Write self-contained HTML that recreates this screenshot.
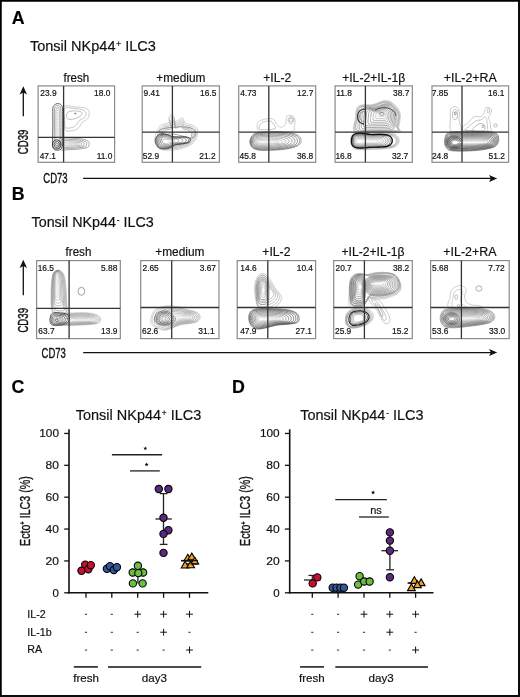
<!DOCTYPE html>
<html><head><meta charset="utf-8"><style>
html,body{margin:0;padding:0;background:#fff;}
body{width:520px;height:697px;overflow:hidden;font-family:"Liberation Sans", sans-serif;}
svg{display:block;will-change:transform;}
text{stroke:#111;stroke-width:0.18px;}
</style></head><body>
<svg width="520" height="697" viewBox="0 0 520 697" font-family='"Liberation Sans", sans-serif'>
<rect x="0" y="0" width="520" height="697" fill="#fff"/>
<text x="11.80" y="23.80" font-size="17.8" text-anchor="start" font-weight="bold" fill="#000" >A</text>
<text x="11.70" y="199.80" font-size="17.8" text-anchor="start" font-weight="bold" fill="#000" >B</text>
<text x="11.40" y="392.80" font-size="17.8" text-anchor="start" font-weight="bold" fill="#000" >C</text>
<text x="231.90" y="392.80" font-size="17.8" text-anchor="start" font-weight="bold" fill="#000" >D</text>
<text x="29.9" y="51.0" font-size="14.7" fill="#111" textLength="126.0" lengthAdjust="spacingAndGlyphs">Tonsil NKp44<tspan dx="0.8" dy="-4.1" font-size="8.5">+</tspan><tspan dy="4.1"> ILC3</tspan></text>
<text x="31.5" y="227.3" font-size="14.7" fill="#111" textLength="122.3" lengthAdjust="spacingAndGlyphs">Tonsil NKp44<tspan dx="0.8" dy="-4.1" font-size="8.5">-</tspan><tspan dy="4.1"> ILC3</tspan></text>
<text x="75.8" y="420.2" font-size="14.7" fill="#111" textLength="125.5" lengthAdjust="spacingAndGlyphs">Tonsil NKp44<tspan dx="0.8" dy="-4.1" font-size="8.5">+</tspan><tspan dy="4.1"> ILC3</tspan></text>
<text x="300.2" y="420.0" font-size="14.7" fill="#111" textLength="123.3" lengthAdjust="spacingAndGlyphs">Tonsil NKp44<tspan dx="0.8" dy="-4.1" font-size="8.5">-</tspan><tspan dy="4.1"> ILC3</tspan></text>
<g>
<path d="M64.00,106.60C65.70,104.58 70.52,106.55 74.10,106.80C77.68,107.05 82.98,107.13 85.50,108.10C88.02,109.07 88.83,110.87 89.20,112.60C89.57,114.33 88.82,116.90 87.70,118.50C86.58,120.10 84.22,120.47 82.50,122.20C80.78,123.93 79.62,127.42 77.40,128.90C75.18,130.38 71.30,130.98 69.20,131.10C67.10,131.22 65.68,131.63 64.80,129.60C63.92,127.57 64.03,122.73 63.90,118.90C63.77,115.07 62.30,108.62 64.00,106.60Z" fill="none" stroke="rgb(165, 165, 165)" stroke-width="0.55"/>
<path d="M64.60,108.40C66.18,106.65 71.10,108.18 74.10,108.40C77.10,108.62 80.60,108.87 82.60,109.70C84.60,110.53 85.77,112.12 86.10,113.40C86.43,114.68 85.68,116.23 84.60,117.40C83.52,118.57 81.27,118.90 79.60,120.40C77.93,121.90 76.43,125.12 74.60,126.40C72.77,127.68 70.18,128.02 68.60,128.10C67.02,128.18 65.77,128.43 65.10,126.90C64.43,125.37 64.68,121.98 64.60,118.90C64.52,115.82 63.02,110.15 64.60,108.40Z" fill="none" stroke="rgb(150, 150, 150)" stroke-width="0.55"/>
<path d="M67.60,112.40C68.85,111.40 71.93,111.02 74.10,110.90C76.27,110.78 79.27,111.20 80.60,111.70C81.93,112.20 82.35,113.03 82.10,113.90C81.85,114.77 80.43,116.07 79.10,116.90C77.77,117.73 75.77,118.48 74.10,118.90C72.43,119.32 70.35,119.73 69.10,119.40C67.85,119.07 66.85,118.07 66.60,116.90C66.35,115.73 66.35,113.40 67.60,112.40Z" fill="none" stroke="rgb(140, 140, 140)" stroke-width="0.55"/>
<ellipse cx="75.30" cy="113.50" rx="0.6" ry="0.5" transform="rotate(0 75.30 113.50)" fill="none" stroke="rgb(90, 90, 90)" stroke-width="0.8"/>
<path d="M60.10,138.50C62.27,136.65 69.27,138.18 73.10,138.30C76.93,138.42 80.52,138.63 83.10,139.20C85.68,139.77 87.60,140.85 88.60,141.70C89.60,142.55 89.27,143.37 89.10,144.30C88.93,145.23 89.10,146.53 87.60,147.30C86.10,148.07 83.35,148.50 80.10,148.90C76.85,149.30 71.43,149.62 68.10,149.70C64.77,149.78 61.43,151.27 60.10,149.40C58.77,147.53 57.93,140.35 60.10,138.50Z" fill="none" stroke="rgb(110, 110, 110)" stroke-width="0.6"/>
<path d="M61.61,139.73C63.48,138.29 69.52,139.49 72.82,139.58C76.13,139.67 79.22,139.84 81.45,140.28C83.68,140.72 85.33,141.56 86.19,142.23C87.06,142.89 86.77,143.53 86.62,144.26C86.48,144.98 86.62,146.00 85.33,146.60C84.04,147.19 81.67,147.53 78.86,147.84C76.06,148.16 71.39,148.40 68.51,148.47C65.64,148.53 62.76,149.69 61.61,148.23C60.46,146.78 59.74,141.18 61.61,139.73Z" fill="none" stroke="rgb(110, 110, 110)" stroke-width="0.6"/>
<path d="M63.12,140.96C64.70,139.93 69.77,140.79 72.55,140.85C75.33,140.92 77.93,141.04 79.80,141.36C81.67,141.67 83.06,142.28 83.79,142.76C84.51,143.23 84.27,143.69 84.15,144.21C84.03,144.73 84.15,145.46 83.06,145.89C81.97,146.32 79.98,146.56 77.62,146.79C75.27,147.01 71.34,147.19 68.92,147.24C66.51,147.28 64.09,148.11 63.12,147.07C62.16,146.02 61.55,142.00 63.12,140.96Z" fill="none" stroke="rgb(120, 120, 120)" stroke-width="0.6"/>
<path d="M64.64,142.20C65.91,141.57 70.02,142.09 72.27,142.13C74.53,142.17 76.63,142.24 78.15,142.43C79.67,142.63 80.79,143.00 81.38,143.28C81.97,143.57 81.77,143.85 81.67,144.17C81.58,144.49 81.67,144.93 80.79,145.19C79.91,145.45 78.30,145.60 76.39,145.73C74.48,145.87 71.30,145.98 69.34,146.00C67.38,146.03 65.42,146.54 64.64,145.90C63.85,145.27 63.36,142.83 64.64,142.20Z" fill="none" stroke="rgb(150, 150, 150)" stroke-width="0.6"/>
<path d="M66.15,143.43C67.12,143.21 70.28,143.39 72.00,143.40C73.72,143.42 75.34,143.44 76.50,143.51C77.66,143.58 78.52,143.71 78.97,143.81C79.42,143.91 79.27,144.01 79.20,144.12C79.12,144.24 79.20,144.39 78.52,144.48C77.85,144.58 76.61,144.63 75.15,144.68C73.69,144.72 71.25,144.76 69.75,144.77C68.25,144.78 66.75,144.96 66.15,144.74C65.55,144.51 65.17,143.65 66.15,143.43Z" fill="none" stroke="rgb(185, 185, 185)" stroke-width="0.6"/>
<path d="M54.10,105.40C54.88,104.58 56.43,103.58 57.60,103.50C58.77,103.42 60.28,104.00 61.10,104.90C61.92,105.80 62.25,106.23 62.50,108.90C62.75,111.57 62.62,116.73 62.60,120.90C62.58,125.07 62.38,130.40 62.40,133.90C62.42,137.40 62.83,139.48 62.70,141.90C62.57,144.32 62.45,147.02 61.60,148.40C60.75,149.78 58.97,150.15 57.60,150.20C56.23,150.25 54.25,149.92 53.40,148.70C52.55,147.48 52.60,145.87 52.50,142.90C52.40,139.93 52.75,135.40 52.80,130.90C52.85,126.40 52.78,119.65 52.80,115.90C52.82,112.15 52.68,110.15 52.90,108.40C53.12,106.65 53.32,106.22 54.10,105.40Z" fill="none" stroke="rgb(45, 45, 45)" stroke-width="0.75"/>
<path d="M55.24,106.94C55.77,106.18 56.81,105.26 57.60,105.18C58.39,105.10 59.41,105.64 59.96,106.48C60.51,107.31 60.74,107.71 60.91,110.18C61.08,112.64 60.99,117.42 60.98,121.28C60.96,125.13 60.83,130.06 60.84,133.30C60.85,136.54 61.13,138.46 61.04,140.70C60.95,142.94 60.87,145.43 60.30,146.71C59.73,147.99 58.52,148.33 57.60,148.38C56.68,148.42 55.34,148.12 54.77,146.99C54.19,145.86 54.23,144.37 54.16,141.62C54.09,138.88 54.33,134.69 54.36,130.53C54.39,126.36 54.35,120.12 54.36,116.65C54.37,113.18 54.28,111.33 54.43,109.71C54.57,108.09 54.71,107.69 55.24,106.94Z" fill="none" stroke="rgb(120, 120, 120)" stroke-width="0.75"/>
<path d="M56.38,108.48C56.65,107.78 57.19,106.93 57.60,106.86C58.01,106.79 58.54,107.29 58.83,108.05C59.11,108.82 59.23,109.18 59.31,111.45C59.40,113.72 59.36,118.11 59.35,121.65C59.34,125.19 59.27,129.73 59.28,132.70C59.29,135.68 59.43,137.45 59.39,139.50C59.34,141.55 59.30,143.85 59.00,145.03C58.70,146.20 58.08,146.51 57.60,146.56C57.12,146.60 56.43,146.31 56.13,145.28C55.83,144.25 55.85,142.87 55.82,140.35C55.78,137.83 55.90,133.97 55.92,130.15C55.94,126.33 55.91,120.59 55.92,117.40C55.93,114.21 55.88,112.51 55.95,111.03C56.03,109.54 56.10,109.17 56.38,108.48Z" fill="none" stroke="rgb(160, 160, 160)" stroke-width="0.75"/>
<line x1="57.70" y1="107.90" x2="57.70" y2="141.90" stroke="#999" stroke-width="0.7" stroke-dasharray="1 1.2"/>
<path d="M61.00,144.50C61.00,145.27 60.78,146.14 60.42,146.80C60.07,147.46 59.47,148.10 58.85,148.48C58.23,148.87 57.42,149.10 56.70,149.10C55.98,149.10 55.17,148.87 54.55,148.48C53.93,148.10 53.33,147.46 52.98,146.80C52.62,146.14 52.40,145.27 52.40,144.50C52.40,143.73 52.62,142.86 52.98,142.20C53.33,141.54 53.93,140.90 54.55,140.52C55.17,140.13 55.98,139.90 56.70,139.90C57.42,139.90 58.23,140.13 58.85,140.52C59.47,140.90 60.07,141.54 60.42,142.20C60.78,142.86 61.00,143.73 61.00,144.50Z" fill="none" stroke="rgb(30, 30, 30)" stroke-width="0.75"/>
<path d="M59.50,144.50C59.50,145.00 59.35,145.56 59.12,146.00C58.89,146.43 58.50,146.84 58.10,147.09C57.69,147.34 57.17,147.49 56.70,147.49C56.23,147.49 55.71,147.34 55.30,147.09C54.90,146.84 54.51,146.43 54.28,146.00C54.05,145.56 53.91,145.00 53.91,144.50C53.91,144.00 54.05,143.44 54.28,143.00C54.51,142.57 54.90,142.16 55.30,141.91C55.71,141.66 56.23,141.51 56.70,141.51C57.17,141.51 57.69,141.66 58.10,141.91C58.50,142.16 58.89,142.57 59.12,143.00C59.35,143.44 59.50,144.00 59.50,144.50Z" fill="none" stroke="rgb(70, 70, 70)" stroke-width="0.75"/>
<path d="M57.99,144.50C57.99,144.73 57.92,144.99 57.82,145.19C57.71,145.39 57.53,145.58 57.35,145.70C57.16,145.81 56.92,145.88 56.70,145.88C56.48,145.88 56.24,145.81 56.05,145.70C55.87,145.58 55.69,145.39 55.58,145.19C55.48,144.99 55.41,144.73 55.41,144.50C55.41,144.27 55.48,144.01 55.58,143.81C55.69,143.61 55.87,143.42 56.05,143.30C56.24,143.19 56.48,143.12 56.70,143.12C56.92,143.12 57.16,143.19 57.35,143.30C57.53,143.42 57.71,143.61 57.82,143.81C57.92,144.01 57.99,144.27 57.99,144.50Z" fill="none" stroke="rgb(110, 110, 110)" stroke-width="0.75"/>
</g>
<rect x="38.10" y="85.90" width="76.50" height="76.40" fill="none" stroke="#8a8a8a" stroke-width="1.2"/>
<line x1="63.60" y1="85.90" x2="63.60" y2="162.30" stroke="#333" stroke-width="1.3" />
<line x1="38.10" y1="137.30" x2="114.60" y2="137.30" stroke="#333" stroke-width="1.3" />
<text x="76.35" y="81.90" font-size="12" text-anchor="middle" font-weight="normal" fill="#111" textLength="25.8" lengthAdjust="spacingAndGlyphs" >fresh</text>
<text x="40.28" y="96.20" font-size="8.4" text-anchor="start" font-weight="normal" fill="#111" >23.9</text>
<text x="110.33" y="96.20" font-size="8.4" text-anchor="end" font-weight="normal" fill="#111" >18.0</text>
<text x="39.71" y="159.00" font-size="8.4" text-anchor="start" font-weight="normal" fill="#111" >47.1</text>
<text x="112.33" y="159.00" font-size="8.4" text-anchor="end" font-weight="normal" fill="#111" >11.0</text>
<g>
<path d="M154.80,138.90C154.80,136.90 155.47,135.40 156.20,133.40C156.93,131.40 158.20,128.40 159.20,126.90C160.20,125.40 160.87,124.98 162.20,124.40C163.53,123.82 166.03,123.82 167.20,123.40C168.37,122.98 168.93,122.82 169.20,121.90C169.47,120.98 168.63,118.98 168.80,117.90C168.97,116.82 169.38,115.73 170.20,115.40C171.02,115.07 172.98,115.32 173.70,115.90C174.42,116.48 174.50,117.98 174.50,118.90C174.50,119.82 173.25,121.07 173.70,121.40C174.15,121.73 176.12,121.32 177.20,120.90C178.28,120.48 179.28,119.40 180.20,118.90C181.12,118.40 182.03,117.57 182.70,117.90C183.37,118.23 183.70,119.98 184.20,120.90C184.70,121.82 184.37,122.73 185.70,123.40C187.03,124.07 190.37,124.15 192.20,124.90C194.03,125.65 195.77,126.57 196.70,127.90C197.63,129.23 197.88,131.07 197.80,132.90C197.72,134.73 197.13,137.07 196.20,138.90C195.27,140.73 193.87,142.57 192.20,143.90C190.53,145.23 188.53,145.98 186.20,146.90C183.87,147.82 181.03,148.83 178.20,149.40C175.37,149.97 172.03,150.30 169.20,150.30C166.37,150.30 163.37,150.22 161.20,149.40C159.03,148.58 157.27,147.15 156.20,145.40C155.13,143.65 154.80,140.90 154.80,138.90Z" fill="none" stroke="rgb(175, 175, 175)" stroke-width="0.55"/>
<path d="M156.48,138.80C156.48,137.00 157.10,135.65 157.77,133.85C158.45,132.05 159.62,129.35 160.55,128.00C161.47,126.65 162.09,126.28 163.32,125.75C164.56,125.22 166.87,125.23 167.95,124.85C169.03,124.48 169.55,124.33 169.80,123.50C170.05,122.67 169.28,120.88 169.43,119.90C169.58,118.93 169.97,117.95 170.72,117.65C171.48,117.35 173.30,117.58 173.96,118.10C174.63,118.63 174.70,119.98 174.70,120.80C174.70,121.63 173.55,122.75 173.96,123.05C174.38,123.35 176.20,122.98 177.20,122.60C178.20,122.23 179.13,121.25 179.97,120.80C180.82,120.35 181.67,119.60 182.29,119.90C182.90,120.20 183.21,121.78 183.67,122.60C184.14,123.43 183.83,124.25 185.06,124.85C186.30,125.45 189.38,125.53 191.07,126.20C192.77,126.88 194.37,127.70 195.24,128.90C196.10,130.10 196.33,131.75 196.25,133.40C196.18,135.05 195.64,137.15 194.77,138.80C193.91,140.45 192.62,142.10 191.07,143.30C189.53,144.50 187.68,145.18 185.52,146.00C183.37,146.82 180.75,147.74 178.12,148.25C175.50,148.76 172.42,149.06 169.80,149.06C167.18,149.06 164.40,148.99 162.40,148.25C160.40,147.51 158.76,146.22 157.77,144.65C156.79,143.08 156.48,140.60 156.48,138.80Z" fill="none" stroke="rgb(156, 156, 156)" stroke-width="0.55"/>
<path d="M158.16,138.70C158.16,137.10 158.73,135.90 159.35,134.30C159.97,132.70 161.05,130.30 161.90,129.10C162.75,127.90 163.32,127.57 164.45,127.10C165.58,126.63 167.71,126.63 168.70,126.30C169.69,125.97 170.17,125.83 170.40,125.10C170.63,124.37 169.92,122.77 170.06,121.90C170.20,121.03 170.56,120.17 171.25,119.90C171.94,119.63 173.62,119.83 174.22,120.30C174.83,120.77 174.90,121.97 174.90,122.70C174.90,123.43 173.84,124.43 174.22,124.70C174.61,124.97 176.28,124.63 177.20,124.30C178.12,123.97 178.97,123.10 179.75,122.70C180.53,122.30 181.31,121.63 181.88,121.90C182.44,122.17 182.72,123.57 183.15,124.30C183.57,125.03 183.29,125.77 184.42,126.30C185.56,126.83 188.39,126.90 189.95,127.50C191.51,128.10 192.98,128.83 193.77,129.90C194.57,130.97 194.78,132.43 194.71,133.90C194.64,135.37 194.14,137.23 193.35,138.70C192.56,140.17 191.37,141.63 189.95,142.70C188.53,143.77 186.83,144.37 184.85,145.10C182.87,145.83 180.46,146.65 178.05,147.10C175.64,147.55 172.81,147.82 170.40,147.82C167.99,147.82 165.44,147.75 163.60,147.10C161.76,146.45 160.26,145.30 159.35,143.90C158.44,142.50 158.16,140.30 158.16,138.70Z" fill="none" stroke="rgb(140, 140, 140)" stroke-width="0.55"/>
<path d="M159.84,138.60C159.84,137.20 160.36,136.15 160.92,134.75C161.49,133.35 162.47,131.25 163.25,130.20C164.03,129.15 164.54,128.86 165.57,128.45C166.61,128.04 168.55,128.04 169.45,127.75C170.35,127.46 170.79,127.34 171.00,126.70C171.21,126.06 170.56,124.66 170.69,123.90C170.82,123.14 171.14,122.38 171.77,122.15C172.41,121.92 173.93,122.09 174.49,122.50C175.04,122.91 175.11,123.96 175.11,124.60C175.11,125.24 174.14,126.12 174.49,126.35C174.84,126.58 176.36,126.29 177.20,126.00C178.04,125.71 178.81,124.95 179.52,124.60C180.24,124.25 180.95,123.67 181.46,123.90C181.98,124.13 182.24,125.36 182.62,126.00C183.01,126.64 182.75,127.28 183.79,127.75C184.82,128.22 187.40,128.28 188.82,128.80C190.25,129.33 191.59,129.97 192.31,130.90C193.04,131.83 193.23,133.12 193.16,134.40C193.10,135.68 192.65,137.32 191.92,138.60C191.20,139.88 190.12,141.17 188.82,142.10C187.53,143.03 185.98,143.56 184.17,144.20C182.37,144.84 180.17,145.55 177.97,145.95C175.78,146.35 173.20,146.58 171.00,146.58C168.80,146.58 166.48,146.52 164.80,145.95C163.12,145.38 161.75,144.38 160.92,143.15C160.10,141.93 159.84,140.00 159.84,138.60Z" fill="none" stroke="rgb(127, 127, 127)" stroke-width="0.55"/>
<path d="M161.52,138.50C161.52,137.30 161.99,136.40 162.50,135.20C163.01,134.00 163.90,132.20 164.60,131.30C165.30,130.40 165.77,130.15 166.70,129.80C167.63,129.45 169.38,129.45 170.20,129.20C171.02,128.95 171.41,128.85 171.60,128.30C171.79,127.75 171.20,126.55 171.32,125.90C171.44,125.25 171.73,124.60 172.30,124.40C172.87,124.20 174.25,124.35 174.75,124.70C175.25,125.05 175.31,125.95 175.31,126.50C175.31,127.05 174.44,127.80 174.75,128.00C175.06,128.20 176.44,127.95 177.20,127.70C177.96,127.45 178.66,126.80 179.30,126.50C179.94,126.20 180.58,125.70 181.05,125.90C181.52,126.10 181.75,127.15 182.10,127.70C182.45,128.25 182.22,128.80 183.15,129.20C184.08,129.60 186.42,129.65 187.70,130.10C188.98,130.55 190.20,131.10 190.85,131.90C191.50,132.70 191.68,133.80 191.62,134.90C191.56,136.00 191.15,137.40 190.50,138.50C189.85,139.60 188.87,140.70 187.70,141.50C186.53,142.30 185.13,142.75 183.50,143.30C181.87,143.85 179.88,144.46 177.90,144.80C175.92,145.14 173.58,145.34 171.60,145.34C169.62,145.34 167.52,145.29 166.00,144.80C164.48,144.31 163.25,143.45 162.50,142.40C161.75,141.35 161.52,139.70 161.52,138.50Z" fill="none" stroke="rgb(120, 120, 120)" stroke-width="0.55"/>
<path d="M159.20,130.90C159.20,129.90 162.03,128.98 164.20,128.40C166.37,127.82 169.20,127.65 172.20,127.40C175.20,127.15 179.20,126.82 182.20,126.90C185.20,126.98 188.03,127.23 190.20,127.90C192.37,128.57 194.37,129.57 195.20,130.90C196.03,132.23 196.03,134.73 195.20,135.90C194.37,137.07 192.37,137.90 190.20,137.90C188.03,137.90 185.20,136.57 182.20,135.90C179.20,135.23 175.20,134.15 172.20,133.90C169.20,133.65 166.37,134.90 164.20,134.40C162.03,133.90 159.20,131.90 159.20,130.90Z" fill="none" stroke="rgb(110, 110, 110)" stroke-width="0.6"/>
<path d="M155.20,140.90C155.03,138.98 156.20,137.07 157.20,135.90C158.20,134.73 159.53,134.15 161.20,133.90C162.87,133.65 165.37,133.98 167.20,134.40C169.03,134.82 170.37,135.98 172.20,136.40C174.03,136.82 175.87,136.82 178.20,136.90C180.53,136.98 184.20,136.57 186.20,136.90C188.20,137.23 189.70,137.98 190.20,138.90C190.70,139.82 190.53,141.57 189.20,142.40C187.87,143.23 184.53,143.48 182.20,143.90C179.87,144.32 177.20,144.23 175.20,144.90C173.20,145.57 172.03,147.20 170.20,147.90C168.37,148.60 166.20,149.18 164.20,149.10C162.20,149.02 159.70,148.77 158.20,147.40C156.70,146.03 155.37,142.82 155.20,140.90Z" fill="none" stroke="rgb(25, 25, 25)" stroke-width="0.65"/>
<path d="M155.95,140.94C155.80,139.16 156.88,137.39 157.81,136.30C158.75,135.22 159.99,134.68 161.54,134.45C163.09,134.22 165.42,134.53 167.13,134.91C168.84,135.30 170.08,136.38 171.79,136.77C173.50,137.15 175.21,137.15 177.38,137.23C179.55,137.31 182.97,136.92 184.83,137.23C186.70,137.54 188.10,138.23 188.56,139.08C189.03,139.93 188.87,141.55 187.63,142.33C186.39,143.10 183.28,143.33 181.11,143.72C178.93,144.10 176.45,144.02 174.59,144.64C172.72,145.26 171.63,146.77 169.93,147.42C168.22,148.07 166.20,148.61 164.34,148.53C162.47,148.46 160.14,148.22 158.75,146.96C157.35,145.69 156.11,142.71 155.95,140.94Z" fill="none" stroke="rgb(61, 61, 61)" stroke-width="0.65"/>
<path d="M157.18,141.00C157.05,139.45 158.00,137.91 158.82,136.97C159.64,136.03 160.73,135.56 162.10,135.36C163.47,135.15 165.52,135.42 167.02,135.76C168.52,136.09 169.62,137.03 171.12,137.37C172.62,137.71 174.12,137.71 176.04,137.77C177.95,137.84 180.96,137.50 182.60,137.77C184.24,138.04 185.46,138.65 185.87,139.39C186.28,140.12 186.15,141.53 185.05,142.21C183.96,142.88 181.23,143.08 179.32,143.41C177.40,143.75 175.22,143.68 173.58,144.22C171.94,144.76 170.98,146.07 169.48,146.64C167.98,147.20 166.20,147.67 164.56,147.61C162.92,147.54 160.87,147.34 159.64,146.24C158.41,145.13 157.32,142.54 157.18,141.00Z" fill="none" stroke="rgb(88, 88, 88)" stroke-width="0.65"/>
<path d="M158.70,141.07C158.58,139.81 159.38,138.55 160.06,137.78C160.74,137.02 161.65,136.63 162.79,136.47C163.93,136.30 165.63,136.52 166.88,136.80C168.13,137.07 169.04,137.84 170.29,138.11C171.54,138.39 172.79,138.39 174.38,138.44C175.98,138.50 178.48,138.22 179.84,138.44C181.21,138.66 182.23,139.15 182.57,139.76C182.91,140.36 182.80,141.51 181.89,142.06C180.98,142.61 178.70,142.77 177.11,143.04C175.52,143.32 173.70,143.26 172.34,143.70C170.97,144.14 170.18,145.21 168.93,145.67C167.68,146.13 166.20,146.52 164.84,146.46C163.47,146.41 161.77,146.24 160.74,145.35C159.72,144.45 158.81,142.33 158.70,141.07Z" fill="none" stroke="rgb(112, 112, 112)" stroke-width="0.65"/>
<path d="M160.43,141.16C160.34,140.22 160.96,139.29 161.48,138.72C162.00,138.15 162.70,137.86 163.58,137.74C164.45,137.62 165.76,137.78 166.72,137.99C167.69,138.19 168.39,138.76 169.35,138.96C170.31,139.16 171.27,139.16 172.49,139.20C173.72,139.25 175.64,139.04 176.69,139.20C177.74,139.37 178.52,139.73 178.79,140.18C179.05,140.63 178.96,141.48 178.26,141.89C177.56,142.29 175.81,142.42 174.59,142.62C173.37,142.82 171.97,142.78 170.92,143.11C169.87,143.43 169.26,144.23 168.30,144.57C167.34,144.91 166.20,145.20 165.15,145.16C164.10,145.12 162.79,144.99 162.00,144.33C161.22,143.66 160.52,142.09 160.43,141.16Z" fill="none" stroke="rgb(138, 138, 138)" stroke-width="0.65"/>
<path d="M162.35,141.25C162.29,140.68 162.70,140.10 163.05,139.75C163.40,139.40 163.87,139.22 164.45,139.15C165.03,139.08 165.91,139.18 166.55,139.30C167.19,139.43 167.66,139.78 168.30,139.90C168.94,140.03 169.58,140.03 170.40,140.05C171.22,140.08 172.50,139.95 173.20,140.05C173.90,140.15 174.42,140.38 174.60,140.65C174.78,140.93 174.72,141.45 174.25,141.70C173.78,141.95 172.62,142.03 171.80,142.15C170.98,142.28 170.05,142.25 169.35,142.45C168.65,142.65 168.24,143.14 167.60,143.35C166.96,143.56 166.20,143.74 165.50,143.71C164.80,143.69 163.92,143.61 163.40,143.20C162.87,142.79 162.41,141.82 162.35,141.25Z" fill="none" stroke="rgb(170, 170, 170)" stroke-width="0.65"/>
</g>
<rect x="142.20" y="85.90" width="77.20" height="76.40" fill="none" stroke="#8a8a8a" stroke-width="1.2"/>
<line x1="172.40" y1="85.90" x2="172.40" y2="162.30" stroke="#333" stroke-width="1.3" />
<line x1="142.20" y1="132.20" x2="219.40" y2="132.20" stroke="#333" stroke-width="1.3" />
<text x="180.80" y="81.90" font-size="12" text-anchor="middle" font-weight="normal" fill="#111" textLength="49.1" lengthAdjust="spacingAndGlyphs" >+medium</text>
<text x="143.51" y="96.20" font-size="8.4" text-anchor="start" font-weight="normal" fill="#111" >9.41</text>
<text x="216.35" y="96.20" font-size="8.4" text-anchor="end" font-weight="normal" fill="#111" >16.5</text>
<text x="142.76" y="159.00" font-size="8.4" text-anchor="start" font-weight="normal" fill="#111" >52.9</text>
<text x="215.62" y="159.00" font-size="8.4" text-anchor="end" font-weight="normal" fill="#111" >21.2</text>
<g>
<path d="M257.20,125.40C257.20,123.73 257.87,122.32 258.70,121.40C259.53,120.48 260.87,120.32 262.20,119.90C263.53,119.48 265.20,119.13 266.70,118.90C268.20,118.67 269.95,118.33 271.20,118.50C272.45,118.67 273.37,119.08 274.20,119.90C275.03,120.72 275.45,122.32 276.20,123.40C276.95,124.48 277.62,125.82 278.70,126.40C279.78,126.98 281.53,127.32 282.70,126.90C283.87,126.48 285.12,125.15 285.70,123.90C286.28,122.65 285.95,120.73 286.20,119.40C286.45,118.07 286.45,116.55 287.20,115.90C287.95,115.25 289.53,115.25 290.70,115.50C291.87,115.75 293.45,116.33 294.20,117.40C294.95,118.47 295.20,120.32 295.20,121.90C295.20,123.48 294.45,125.40 294.20,126.90C293.95,128.40 295.45,130.07 293.70,130.90C291.95,131.73 287.87,131.77 283.70,131.90C279.53,132.03 272.87,131.78 268.70,131.70C264.53,131.62 260.62,132.45 258.70,131.40C256.78,130.35 257.20,127.07 257.20,125.40Z" fill="none" stroke="rgb(170, 170, 170)" stroke-width="0.55"/>
<path d="M259.20,126.90C259.53,125.82 260.62,123.82 261.70,122.90C262.78,121.98 264.20,121.70 265.70,121.40C267.20,121.10 269.45,120.68 270.70,121.10C271.95,121.52 272.37,122.77 273.20,123.90C274.03,125.03 275.95,126.98 275.70,127.90C275.45,128.82 273.53,129.10 271.70,129.40C269.87,129.70 266.70,129.70 264.70,129.70C262.70,129.70 260.62,129.87 259.70,129.40C258.78,128.93 258.87,127.98 259.20,126.90Z" fill="none" stroke="rgb(150, 150, 150)" stroke-width="0.55"/>
<ellipse cx="291.00" cy="119.90" rx="1.8" ry="2.0" transform="rotate(0 291.00 119.90)" fill="none" stroke="rgb(130, 130, 130)" stroke-width="0.55"/>
<path d="M288.20,118.90C288.53,117.95 289.82,116.78 290.70,116.70C291.58,116.62 293.08,117.45 293.50,118.40C293.92,119.35 293.67,121.48 293.20,122.40C292.73,123.32 291.45,123.90 290.70,123.90C289.95,123.90 289.12,123.23 288.70,122.40C288.28,121.57 287.87,119.85 288.20,118.90Z" fill="none" stroke="rgb(160, 160, 160)" stroke-width="0.55"/>
<path d="M249.80,141.90C249.72,140.07 250.72,137.85 251.70,136.40C252.68,134.95 253.70,133.95 255.70,133.20C257.70,132.45 259.87,132.15 263.70,131.90C267.53,131.65 274.20,131.57 278.70,131.70C283.20,131.83 287.37,132.00 290.70,132.70C294.03,133.40 296.97,134.62 298.70,135.90C300.43,137.18 300.93,138.98 301.10,140.40C301.27,141.82 300.93,143.23 299.70,144.40C298.47,145.57 296.37,146.57 293.70,147.40C291.03,148.23 287.53,148.92 283.70,149.40C279.87,149.88 274.87,150.18 270.70,150.30C266.53,150.42 261.78,150.58 258.70,150.10C255.62,149.62 253.68,148.77 252.20,147.40C250.72,146.03 249.88,143.73 249.80,141.90Z" fill="none" stroke="rgb(90, 90, 90)" stroke-width="0.55"/>
<path d="M250.20,141.90C250.12,140.18 251.09,138.09 252.03,136.73C252.98,135.36 253.96,134.42 255.89,133.71C257.81,133.01 259.90,132.73 263.59,132.49C267.28,132.26 273.71,132.18 278.04,132.30C282.37,132.43 286.39,132.59 289.60,133.24C292.81,133.90 295.63,135.05 297.30,136.26C298.97,137.46 299.45,139.16 299.61,140.49C299.78,141.82 299.45,143.16 298.27,144.25C297.08,145.35 295.06,146.29 292.49,147.08C289.92,147.86 286.55,148.50 282.86,148.96C279.16,149.41 274.35,149.70 270.33,149.81C266.32,149.92 261.75,150.07 258.78,149.62C255.81,149.16 253.95,148.36 252.52,147.08C251.09,145.79 250.29,143.63 250.20,141.90Z" fill="none" stroke="rgb(75, 75, 75)" stroke-width="0.55"/>
<path d="M250.80,141.90C250.72,140.34 251.63,138.44 252.52,137.20C253.42,135.96 254.34,135.11 256.16,134.47C257.98,133.83 259.95,133.57 263.44,133.36C266.92,133.14 272.98,133.07 277.08,133.18C281.17,133.30 284.96,133.44 287.99,134.04C291.02,134.64 293.68,135.68 295.26,136.77C296.84,137.87 297.29,139.41 297.44,140.62C297.59,141.83 297.29,143.04 296.17,144.04C295.05,145.04 293.14,145.89 290.71,146.61C288.29,147.32 285.11,147.90 281.62,148.32C278.14,148.73 273.59,148.99 269.80,149.08C266.01,149.18 261.69,149.33 258.89,148.91C256.09,148.50 254.33,147.77 252.98,146.61C251.63,145.44 250.87,143.47 250.80,141.90Z" fill="none" stroke="rgb(60, 60, 60)" stroke-width="0.55"/>
<path d="M251.49,141.91C251.42,140.52 252.26,138.85 253.10,137.76C253.93,136.67 254.79,135.91 256.48,135.35C258.17,134.78 260.01,134.55 263.25,134.37C266.50,134.18 272.14,134.11 275.95,134.21C279.76,134.32 283.28,134.44 286.10,134.97C288.92,135.50 291.41,136.41 292.87,137.38C294.34,138.35 294.76,139.71 294.91,140.78C295.05,141.84 294.76,142.91 293.72,143.79C292.68,144.67 290.90,145.43 288.64,146.05C286.39,146.68 283.42,147.20 280.18,147.56C276.94,147.93 272.70,148.15 269.18,148.24C265.65,148.33 261.63,148.45 259.02,148.09C256.41,147.73 254.78,147.08 253.52,146.05C252.26,145.02 251.56,143.29 251.49,141.91Z" fill="none" stroke="rgb(70, 70, 70)" stroke-width="0.55"/>
<path d="M252.26,141.91C252.19,140.73 252.97,139.31 253.73,138.38C254.49,137.44 255.28,136.80 256.84,136.32C258.39,135.84 260.07,135.64 263.05,135.48C266.03,135.32 271.20,135.27 274.70,135.36C278.19,135.44 281.43,135.55 284.02,136.00C286.61,136.45 288.89,137.23 290.23,138.05C291.58,138.88 291.97,140.04 292.10,140.95C292.23,141.86 291.97,142.77 291.01,143.52C290.05,144.27 288.42,144.91 286.35,145.44C284.28,145.98 281.56,146.42 278.58,146.73C275.61,147.04 271.72,147.23 268.49,147.31C265.25,147.38 261.56,147.49 259.17,147.18C256.77,146.87 255.27,146.32 254.12,145.44C252.97,144.57 252.32,143.09 252.26,141.91Z" fill="none" stroke="rgb(80, 80, 80)" stroke-width="0.55"/>
<path d="M253.08,141.91C253.02,140.96 253.72,139.80 254.41,139.04C255.10,138.28 255.82,137.76 257.22,137.37C258.62,136.98 260.14,136.82 262.83,136.69C265.52,136.56 270.20,136.52 273.35,136.59C276.51,136.65 279.43,136.74 281.77,137.11C284.11,137.47 286.17,138.11 287.38,138.78C288.60,139.45 288.95,140.39 289.07,141.13C289.18,141.87 288.95,142.61 288.08,143.22C287.22,143.83 285.75,144.35 283.88,144.79C282.00,145.22 279.55,145.58 276.86,145.83C274.17,146.08 270.66,146.24 267.74,146.30C264.82,146.36 261.49,146.45 259.32,146.20C257.16,145.94 255.81,145.50 254.76,144.79C253.72,144.07 253.14,142.87 253.08,141.91Z" fill="none" stroke="rgb(100, 100, 100)" stroke-width="0.55"/>
<path d="M253.96,141.92C253.91,141.19 254.53,140.32 255.14,139.75C255.75,139.17 256.38,138.78 257.63,138.48C258.87,138.19 260.22,138.07 262.60,137.97C264.98,137.87 269.13,137.84 271.92,137.89C274.72,137.94 277.31,138.01 279.38,138.29C281.45,138.56 283.28,139.04 284.36,139.55C285.43,140.06 285.74,140.77 285.85,141.32C285.95,141.88 285.74,142.44 284.98,142.90C284.21,143.36 282.91,143.76 281.25,144.09C279.59,144.42 277.41,144.69 275.03,144.88C272.65,145.07 269.54,145.18 266.95,145.23C264.36,145.28 261.41,145.34 259.49,145.15C257.57,144.96 256.37,144.63 255.45,144.09C254.53,143.55 254.01,142.64 253.96,141.92Z" fill="none" stroke="rgb(120, 120, 120)" stroke-width="0.55"/>
<path d="M254.88,141.92C254.84,141.44 255.37,140.87 255.90,140.49C256.43,140.11 256.98,139.85 258.05,139.66C259.13,139.46 260.29,139.38 262.35,139.32C264.42,139.25 268.00,139.23 270.42,139.27C272.84,139.30 275.08,139.34 276.87,139.53C278.66,139.71 280.24,140.02 281.17,140.36C282.10,140.69 282.37,141.16 282.46,141.53C282.55,141.90 282.37,142.27 281.71,142.57C281.05,142.87 279.92,143.13 278.48,143.35C277.05,143.57 275.17,143.75 273.11,143.87C271.05,144.00 268.36,144.08 266.12,144.11C263.88,144.14 261.32,144.18 259.67,144.05C258.01,143.93 256.97,143.71 256.17,143.35C255.37,143.00 254.93,142.40 254.88,141.92Z" fill="none" stroke="rgb(145, 145, 145)" stroke-width="0.55"/>
<path d="M255.84,141.92C255.81,141.70 256.26,141.44 256.70,141.26C257.14,141.09 257.60,140.97 258.50,140.88C259.40,140.79 260.38,140.75 262.10,140.72C263.82,140.69 266.82,140.68 268.85,140.70C270.88,140.72 272.75,140.74 274.25,140.82C275.75,140.90 277.07,141.05 277.85,141.20C278.63,141.36 278.86,141.57 278.93,141.74C279.00,141.91 278.86,142.08 278.30,142.22C277.75,142.36 276.80,142.48 275.60,142.58C274.40,142.68 272.82,142.77 271.10,142.82C269.38,142.88 267.12,142.92 265.25,142.93C263.38,142.95 261.24,142.97 259.85,142.91C258.46,142.85 257.59,142.75 256.93,142.58C256.26,142.42 255.88,142.14 255.84,141.92Z" fill="none" stroke="rgb(170, 170, 170)" stroke-width="0.55"/>
<path d="M258.70,142.40 L283.70,142.40" stroke="#f2f2f2" stroke-width="1.1" stroke-dasharray="2.5 0.8"/>
</g>
<rect x="238.70" y="85.90" width="77.00" height="76.40" fill="none" stroke="#8a8a8a" stroke-width="1.2"/>
<line x1="268.80" y1="85.90" x2="268.80" y2="162.30" stroke="#333" stroke-width="1.3" />
<line x1="238.70" y1="132.20" x2="315.70" y2="132.20" stroke="#333" stroke-width="1.3" />
<text x="277.20" y="81.90" font-size="12" text-anchor="middle" font-weight="normal" fill="#111" textLength="28.1" lengthAdjust="spacingAndGlyphs" >+IL-2</text>
<text x="240.21" y="96.20" font-size="8.4" text-anchor="start" font-weight="normal" fill="#111" >4.73</text>
<text x="313.32" y="96.20" font-size="8.4" text-anchor="end" font-weight="normal" fill="#111" >12.7</text>
<text x="239.61" y="159.00" font-size="8.4" text-anchor="start" font-weight="normal" fill="#111" >45.8</text>
<text x="313.26" y="159.00" font-size="8.4" text-anchor="end" font-weight="normal" fill="#111" >36.8</text>
<g>
<path d="M354.80,132.40C351.18,129.97 355.12,122.03 355.40,118.10C355.68,114.17 355.73,110.92 356.50,108.80C357.27,106.68 358.45,106.07 360.00,105.40C361.55,104.73 363.88,104.90 365.80,104.80C367.72,104.70 369.58,105.08 371.50,104.80C373.42,104.52 375.37,103.77 377.30,103.10C379.23,102.43 380.98,101.10 383.10,100.80C385.22,100.50 388.08,100.63 390.00,101.30C391.92,101.97 393.25,103.55 394.60,104.80C395.95,106.05 397.13,107.17 398.10,108.80C399.07,110.43 400.12,112.48 400.40,114.60C400.68,116.72 400.10,119.28 399.80,121.50C399.50,123.72 398.70,126.08 398.60,127.90C398.50,129.72 402.78,131.60 399.20,132.40C395.62,133.20 384.50,132.70 377.10,132.70C369.70,132.70 358.42,134.83 354.80,132.40Z" fill="none" stroke="rgb(175, 175, 175)" stroke-width="0.55"/>
<path d="M355.58,131.73C352.08,129.40 355.88,121.81 356.16,118.05C356.43,114.29 356.48,111.18 357.22,109.15C357.96,107.13 359.11,106.54 360.60,105.90C362.10,105.26 364.36,105.42 366.21,105.32C368.06,105.23 369.87,105.60 371.72,105.32C373.57,105.05 375.46,104.34 377.33,103.70C379.20,103.06 380.89,101.78 382.93,101.50C384.98,101.21 387.75,101.34 389.60,101.98C391.46,102.61 392.75,104.13 394.05,105.32C395.36,106.52 396.50,107.59 397.43,109.15C398.37,110.71 399.38,112.67 399.66,114.70C399.93,116.72 399.37,119.18 399.08,121.30C398.79,123.42 398.01,125.69 397.92,127.42C397.82,129.16 401.96,130.96 398.50,131.73C395.03,132.49 384.29,132.02 377.13,132.02C369.98,132.02 359.07,134.06 355.58,131.73Z" fill="none" stroke="rgb(158, 158, 158)" stroke-width="0.55"/>
<path d="M356.35,131.06C352.98,128.83 356.65,121.59 356.91,118.00C357.18,114.40 357.22,111.44 357.94,109.50C358.66,107.57 359.76,107.01 361.21,106.40C362.65,105.79 364.83,105.94 366.62,105.85C368.41,105.76 370.15,106.11 371.94,105.85C373.73,105.59 375.55,104.90 377.35,104.30C379.16,103.69 380.79,102.47 382.77,102.20C384.74,101.92 387.42,102.04 389.21,102.65C391.00,103.26 392.24,104.71 393.50,105.85C394.76,106.99 395.86,108.01 396.77,109.50C397.67,110.99 398.65,112.87 398.91,114.80C399.18,116.73 398.63,119.08 398.35,121.10C398.07,123.13 397.33,125.29 397.23,126.95C397.14,128.61 401.14,130.33 397.79,131.06C394.45,131.79 384.07,131.33 377.17,131.33C370.26,131.33 359.73,133.28 356.35,131.06Z" fill="none" stroke="rgb(145, 145, 145)" stroke-width="0.55"/>
<path d="M357.13,130.38C353.88,128.27 357.42,121.37 357.67,117.94C357.93,114.52 357.97,111.69 358.66,109.85C359.35,108.01 360.42,107.48 361.81,106.90C363.20,106.32 365.31,106.46 367.03,106.37C368.76,106.29 370.44,106.62 372.16,106.37C373.89,106.13 375.64,105.47 377.38,104.89C379.12,104.31 380.70,103.15 382.60,102.89C384.50,102.63 387.08,102.75 388.81,103.33C390.54,103.91 391.74,105.29 392.95,106.37C394.17,107.46 395.23,108.43 396.10,109.85C396.97,111.27 397.92,113.06 398.17,114.90C398.43,116.74 397.90,118.97 397.63,120.90C397.36,122.83 396.64,124.89 396.55,126.47C396.46,128.05 400.32,129.69 397.09,130.38C393.87,131.08 383.86,130.65 377.20,130.65C370.54,130.65 360.38,132.50 357.13,130.38Z" fill="none" stroke="rgb(135, 135, 135)" stroke-width="0.55"/>
<path d="M358.10,129.90C357.35,127.65 358.27,121.23 358.60,117.90C358.93,114.57 359.02,111.65 360.10,109.90C361.18,108.15 363.10,107.82 365.10,107.40C367.10,106.98 369.93,107.65 372.10,107.40C374.27,107.15 376.10,106.48 378.10,105.90C380.10,105.32 382.10,104.15 384.10,103.90C386.10,103.65 388.35,103.65 390.10,104.40C391.85,105.15 393.52,106.73 394.60,108.40C395.68,110.07 396.35,112.23 396.60,114.40C396.85,116.57 396.43,119.15 396.10,121.40C395.77,123.65 395.60,126.32 394.60,127.90C393.60,129.48 393.35,130.32 390.10,130.90C386.85,131.48 379.60,131.32 375.10,131.40C370.60,131.48 365.93,131.65 363.10,131.40C360.27,131.15 358.85,132.15 358.10,129.90Z" fill="none" stroke="rgb(140, 140, 140)" stroke-width="0.55"/>
<path d="M359.56,128.93C358.85,126.82 359.71,120.81 360.03,117.69C360.34,114.56 360.42,111.83 361.44,110.19C362.45,108.55 364.25,108.24 366.13,107.85C368.01,107.46 370.67,108.08 372.71,107.85C374.74,107.61 376.46,106.99 378.34,106.44C380.22,105.89 382.10,104.80 383.97,104.57C385.85,104.33 387.97,104.33 389.61,105.04C391.25,105.74 392.82,107.22 393.84,108.78C394.85,110.35 395.48,112.38 395.71,114.41C395.95,116.44 395.56,118.86 395.24,120.96C394.93,123.07 394.77,125.57 393.84,127.06C392.90,128.54 392.66,129.32 389.61,129.87C386.56,130.41 379.75,130.26 375.52,130.33C371.30,130.41 366.91,130.57 364.25,130.33C361.59,130.10 360.26,131.04 359.56,128.93Z" fill="none" stroke="rgb(122, 122, 122)" stroke-width="0.55"/>
<path d="M361.45,127.67C360.80,125.75 361.59,120.26 361.88,117.41C362.16,114.56 362.24,112.06 363.17,110.56C364.10,109.07 365.75,108.78 367.47,108.43C369.19,108.07 371.63,108.64 373.49,108.43C375.35,108.21 376.93,107.64 378.65,107.14C380.37,106.64 382.09,105.65 383.81,105.43C385.53,105.22 387.47,105.22 388.97,105.86C390.48,106.50 391.91,107.86 392.84,109.28C393.78,110.71 394.35,112.56 394.56,114.41C394.78,116.27 394.42,118.48 394.13,120.40C393.85,122.32 393.70,124.60 392.84,125.96C391.98,127.31 391.77,128.03 388.97,128.52C386.18,129.02 379.94,128.88 376.07,128.95C372.20,129.02 368.19,129.17 365.75,128.95C363.31,128.74 362.09,129.59 361.45,127.67Z" fill="none" stroke="rgb(104, 104, 104)" stroke-width="0.55"/>
<path d="M363.55,126.27C362.97,124.55 363.67,119.65 363.93,117.10C364.19,114.55 364.25,112.32 365.09,110.98C365.93,109.64 367.41,109.39 368.95,109.07C370.50,108.75 372.69,109.26 374.36,109.07C376.03,108.88 377.45,108.37 379.00,107.92C380.54,107.48 382.09,106.58 383.63,106.39C385.18,106.20 386.92,106.20 388.27,106.78C389.62,107.35 390.91,108.56 391.74,109.83C392.58,111.11 393.10,112.76 393.29,114.42C393.48,116.08 393.16,118.05 392.90,119.77C392.64,121.49 392.52,123.53 391.74,124.74C390.97,125.95 390.78,126.59 388.27,127.04C385.76,127.48 380.16,127.35 376.68,127.42C373.20,127.48 369.60,127.61 367.41,127.42C365.22,127.23 364.12,127.99 363.55,126.27Z" fill="none" stroke="rgb(98, 98, 98)" stroke-width="0.55"/>
<path d="M365.79,124.78C365.28,123.27 365.90,118.99 366.13,116.77C366.36,114.54 366.41,112.59 367.15,111.43C367.88,110.26 369.18,110.04 370.54,109.76C371.90,109.48 373.82,109.92 375.29,109.76C376.76,109.59 378.01,109.15 379.37,108.76C380.72,108.37 382.08,107.59 383.44,107.42C384.80,107.26 386.32,107.26 387.51,107.76C388.70,108.26 389.83,109.31 390.57,110.43C391.30,111.54 391.75,112.98 391.92,114.43C392.09,115.88 391.81,117.60 391.58,119.10C391.36,120.60 391.24,122.38 390.57,123.44C389.89,124.50 389.72,125.05 387.51,125.44C385.31,125.83 380.38,125.72 377.33,125.78C374.28,125.83 371.11,125.94 369.18,125.78C367.26,125.61 366.30,126.28 365.79,124.78Z" fill="none" stroke="rgb(96, 96, 96)" stroke-width="0.55"/>
<path d="M368.15,123.20C367.72,121.93 368.25,118.30 368.44,116.42C368.64,114.53 368.68,112.88 369.31,111.90C369.94,110.91 371.05,110.72 372.21,110.48C373.37,110.25 375.02,110.62 376.27,110.48C377.53,110.34 378.59,109.96 379.75,109.63C380.91,109.30 382.08,108.64 383.24,108.50C384.40,108.36 385.70,108.36 386.72,108.79C387.73,109.21 388.70,110.11 389.33,111.05C389.96,111.99 390.34,113.21 390.49,114.44C390.63,115.66 390.39,117.12 390.20,118.40C390.00,119.67 389.91,121.18 389.33,122.07C388.75,122.97 388.60,123.44 386.72,123.77C384.83,124.10 380.62,124.00 378.01,124.05C375.40,124.10 372.70,124.19 371.05,124.05C369.41,123.91 368.59,124.47 368.15,123.20Z" fill="none" stroke="rgb(100, 100, 100)" stroke-width="0.55"/>
<path d="M370.61,121.56C370.25,120.53 370.69,117.59 370.85,116.06C371.01,114.53 371.05,113.19 371.56,112.38C372.08,111.58 373.00,111.43 373.95,111.24C374.91,111.04 376.26,111.35 377.29,111.24C378.33,111.12 379.20,110.82 380.16,110.55C381.11,110.28 382.07,109.74 383.02,109.63C383.98,109.51 385.05,109.51 385.89,109.86C386.72,110.20 387.52,110.93 388.04,111.69C388.55,112.46 388.87,113.45 388.99,114.45C389.11,115.44 388.91,116.63 388.75,117.66C388.59,118.70 388.52,119.92 388.04,120.65C387.56,121.37 387.44,121.76 385.89,122.02C384.34,122.29 380.88,122.21 378.73,122.25C376.58,122.29 374.35,122.37 373.00,122.25C371.64,122.14 370.97,122.60 370.61,121.56Z" fill="none" stroke="rgb(111, 111, 111)" stroke-width="0.55"/>
<path d="M373.15,119.87C372.87,119.08 373.21,116.84 373.34,115.68C373.46,114.52 373.49,113.50 373.89,112.89C374.30,112.28 375.01,112.16 375.75,112.02C376.49,111.87 377.55,112.10 378.35,112.02C379.15,111.93 379.84,111.70 380.58,111.49C381.32,111.29 382.06,110.88 382.81,110.79C383.55,110.71 384.38,110.71 385.03,110.97C385.68,111.23 386.30,111.78 386.70,112.36C387.11,112.95 387.35,113.70 387.45,114.46C387.54,115.22 387.38,116.12 387.26,116.90C387.14,117.69 387.08,118.62 386.70,119.17C386.33,119.72 386.24,120.02 385.03,120.22C383.83,120.42 381.13,120.36 379.46,120.39C377.79,120.42 376.06,120.48 375.01,120.39C373.96,120.31 373.43,120.66 373.15,119.87Z" fill="none" stroke="rgb(127, 127, 127)" stroke-width="0.55"/>
<path d="M375.77,118.13C375.57,117.60 375.81,116.08 375.90,115.30C375.99,114.51 376.01,113.82 376.29,113.41C376.58,112.99 377.08,112.92 377.60,112.82C378.13,112.72 378.87,112.88 379.44,112.82C380.00,112.76 380.48,112.60 381.01,112.46C381.53,112.33 382.06,112.05 382.58,111.99C383.10,111.93 383.69,111.93 384.15,112.11C384.61,112.29 385.05,112.66 385.33,113.05C385.62,113.45 385.79,113.96 385.86,114.47C385.92,114.98 385.81,115.59 385.73,116.12C385.64,116.65 385.59,117.28 385.33,117.66C385.07,118.03 385.00,118.23 384.15,118.36C383.30,118.50 381.40,118.46 380.22,118.48C379.04,118.50 377.82,118.54 377.08,118.48C376.34,118.42 375.96,118.66 375.77,118.13Z" fill="none" stroke="rgb(158, 158, 158)" stroke-width="0.55"/>
<path d="M378.45,116.34C378.34,116.07 378.48,115.30 378.53,114.90C378.58,114.50 378.59,114.15 378.75,113.94C378.91,113.73 379.20,113.69 379.50,113.64C379.80,113.59 380.23,113.67 380.55,113.64C380.88,113.61 381.15,113.53 381.45,113.46C381.75,113.39 382.05,113.25 382.35,113.22C382.65,113.19 382.99,113.19 383.25,113.28C383.51,113.37 383.76,113.56 383.93,113.76C384.09,113.96 384.19,114.22 384.23,114.48C384.26,114.74 384.20,115.05 384.15,115.32C384.10,115.59 384.08,115.91 383.93,116.10C383.77,116.29 383.74,116.39 383.25,116.46C382.76,116.53 381.68,116.51 381.00,116.52C380.32,116.53 379.63,116.55 379.20,116.52C378.78,116.49 378.56,116.61 378.45,116.34Z" fill="none" stroke="rgb(190, 190, 190)" stroke-width="0.55"/>
<path d="M365.10,109.30 C361.10,108.70 357.90,111.40 357.60,115.40 C357.30,119.90 359.10,123.40 364.10,124.10" fill="none" stroke="rgb(35,35,35)" stroke-width="1.1"/>
<path d="M364.60,111.40 C361.60,111.40 359.70,113.40 359.60,115.90 C359.60,118.90 361.10,121.40 364.60,121.90" fill="none" stroke="rgb(110,110,110)" stroke-width="0.6"/>
<path d="M375.00,110.00 C378.10,108.40 382.10,107.40 385.40,107.70 C389.10,107.90 393.10,109.90 394.60,112.30 C395.60,113.90 395.90,114.90 395.80,115.80" fill="none" stroke="rgb(60,60,60)" stroke-width="0.9"/>
<ellipse cx="381.90" cy="114.00" rx="2.2" ry="1.5" transform="rotate(0 381.90 114.00)" fill="none" stroke="rgb(90, 90, 90)" stroke-width="0.55"/>
<ellipse cx="371.50" cy="118.60" rx="1.1" ry="0.9" fill="#fff"/>
<path d="M350.60,140.90C350.35,138.57 350.52,135.73 352.10,134.40C353.68,133.07 356.27,133.12 360.10,132.90C363.93,132.68 370.60,133.02 375.10,133.10C379.60,133.18 383.77,133.18 387.10,133.40C390.43,133.62 393.18,133.65 395.10,134.40C397.02,135.15 397.97,136.48 398.60,137.90C399.23,139.32 399.48,141.40 398.90,142.90C398.32,144.40 397.40,145.90 395.10,146.90C392.80,147.90 388.77,148.48 385.10,148.90C381.43,149.32 377.10,149.23 373.10,149.40C369.10,149.57 364.35,150.07 361.10,149.90C357.85,149.73 355.35,149.90 353.60,148.40C351.85,146.90 350.85,143.23 350.60,140.90Z" fill="none" stroke="rgb(175, 175, 175)" stroke-width="0.55"/>
<path d="M351.58,140.94C351.34,138.80 351.50,136.21 353.02,134.98C354.54,133.76 357.02,133.81 360.70,133.61C364.38,133.41 370.78,133.72 375.10,133.79C379.42,133.87 383.42,133.87 386.62,134.07C389.82,134.27 392.46,134.30 394.30,134.98C396.14,135.67 397.05,136.89 397.66,138.19C398.27,139.49 398.51,141.40 397.95,142.78C397.39,144.15 396.51,145.53 394.30,146.44C392.09,147.36 388.22,147.89 384.70,148.28C381.18,148.66 377.02,148.58 373.18,148.73C369.34,148.89 364.78,149.34 361.66,149.19C358.54,149.04 356.14,149.19 354.46,147.82C352.78,146.44 351.82,143.08 351.58,140.94Z" fill="none" stroke="rgb(158, 158, 158)" stroke-width="0.55"/>
<path d="M352.56,140.98C352.33,139.04 352.48,136.68 353.94,135.57C355.40,134.46 357.77,134.50 361.30,134.32C364.83,134.14 370.96,134.41 375.10,134.48C379.24,134.55 383.07,134.55 386.14,134.73C389.21,134.91 391.74,134.94 393.50,135.57C395.26,136.19 396.14,137.30 396.72,138.48C397.30,139.66 397.53,141.40 397.00,142.65C396.46,143.90 395.62,145.15 393.50,145.98C391.38,146.82 387.67,147.30 384.30,147.65C380.93,148.00 376.94,147.93 373.26,148.07C369.58,148.21 365.21,148.62 362.22,148.48C359.23,148.34 356.93,148.48 355.32,147.23C353.71,145.98 352.79,142.93 352.56,140.98Z" fill="none" stroke="rgb(143, 143, 143)" stroke-width="0.55"/>
<path d="M353.54,141.03C353.32,139.28 353.47,137.15 354.86,136.15C356.25,135.15 358.53,135.19 361.90,135.03C365.27,134.86 371.14,135.11 375.10,135.18C379.06,135.24 382.73,135.24 385.66,135.40C388.59,135.56 391.01,135.59 392.70,136.15C394.39,136.71 395.22,137.71 395.78,138.78C396.34,139.84 396.56,141.40 396.04,142.53C395.53,143.65 394.72,144.78 392.70,145.53C390.68,146.28 387.13,146.71 383.90,147.03C380.67,147.34 376.86,147.28 373.34,147.40C369.82,147.53 365.64,147.90 362.78,147.78C359.92,147.65 357.72,147.78 356.18,146.65C354.64,145.53 353.76,142.78 353.54,141.03Z" fill="none" stroke="rgb(130, 130, 130)" stroke-width="0.55"/>
<path d="M351.40,140.90C351.52,139.48 351.82,137.13 352.60,135.90C353.38,134.67 354.35,133.93 356.10,133.50C357.85,133.07 360.60,133.13 363.10,133.30C365.60,133.47 368.10,134.33 371.10,134.50C374.10,134.67 378.27,134.18 381.10,134.30C383.93,134.42 386.30,134.52 388.10,135.20C389.90,135.88 391.32,137.03 391.90,138.40C392.48,139.77 392.40,142.07 391.60,143.40C390.80,144.73 389.18,145.78 387.10,146.40C385.02,147.02 382.10,146.93 379.10,147.10C376.10,147.27 372.10,147.23 369.10,147.40C366.10,147.57 363.52,148.13 361.10,148.10C358.68,148.07 356.13,147.82 354.60,147.20C353.07,146.58 352.43,145.45 351.90,144.40C351.37,143.35 351.28,142.32 351.40,140.90Z" fill="none" stroke="rgb(25, 25, 25)" stroke-width="0.6"/>
<path d="M352.03,140.97C352.14,139.71 352.42,137.62 353.15,136.53C353.89,135.43 354.79,134.78 356.43,134.39C358.07,134.01 360.65,134.07 363.00,134.22C365.34,134.36 367.68,135.13 370.49,135.28C373.31,135.43 377.21,135.00 379.87,135.11C382.52,135.21 384.74,135.30 386.43,135.90C388.12,136.51 389.44,137.53 389.99,138.75C390.54,139.96 390.46,142.01 389.71,143.19C388.96,144.38 387.44,145.31 385.49,145.86C383.54,146.40 380.80,146.33 377.99,146.48C375.18,146.63 371.43,146.60 368.62,146.75C365.81,146.89 363.39,147.40 361.12,147.37C358.86,147.34 356.47,147.12 355.03,146.57C353.59,146.02 353.00,145.01 352.50,144.08C352.00,143.15 351.92,142.23 352.03,140.97Z" fill="none" stroke="rgb(55, 55, 55)" stroke-width="0.6"/>
<path d="M352.75,141.05C352.85,139.97 353.11,138.18 353.79,137.24C354.47,136.31 355.30,135.75 356.82,135.42C358.33,135.09 360.71,135.14 362.88,135.27C365.04,135.39 367.20,136.05 369.80,136.18C372.40,136.31 376.00,135.94 378.46,136.03C380.91,136.12 382.96,136.19 384.52,136.71C386.07,137.23 387.30,138.11 387.81,139.15C388.31,140.19 388.24,141.94 387.55,142.95C386.85,143.97 385.45,144.77 383.65,145.24C381.85,145.70 379.32,145.64 376.73,145.77C374.13,145.89 370.67,145.87 368.07,146.00C365.47,146.12 363.24,146.55 361.14,146.53C359.05,146.50 356.85,146.31 355.52,145.84C354.19,145.37 353.64,144.51 353.18,143.71C352.72,142.91 352.65,142.13 352.75,141.05Z" fill="none" stroke="rgb(86, 86, 86)" stroke-width="0.6"/>
<path d="M353.51,141.13C353.60,140.25 353.84,138.77 354.45,138.00C355.07,137.23 355.84,136.77 357.22,136.50C358.60,136.22 360.77,136.27 362.75,136.37C364.73,136.47 366.70,137.02 369.07,137.12C371.44,137.23 374.73,136.92 376.97,137.00C379.21,137.07 381.08,137.13 382.50,137.56C383.92,137.99 385.04,138.71 385.50,139.57C385.96,140.42 385.90,141.86 385.27,142.70C384.63,143.54 383.36,144.19 381.71,144.58C380.07,144.97 377.76,144.91 375.39,145.02C373.02,145.12 369.86,145.10 367.49,145.21C365.12,145.31 363.08,145.67 361.17,145.65C359.26,145.63 357.25,145.47 356.03,145.08C354.82,144.70 354.32,143.99 353.90,143.33C353.48,142.67 353.41,142.02 353.51,141.13Z" fill="none" stroke="rgb(120, 120, 120)" stroke-width="0.6"/>
<path d="M354.29,141.22C354.37,140.53 354.59,139.38 355.14,138.78C355.70,138.18 356.39,137.82 357.64,137.61C358.88,137.40 360.84,137.43 362.62,137.51C364.40,137.59 366.18,138.02 368.32,138.10C370.45,138.18 373.42,137.94 375.43,138.00C377.45,138.06 379.14,138.11 380.42,138.44C381.70,138.77 382.71,139.33 383.12,140.00C383.54,140.67 383.48,141.79 382.91,142.44C382.34,143.09 381.19,143.60 379.71,143.90C378.22,144.20 376.15,144.16 374.01,144.24C371.87,144.33 369.03,144.31 366.89,144.39C364.76,144.47 362.92,144.75 361.20,144.73C359.48,144.72 357.66,144.59 356.57,144.29C355.48,143.99 355.03,143.44 354.65,142.93C354.27,142.42 354.21,141.91 354.29,141.22Z" fill="none" stroke="rgb(146, 146, 146)" stroke-width="0.6"/>
<path d="M355.09,141.31C355.17,140.82 355.36,140.01 355.85,139.58C356.35,139.16 356.96,138.90 358.06,138.75C359.17,138.60 360.91,138.63 362.49,138.68C364.07,138.74 365.65,139.04 367.54,139.10C369.44,139.16 372.07,138.99 373.86,139.03C375.65,139.07 377.14,139.10 378.28,139.34C379.42,139.58 380.31,139.97 380.68,140.45C381.05,140.92 381.00,141.71 380.49,142.17C379.99,142.63 378.97,143.00 377.65,143.21C376.33,143.42 374.49,143.39 372.59,143.45C370.70,143.51 368.17,143.50 366.28,143.55C364.38,143.61 362.75,143.81 361.22,143.80C359.70,143.78 358.08,143.70 357.12,143.49C356.15,143.27 355.75,142.88 355.41,142.52C355.07,142.16 355.02,141.80 355.09,141.31Z" fill="none" stroke="rgb(173, 173, 173)" stroke-width="0.6"/>
<path d="M355.92,141.40C355.98,141.12 356.14,140.65 356.58,140.40C357.01,140.15 357.54,140.01 358.50,139.92C359.46,139.83 360.98,139.85 362.35,139.88C363.73,139.91 365.10,140.09 366.75,140.12C368.40,140.15 370.69,140.06 372.25,140.08C373.81,140.10 375.11,140.12 376.10,140.26C377.09,140.40 377.87,140.63 378.19,140.90C378.51,141.17 378.47,141.63 378.03,141.90C377.59,142.17 376.70,142.38 375.55,142.50C374.40,142.62 372.80,142.61 371.15,142.64C369.50,142.67 367.30,142.67 365.65,142.70C364.00,142.73 362.58,142.85 361.25,142.84C359.92,142.83 358.52,142.78 357.68,142.66C356.83,142.54 356.48,142.31 356.19,142.10C355.90,141.89 355.85,141.68 355.92,141.40Z" fill="none" stroke="rgb(200, 200, 200)" stroke-width="0.6"/>
<path d="M351.40,140.90C351.52,139.48 351.82,137.13 352.60,135.90C353.38,134.67 354.35,133.93 356.10,133.50C357.85,133.07 360.60,133.13 363.10,133.30C365.60,133.47 368.10,134.33 371.10,134.50C374.10,134.67 378.27,134.18 381.10,134.30C383.93,134.42 386.30,134.52 388.10,135.20C389.90,135.88 391.32,137.03 391.90,138.40C392.48,139.77 392.40,142.07 391.60,143.40C390.80,144.73 389.18,145.78 387.10,146.40C385.02,147.02 382.10,146.93 379.10,147.10C376.10,147.27 372.10,147.23 369.10,147.40C366.10,147.57 363.52,148.13 361.10,148.10C358.68,148.07 356.13,147.82 354.60,147.20C353.07,146.58 352.43,145.45 351.90,144.40C351.37,143.35 351.28,142.32 351.40,140.90Z" fill="none" stroke="rgb(15, 15, 15)" stroke-width="1.2"/>
<ellipse cx="359.60" cy="141.70" rx="3" ry="1.4" fill="#fff"/>
</g>
<rect x="335.10" y="85.90" width="77.20" height="76.40" fill="none" stroke="#8a8a8a" stroke-width="1.2"/>
<line x1="365.40" y1="85.90" x2="365.40" y2="162.30" stroke="#333" stroke-width="1.3" />
<line x1="335.10" y1="132.20" x2="412.30" y2="132.20" stroke="#333" stroke-width="1.3" />
<text x="373.70" y="81.90" font-size="12" text-anchor="middle" font-weight="normal" fill="#111" textLength="63.1" lengthAdjust="spacingAndGlyphs" >+IL-2+IL-1β</text>
<text x="336.26" y="96.20" font-size="8.4" text-anchor="start" font-weight="normal" fill="#111" >11.8</text>
<text x="409.32" y="96.20" font-size="8.4" text-anchor="end" font-weight="normal" fill="#111" >38.7</text>
<text x="335.46" y="159.00" font-size="8.4" text-anchor="start" font-weight="normal" fill="#111" >16.8</text>
<text x="408.22" y="159.00" font-size="8.4" text-anchor="end" font-weight="normal" fill="#111" >32.7</text>
<g>
<path d="M450.50,118.90C450.53,116.23 449.95,112.82 450.20,110.90C450.45,108.98 451.12,108.07 452.00,107.40C452.88,106.73 454.42,106.65 455.50,106.90C456.58,107.15 457.83,107.73 458.50,108.90C459.17,110.07 459.42,112.07 459.50,113.90C459.58,115.73 458.83,117.90 459.00,119.90C459.17,121.90 460.00,123.98 460.50,125.90C461.00,127.82 463.42,130.47 462.00,131.40C460.58,132.33 454.00,132.25 452.00,131.50C450.00,130.75 450.25,129.00 450.00,126.90C449.75,124.80 450.47,121.57 450.50,118.90Z" fill="none" stroke="rgb(160, 160, 160)" stroke-width="0.55"/>
<path d="M452.50,115.90C452.33,114.48 452.58,111.98 453.00,110.90C453.42,109.82 454.33,109.40 455.00,109.40C455.67,109.40 456.58,109.98 457.00,110.90C457.42,111.82 457.58,113.57 457.50,114.90C457.42,116.23 457.08,118.15 456.50,118.90C455.92,119.65 454.67,119.90 454.00,119.40C453.33,118.90 452.67,117.32 452.50,115.90Z" fill="none" stroke="rgb(140, 140, 140)" stroke-width="0.55"/>
<ellipse cx="455.30" cy="113.40" rx="0.9" ry="1.6" transform="rotate(0 455.30 113.40)" fill="none" stroke="rgb(110, 110, 110)" stroke-width="0.7"/>
<path d="M462.50,129.90C458.17,129.15 462.42,127.82 463.00,126.90C463.58,125.98 465.00,125.23 466.00,124.40C467.00,123.57 468.00,122.90 469.00,121.90C470.00,120.90 470.92,119.32 472.00,118.40C473.08,117.48 474.33,116.65 475.50,116.40C476.67,116.15 477.92,116.98 479.00,116.90C480.08,116.82 481.17,116.57 482.00,115.90C482.83,115.23 483.50,114.07 484.00,112.90C484.50,111.73 484.50,109.82 485.00,108.90C485.50,107.98 486.17,107.57 487.00,107.40C487.83,107.23 489.25,107.48 490.00,107.90C490.75,108.32 491.42,108.90 491.50,109.90C491.58,110.90 491.00,112.57 490.50,113.90C490.00,115.23 488.58,116.57 488.50,117.90C488.42,119.23 489.67,120.40 490.00,121.90C490.33,123.40 490.67,125.32 490.50,126.90C490.33,128.48 493.67,130.90 489.00,131.40C484.33,131.90 466.83,130.65 462.50,129.90Z" fill="none" stroke="rgb(165, 165, 165)" stroke-width="0.55"/>
<path d="M466.00,130.40C463.17,129.60 467.83,127.65 469.00,126.40C470.17,125.15 471.67,123.90 473.00,122.90C474.33,121.90 475.67,120.90 477.00,120.40C478.33,119.90 479.83,120.48 481.00,119.90C482.17,119.32 483.08,117.15 484.00,116.90C484.92,116.65 486.00,117.40 486.50,118.40C487.00,119.40 486.83,121.32 487.00,122.90C487.17,124.48 487.67,126.52 487.50,127.90C487.33,129.28 489.58,130.78 486.00,131.20C482.42,131.62 468.83,131.20 466.00,130.40Z" fill="none" stroke="rgb(150, 150, 150)" stroke-width="0.55"/>
<path d="M472.00,130.70C471.50,129.95 473.83,128.03 475.00,126.90C476.17,125.77 477.67,124.40 479.00,123.90C480.33,123.40 482.00,123.40 483.00,123.90C484.00,124.40 484.83,125.82 485.00,126.90C485.17,127.98 485.17,129.65 484.00,130.40C482.83,131.15 480.00,131.35 478.00,131.40C476.00,131.45 472.50,131.45 472.00,130.70Z" fill="none" stroke="rgb(135, 135, 135)" stroke-width="0.55"/>
<ellipse cx="483.00" cy="126.40" rx="1.2" ry="1.2" transform="rotate(0 483.00 126.40)" fill="none" stroke="rgb(120, 120, 120)" stroke-width="0.55"/>
<ellipse cx="488.30" cy="110.90" rx="1.2" ry="2.2" transform="rotate(0 488.30 110.90)" fill="none" stroke="rgb(150, 150, 150)" stroke-width="0.55"/>
<ellipse cx="495.50" cy="125.40" rx="1.7" ry="1.6" transform="rotate(0 495.50 125.40)" fill="none" stroke="rgb(130, 130, 130)" stroke-width="0.55"/>
<path d="M444.60,140.90C444.68,138.98 445.18,136.35 446.00,134.90C446.82,133.45 446.83,132.78 449.50,132.20C452.17,131.62 457.42,131.57 462.00,131.40C466.58,131.23 472.00,131.12 477.00,131.20C482.00,131.28 488.58,131.37 492.00,131.90C495.42,132.43 496.38,133.07 497.50,134.40C498.62,135.73 498.87,138.07 498.70,139.90C498.53,141.73 497.95,143.98 496.50,145.40C495.05,146.82 493.25,147.57 490.00,148.40C486.75,149.23 481.67,149.95 477.00,150.40C472.33,150.85 466.50,151.10 462.00,151.10C457.50,151.10 452.75,151.18 450.00,150.40C447.25,149.62 446.40,147.98 445.50,146.40C444.60,144.82 444.52,142.82 444.60,140.90Z" fill="none" stroke="rgb(90, 90, 90)" stroke-width="0.6"/>
<path d="M445.22,140.99C445.30,139.18 445.78,136.70 446.58,135.33C447.38,133.96 447.39,133.33 449.99,132.78C452.59,132.23 457.71,132.18 462.18,132.03C466.64,131.87 471.92,131.76 476.80,131.84C481.67,131.92 488.09,132.00 491.42,132.50C494.75,133.00 495.69,133.60 496.78,134.86C497.87,136.11 498.11,138.31 497.95,140.04C497.79,141.77 497.22,143.90 495.81,145.23C494.39,146.57 492.64,147.28 489.47,148.06C486.30,148.85 481.35,149.52 476.80,149.95C472.25,150.37 466.56,150.61 462.18,150.61C457.79,150.61 453.16,150.69 450.48,149.95C447.80,149.21 446.97,147.67 446.09,146.17C445.22,144.68 445.13,142.79 445.22,140.99Z" fill="none" stroke="rgb(74, 74, 74)" stroke-width="0.6"/>
<path d="M446.01,141.10C446.09,139.43 446.56,137.14 447.33,135.88C448.10,134.62 448.12,134.04 450.63,133.54C453.14,133.03 458.09,132.98 462.41,132.84C466.72,132.69 471.83,132.59 476.54,132.67C481.25,132.74 487.45,132.81 490.67,133.27C493.88,133.74 494.80,134.29 495.85,135.45C496.90,136.61 497.13,138.64 496.98,140.23C496.82,141.82 496.27,143.78 494.91,145.01C493.54,146.24 491.84,146.90 488.78,147.62C485.72,148.35 480.93,148.97 476.54,149.36C472.14,149.75 466.64,149.97 462.41,149.97C458.17,149.97 453.69,150.04 451.10,149.36C448.51,148.68 447.71,147.26 446.86,145.88C446.01,144.51 445.94,142.77 446.01,141.10Z" fill="none" stroke="rgb(58, 58, 58)" stroke-width="0.6"/>
<path d="M446.90,141.23C446.98,139.72 447.43,137.64 448.17,136.50C448.91,135.36 448.92,134.83 451.34,134.37C453.75,133.91 458.51,133.87 462.66,133.74C466.81,133.61 471.72,133.52 476.25,133.58C480.77,133.65 486.74,133.72 489.83,134.14C492.93,134.56 493.80,135.05 494.81,136.10C495.82,137.16 496.05,138.99 495.90,140.44C495.75,141.88 495.22,143.65 493.91,144.77C492.59,145.89 490.96,146.48 488.02,147.13C485.08,147.79 480.47,148.35 476.25,148.71C472.02,149.06 466.74,149.26 462.66,149.26C458.58,149.26 454.28,149.33 451.79,148.71C449.30,148.09 448.53,146.81 447.72,145.56C446.90,144.31 446.83,142.74 446.90,141.23Z" fill="none" stroke="rgb(51, 51, 51)" stroke-width="0.6"/>
<path d="M447.85,141.36C447.92,140.02 448.36,138.17 449.06,137.16C449.77,136.14 449.79,135.68 452.10,135.27C454.41,134.86 458.96,134.82 462.93,134.71C466.91,134.59 471.60,134.51 475.93,134.57C480.27,134.63 485.97,134.68 488.94,135.06C491.90,135.43 492.74,135.87 493.70,136.81C494.67,137.74 494.89,139.38 494.74,140.66C494.60,141.94 494.09,143.52 492.84,144.51C491.58,145.50 490.02,146.03 487.20,146.61C484.39,147.20 479.98,147.70 475.93,148.01C471.89,148.33 466.83,148.50 462.93,148.50C459.03,148.50 454.91,148.56 452.53,148.01C450.15,147.46 449.41,146.32 448.63,145.21C447.85,144.10 447.78,142.70 447.85,141.36Z" fill="none" stroke="rgb(53, 53, 53)" stroke-width="0.6"/>
<path d="M448.85,141.50C448.92,140.33 449.33,138.73 450.00,137.85C450.68,136.97 450.69,136.56 452.90,136.21C455.10,135.85 459.43,135.82 463.22,135.72C467.00,135.62 471.48,135.55 475.61,135.60C479.74,135.65 485.17,135.70 488.00,136.03C490.82,136.35 491.62,136.74 492.54,137.55C493.46,138.36 493.67,139.78 493.53,140.89C493.39,142.01 492.91,143.38 491.71,144.24C490.51,145.10 489.03,145.56 486.34,146.06C483.66,146.57 479.46,147.01 475.61,147.28C471.75,147.55 466.94,147.70 463.22,147.70C459.50,147.70 455.58,147.76 453.31,147.28C451.04,146.80 450.33,145.81 449.59,144.85C448.85,143.88 448.78,142.67 448.85,141.50Z" fill="none" stroke="rgb(55, 55, 55)" stroke-width="0.6"/>
<path d="M449.89,141.65C449.95,140.67 450.34,139.32 450.98,138.57C451.62,137.83 451.64,137.49 453.73,137.19C455.81,136.89 459.93,136.86 463.52,136.78C467.11,136.69 471.35,136.63 475.27,136.68C479.18,136.72 484.34,136.76 487.02,137.04C489.69,137.31 490.45,137.63 491.32,138.32C492.20,139.00 492.39,140.20 492.26,141.14C492.13,142.07 491.68,143.23 490.54,143.95C489.41,144.68 488.00,145.06 485.45,145.49C482.90,145.92 478.92,146.29 475.27,146.52C471.61,146.75 467.04,146.87 463.52,146.87C459.99,146.87 456.27,146.92 454.12,146.52C451.96,146.11 451.30,145.28 450.59,144.47C449.89,143.65 449.82,142.63 449.89,141.65Z" fill="none" stroke="rgb(69, 69, 69)" stroke-width="0.6"/>
<path d="M450.96,141.80C451.02,141.01 451.39,139.92 452.00,139.32C452.60,138.72 452.61,138.44 454.58,138.20C456.56,137.96 460.44,137.94 463.83,137.87C467.21,137.80 471.22,137.76 474.91,137.79C478.61,137.82 483.48,137.86 486.00,138.08C488.53,138.30 489.24,138.56 490.07,139.11C490.89,139.66 491.08,140.63 490.96,141.39C490.83,142.14 490.40,143.07 489.33,143.66C488.26,144.25 486.93,144.56 484.52,144.90C482.12,145.24 478.36,145.54 474.91,145.73C471.46,145.91 467.15,146.02 463.83,146.02C460.50,146.02 456.99,146.05 454.95,145.73C452.92,145.40 452.29,144.73 451.63,144.07C450.96,143.42 450.90,142.59 450.96,141.80Z" fill="none" stroke="rgb(83, 83, 83)" stroke-width="0.6"/>
<path d="M452.07,141.96C452.13,141.36 452.47,140.54 453.04,140.09C453.61,139.64 453.62,139.43 455.47,139.25C457.32,139.06 460.96,139.05 464.14,139.00C467.32,138.95 471.08,138.91 474.55,138.93C478.02,138.96 482.59,138.99 484.96,139.15C487.33,139.32 488.00,139.52 488.78,139.93C489.55,140.35 489.73,141.07 489.61,141.64C489.50,142.22 489.09,142.92 488.08,143.36C487.08,143.80 485.83,144.03 483.57,144.29C481.32,144.55 477.79,144.77 474.55,144.91C471.31,145.05 467.27,145.13 464.14,145.13C461.02,145.13 457.72,145.16 455.81,144.91C453.91,144.67 453.32,144.16 452.69,143.67C452.07,143.18 452.01,142.55 452.07,141.96Z" fill="none" stroke="rgb(112, 112, 112)" stroke-width="0.6"/>
<path d="M453.20,142.12C453.25,141.72 453.58,141.17 454.11,140.87C454.64,140.57 454.65,140.44 456.37,140.32C458.10,140.20 461.50,140.19 464.47,140.15C467.44,140.12 470.94,140.09 474.18,140.11C477.42,140.13 481.68,140.14 483.89,140.25C486.10,140.36 486.73,140.50 487.45,140.77C488.18,141.05 488.34,141.53 488.23,141.91C488.12,142.29 487.75,142.75 486.81,143.05C485.87,143.34 484.70,143.50 482.60,143.67C480.49,143.84 477.20,143.99 474.18,144.08C471.16,144.17 467.38,144.23 464.47,144.23C461.55,144.23 458.48,144.24 456.70,144.08C454.92,143.92 454.37,143.58 453.78,143.25C453.20,142.93 453.15,142.51 453.20,142.12Z" fill="none" stroke="rgb(156, 156, 156)" stroke-width="0.6"/>
<path d="M454.36,142.28C454.41,142.09 454.71,141.83 455.20,141.68C455.69,141.53 455.70,141.47 457.30,141.41C458.90,141.35 462.05,141.35 464.80,141.33C467.55,141.31 470.80,141.30 473.80,141.31C476.80,141.32 480.75,141.33 482.80,141.38C484.85,141.43 485.43,141.50 486.10,141.63C486.77,141.76 486.92,142.00 486.82,142.18C486.72,142.36 486.37,142.59 485.50,142.73C484.63,142.87 483.55,142.95 481.60,143.03C479.65,143.11 476.60,143.19 473.80,143.23C471.00,143.28 467.50,143.30 464.80,143.30C462.10,143.30 459.25,143.31 457.60,143.23C455.95,143.15 455.44,142.99 454.90,142.83C454.36,142.67 454.31,142.47 454.36,142.28Z" fill="none" stroke="rgb(200, 200, 200)" stroke-width="0.6"/>
<path d="M462.00,142.40C462.00,143.48 461.59,144.71 460.93,145.65C460.26,146.59 459.15,147.49 458.00,148.03C456.85,148.57 455.33,148.90 454.00,148.90C452.67,148.90 451.15,148.57 450.00,148.03C448.85,147.49 447.74,146.59 447.07,145.65C446.41,144.71 446.00,143.48 446.00,142.40C446.00,141.32 446.41,140.09 447.07,139.15C447.74,138.21 448.85,137.31 450.00,136.77C451.15,136.23 452.67,135.90 454.00,135.90C455.33,135.90 456.85,136.23 458.00,136.77C459.15,137.31 460.26,138.21 460.93,139.15C461.59,140.09 462.00,141.32 462.00,142.40Z" fill="none" stroke="rgb(70, 70, 70)" stroke-width="0.6"/>
<path d="M460.60,142.40C460.60,143.29 460.27,144.31 459.72,145.08C459.17,145.86 458.25,146.60 457.30,147.04C456.35,147.49 455.10,147.76 454.00,147.76C452.90,147.76 451.65,147.49 450.70,147.04C449.75,146.60 448.83,145.86 448.28,145.08C447.73,144.31 447.40,143.29 447.40,142.40C447.40,141.51 447.73,140.49 448.28,139.72C448.83,138.94 449.75,138.20 450.70,137.76C451.65,137.31 452.90,137.04 454.00,137.04C455.10,137.04 456.35,137.31 457.30,137.76C458.25,138.20 459.17,138.94 459.72,139.72C460.27,140.49 460.60,141.51 460.60,142.40Z" fill="none" stroke="rgb(55, 55, 55)" stroke-width="0.6"/>
<path d="M459.20,142.40C459.20,143.10 458.94,143.90 458.50,144.51C458.07,145.12 457.35,145.71 456.60,146.06C455.85,146.41 454.87,146.62 454.00,146.62C453.13,146.62 452.15,146.41 451.40,146.06C450.65,145.71 449.93,145.12 449.50,144.51C449.06,143.90 448.80,143.10 448.80,142.40C448.80,141.70 449.06,140.90 449.50,140.29C449.93,139.68 450.65,139.09 451.40,138.74C452.15,138.39 453.13,138.18 454.00,138.18C454.87,138.18 455.85,138.39 456.60,138.74C457.35,139.09 458.07,139.68 458.50,140.29C458.94,140.90 459.20,141.70 459.20,142.40Z" fill="none" stroke="rgb(70, 70, 70)" stroke-width="0.6"/>
<path d="M457.80,142.40C457.80,142.91 457.61,143.50 457.29,143.94C456.97,144.39 456.45,144.82 455.90,145.07C455.35,145.33 454.63,145.49 454.00,145.49C453.37,145.49 452.65,145.33 452.10,145.07C451.55,144.82 451.03,144.39 450.71,143.94C450.39,143.50 450.20,142.91 450.20,142.40C450.20,141.89 450.39,141.30 450.71,140.86C451.03,140.41 451.55,139.98 452.10,139.73C452.65,139.47 453.37,139.31 454.00,139.31C454.63,139.31 455.35,139.47 455.90,139.73C456.45,139.98 456.97,140.41 457.29,140.86C457.61,141.30 457.80,141.89 457.80,142.40Z" fill="none" stroke="rgb(105, 105, 105)" stroke-width="0.6"/>
<path d="M456.40,142.40C456.40,142.72 456.28,143.09 456.08,143.38C455.88,143.66 455.55,143.93 455.20,144.09C454.85,144.25 454.40,144.35 454.00,144.35C453.60,144.35 453.15,144.25 452.80,144.09C452.45,143.93 452.12,143.66 451.92,143.38C451.72,143.09 451.60,142.72 451.60,142.40C451.60,142.08 451.72,141.71 451.92,141.43C452.12,141.14 452.45,140.87 452.80,140.71C453.15,140.55 453.60,140.45 454.00,140.45C454.40,140.45 454.85,140.55 455.20,140.71C455.55,140.87 455.88,141.14 456.08,141.43C456.28,141.71 456.40,142.08 456.40,142.40Z" fill="none" stroke="rgb(150, 150, 150)" stroke-width="0.6"/>
<ellipse cx="455.00" cy="142.40" rx="2.8" ry="1.6" fill="#fff"/>
<line x1="457.00" y1="142.40" x2="487.00" y2="142.40" stroke="#fafafa" stroke-width="1.2" stroke-dasharray="2.2 0.8"/>
</g>
<rect x="432.00" y="85.90" width="76.60" height="76.40" fill="none" stroke="#8a8a8a" stroke-width="1.2"/>
<line x1="462.00" y1="85.90" x2="462.00" y2="162.30" stroke="#333" stroke-width="1.3" />
<line x1="432.00" y1="132.20" x2="508.60" y2="132.20" stroke="#333" stroke-width="1.3" />
<text x="470.30" y="81.90" font-size="12" text-anchor="middle" font-weight="normal" fill="#111" textLength="53.1" lengthAdjust="spacingAndGlyphs" >+IL-2+RA</text>
<text x="431.87" y="96.20" font-size="8.4" text-anchor="start" font-weight="normal" fill="#111" >7.85</text>
<text x="504.41" y="96.20" font-size="8.4" text-anchor="end" font-weight="normal" fill="#111" >16.1</text>
<text x="431.88" y="159.00" font-size="8.4" text-anchor="start" font-weight="normal" fill="#111" >24.8</text>
<text x="504.92" y="159.00" font-size="8.4" text-anchor="end" font-weight="normal" fill="#111" >51.2</text>
<g>
<ellipse cx="81.40" cy="291.30" rx="3.3" ry="4.0" transform="rotate(0 81.40 291.30)" fill="none" stroke="rgb(120, 120, 120)" stroke-width="0.7"/>
<path d="M60.60,314.10C62.27,312.20 65.60,313.42 68.60,313.20C71.60,312.98 75.27,312.85 78.60,312.80C81.93,312.75 85.77,312.63 88.60,312.90C91.43,313.17 93.68,313.70 95.60,314.40C97.52,315.10 99.27,316.07 100.10,317.10C100.93,318.13 101.02,319.55 100.60,320.60C100.18,321.65 99.60,322.73 97.60,323.40C95.60,324.07 92.10,324.30 88.60,324.60C85.10,324.90 80.60,325.03 76.60,325.20C72.60,325.37 67.60,325.70 64.60,325.60C61.60,325.50 59.27,326.52 58.60,324.60C57.93,322.68 58.93,316.00 60.60,314.10Z" fill="none" stroke="rgb(170, 170, 170)" stroke-width="0.55"/>
<path d="M61.87,314.62C63.43,312.89 66.55,314.00 69.36,313.80C72.18,313.61 75.61,313.48 78.74,313.44C81.86,313.39 85.45,313.29 88.11,313.53C90.76,313.77 92.87,314.26 94.67,314.90C96.46,315.54 98.10,316.42 98.88,317.36C99.66,318.31 99.74,319.60 99.35,320.56C98.96,321.52 98.41,322.51 96.54,323.11C94.67,323.72 91.39,323.94 88.11,324.21C84.83,324.48 80.61,324.61 76.86,324.76C73.11,324.91 68.43,325.21 65.62,325.12C62.81,325.03 60.62,325.96 59.99,324.21C59.37,322.46 60.31,316.36 61.87,314.62Z" fill="none" stroke="rgb(147, 147, 147)" stroke-width="0.55"/>
<path d="M63.51,315.31C64.94,313.79 67.79,314.76 70.36,314.59C72.92,314.41 76.06,314.31 78.91,314.27C81.76,314.23 85.04,314.13 87.47,314.35C89.89,314.56 91.81,314.99 93.45,315.55C95.09,316.11 96.59,316.88 97.30,317.70C98.02,318.53 98.09,319.66 97.73,320.50C97.37,321.34 96.88,322.21 95.16,322.74C93.45,323.28 90.46,323.46 87.47,323.70C84.47,323.94 80.62,324.05 77.20,324.18C73.78,324.32 69.50,324.58 66.94,324.50C64.37,324.42 62.37,325.24 61.80,323.70C61.23,322.17 62.09,316.83 63.51,315.31Z" fill="none" stroke="rgb(128, 128, 128)" stroke-width="0.55"/>
<path d="M65.34,316.06C66.61,314.78 69.16,315.60 71.46,315.45C73.75,315.31 76.56,315.22 79.11,315.18C81.66,315.15 84.59,315.07 86.75,315.25C88.92,315.43 90.64,315.79 92.11,316.26C93.57,316.74 94.91,317.39 95.55,318.08C96.19,318.78 96.25,319.74 95.93,320.44C95.61,321.15 95.17,321.88 93.64,322.33C92.11,322.78 89.43,322.94 86.75,323.14C84.08,323.34 80.64,323.43 77.58,323.55C74.52,323.66 70.69,323.88 68.40,323.82C66.10,323.75 64.32,324.43 63.81,323.14C63.30,321.85 64.06,317.34 65.34,316.06Z" fill="none" stroke="rgb(122, 122, 122)" stroke-width="0.55"/>
<path d="M67.29,316.87C68.41,315.84 70.63,316.50 72.64,316.38C74.64,316.27 77.09,316.19 79.32,316.17C81.54,316.14 84.10,316.08 85.99,316.22C87.89,316.37 89.39,316.65 90.67,317.03C91.95,317.41 93.12,317.93 93.68,318.49C94.23,319.05 94.29,319.81 94.01,320.38C93.73,320.95 93.34,321.53 92.01,321.89C90.67,322.25 88.33,322.38 85.99,322.54C83.66,322.70 80.65,322.78 77.98,322.87C75.31,322.96 71.97,323.14 69.96,323.08C67.96,323.03 66.40,323.58 65.96,322.54C65.51,321.51 66.18,317.90 67.29,316.87Z" fill="none" stroke="rgb(128, 128, 128)" stroke-width="0.55"/>
<path d="M69.35,317.72C70.29,316.96 72.18,317.45 73.88,317.36C75.57,317.27 77.65,317.22 79.53,317.20C81.42,317.18 83.59,317.13 85.19,317.24C86.80,317.35 88.07,317.56 89.16,317.84C90.24,318.12 91.23,318.50 91.70,318.92C92.17,319.33 92.22,319.89 91.99,320.31C91.75,320.73 91.42,321.16 90.29,321.43C89.16,321.70 87.17,321.79 85.19,321.91C83.21,322.03 80.67,322.08 78.40,322.15C76.14,322.21 73.31,322.35 71.61,322.31C69.91,322.27 68.59,322.67 68.22,321.91C67.84,321.14 68.40,318.48 69.35,317.72Z" fill="none" stroke="rgb(145, 145, 145)" stroke-width="0.55"/>
<path d="M71.49,318.60C72.25,318.13 73.79,318.43 75.17,318.38C76.55,318.32 78.23,318.29 79.76,318.28C81.30,318.26 83.06,318.24 84.36,318.30C85.66,318.37 86.70,318.50 87.58,318.68C88.46,318.86 89.27,319.10 89.65,319.36C90.03,319.62 90.07,319.98 89.88,320.24C89.69,320.51 89.42,320.78 88.50,320.95C87.58,321.12 85.97,321.17 84.36,321.25C82.75,321.33 80.68,321.36 78.84,321.40C77.00,321.44 74.71,321.53 73.33,321.50C71.95,321.48 70.87,321.73 70.57,321.25C70.26,320.77 70.72,319.08 71.49,318.60Z" fill="none" stroke="rgb(171, 171, 171)" stroke-width="0.55"/>
<path d="M73.70,319.52C74.28,319.33 75.45,319.45 76.50,319.43C77.55,319.41 78.83,319.40 80.00,319.39C81.17,319.39 82.51,319.37 83.50,319.40C84.49,319.43 85.28,319.48 85.95,319.55C86.62,319.62 87.23,319.72 87.52,319.82C87.82,319.92 87.85,320.06 87.70,320.17C87.55,320.28 87.35,320.38 86.65,320.45C85.95,320.52 84.72,320.54 83.50,320.57C82.28,320.60 80.70,320.61 79.30,320.63C77.90,320.65 76.15,320.68 75.10,320.67C74.05,320.66 73.23,320.76 73.00,320.57C72.77,320.38 73.12,319.71 73.70,319.52Z" fill="none" stroke="rgb(200, 200, 200)" stroke-width="0.55"/>
<path d="M51.60,282.60C51.93,278.93 52.18,275.67 53.10,273.60C54.02,271.53 55.68,270.53 57.10,270.20C58.52,269.87 60.35,270.37 61.60,271.60C62.85,272.83 63.85,274.43 64.60,277.60C65.35,280.77 65.77,286.43 66.10,290.60C66.43,294.77 66.43,299.27 66.60,302.60C66.77,305.93 67.27,308.60 67.10,310.60C66.93,312.60 67.35,313.93 65.60,314.60C63.85,315.27 58.90,315.27 56.60,314.60C54.30,313.93 52.72,313.77 51.80,310.60C50.88,307.43 51.13,300.27 51.10,295.60C51.07,290.93 51.27,286.27 51.60,282.60Z" fill="none" stroke="rgb(150, 150, 150)" stroke-width="0.55"/>
<path d="M52.08,282.29C52.38,278.79 52.60,275.68 53.44,273.72C54.27,271.75 55.78,270.80 57.06,270.48C58.34,270.16 60.00,270.64 61.14,271.81C62.27,272.99 63.18,274.51 63.86,277.53C64.53,280.54 64.91,285.93 65.21,289.90C65.52,293.87 65.52,298.15 65.67,301.33C65.82,304.50 66.27,307.04 66.12,308.94C65.97,310.84 66.35,312.11 64.76,312.75C63.18,313.38 58.69,313.38 56.61,312.75C54.52,312.11 53.09,311.96 52.26,308.94C51.43,305.93 51.65,299.10 51.62,294.66C51.59,290.22 51.77,285.78 52.08,282.29Z" fill="none" stroke="rgb(132, 132, 132)" stroke-width="0.55"/>
<path d="M52.66,281.90C52.92,278.63 53.12,275.71 53.84,273.86C54.57,272.01 55.89,271.12 57.01,270.82C58.13,270.52 59.58,270.97 60.57,272.07C61.56,273.18 62.35,274.60 62.95,277.43C63.54,280.26 63.87,285.33 64.13,289.05C64.40,292.77 64.40,296.79 64.53,299.77C64.66,302.75 65.06,305.13 64.93,306.92C64.79,308.71 65.12,309.90 63.74,310.49C62.35,311.09 58.43,311.09 56.61,310.49C54.79,309.90 53.54,309.75 52.81,306.92C52.09,304.09 52.29,297.69 52.26,293.52C52.23,289.35 52.39,285.18 52.66,281.90Z" fill="none" stroke="rgb(119, 119, 119)" stroke-width="0.55"/>
<path d="M53.28,281.49C53.51,278.44 53.67,275.73 54.29,274.02C54.90,272.30 56.01,271.47 56.96,271.19C57.90,270.92 59.13,271.33 59.96,272.35C60.80,273.38 61.46,274.71 61.97,277.34C62.47,279.96 62.74,284.67 62.97,288.13C63.19,291.59 63.19,295.32 63.30,298.09C63.41,300.86 63.75,303.07 63.64,304.73C63.52,306.39 63.80,307.50 62.63,308.05C61.46,308.61 58.16,308.61 56.62,308.05C55.09,307.50 54.03,307.36 53.42,304.73C52.80,302.10 52.97,296.15 52.95,292.28C52.93,288.40 53.06,284.53 53.28,281.49Z" fill="none" stroke="rgb(116, 116, 116)" stroke-width="0.55"/>
<path d="M53.94,281.05C54.12,278.25 54.26,275.76 54.75,274.18C55.24,272.60 56.14,271.84 56.90,271.58C57.66,271.33 58.65,271.71 59.32,272.65C59.99,273.59 60.53,274.81 60.93,277.23C61.34,279.65 61.56,283.98 61.74,287.16C61.92,290.34 61.92,293.78 62.01,296.32C62.10,298.87 62.37,300.90 62.28,302.43C62.19,303.96 62.41,304.97 61.47,305.48C60.53,305.99 57.87,305.99 56.63,305.48C55.39,304.97 54.54,304.85 54.05,302.43C53.56,300.01 53.69,294.54 53.67,290.98C53.66,287.41 53.76,283.85 53.94,281.05Z" fill="none" stroke="rgb(122, 122, 122)" stroke-width="0.55"/>
<path d="M54.63,280.60C54.76,278.05 54.86,275.78 55.23,274.35C55.60,272.91 56.27,272.22 56.84,271.99C57.41,271.75 58.15,272.10 58.65,272.96C59.16,273.81 59.56,274.93 59.86,277.12C60.16,279.32 60.33,283.26 60.46,286.15C60.60,289.04 60.60,292.17 60.66,294.48C60.73,296.80 60.93,298.65 60.87,300.04C60.80,301.43 60.97,302.35 60.26,302.82C59.56,303.28 57.57,303.28 56.64,302.82C55.72,302.35 55.08,302.24 54.71,300.04C54.34,297.84 54.44,292.86 54.43,289.62C54.41,286.38 54.49,283.14 54.63,280.60Z" fill="none" stroke="rgb(136, 136, 136)" stroke-width="0.55"/>
<path d="M55.34,280.13C55.42,277.84 55.49,275.81 55.73,274.52C55.97,273.23 56.41,272.61 56.78,272.40C57.15,272.20 57.64,272.51 57.97,273.28C58.29,274.04 58.56,275.04 58.75,277.01C58.95,278.99 59.06,282.52 59.15,285.11C59.24,287.71 59.24,290.51 59.28,292.59C59.32,294.67 59.46,296.33 59.41,297.58C59.37,298.82 59.48,299.65 59.02,300.07C58.56,300.48 57.26,300.48 56.65,300.07C56.05,299.65 55.63,299.55 55.39,297.58C55.15,295.60 55.21,291.14 55.20,288.23C55.20,285.32 55.25,282.41 55.34,280.13Z" fill="none" stroke="rgb(165, 165, 165)" stroke-width="0.55"/>
<path d="M56.06,279.65C56.10,277.63 56.13,275.84 56.24,274.70C56.35,273.56 56.55,273.01 56.72,272.83C56.89,272.65 57.11,272.92 57.26,273.60C57.41,274.28 57.53,275.16 57.62,276.90C57.71,278.64 57.76,281.76 57.80,284.05C57.84,286.34 57.84,288.82 57.86,290.65C57.88,292.48 57.94,293.95 57.92,295.05C57.90,296.15 57.95,296.88 57.74,297.25C57.53,297.62 56.94,297.62 56.66,297.25C56.38,296.88 56.19,296.79 56.08,295.05C55.97,293.31 56.00,289.37 56.00,286.80C56.00,284.23 56.02,281.67 56.06,279.65Z" fill="none" stroke="rgb(200, 200, 200)" stroke-width="0.55"/>
<path d="M49.90,319.60C49.90,318.02 50.32,315.77 51.10,314.60C51.88,313.43 53.02,312.88 54.60,312.60C56.18,312.32 58.60,312.65 60.60,312.90C62.60,313.15 65.10,313.32 66.60,314.10C68.10,314.88 69.27,316.35 69.60,317.60C69.93,318.85 69.60,320.47 68.60,321.60C67.60,322.73 65.77,323.73 63.60,324.40C61.43,325.07 57.68,325.65 55.60,325.60C53.52,325.55 52.05,325.10 51.10,324.10C50.15,323.10 49.90,321.18 49.90,319.60Z" fill="none" stroke="rgb(30, 30, 30)" stroke-width="0.7"/>
<path d="M50.98,319.78C50.98,318.46 51.33,316.57 51.98,315.60C52.64,314.62 53.59,314.16 54.91,313.92C56.24,313.68 58.26,313.96 59.94,314.17C61.61,314.38 63.71,314.52 64.96,315.18C66.22,315.83 67.20,317.06 67.47,318.11C67.75,319.15 67.48,320.51 66.64,321.46C65.80,322.41 64.26,323.24 62.45,323.80C60.64,324.36 57.49,324.85 55.75,324.81C54.01,324.77 52.78,324.39 51.98,323.55C51.19,322.71 50.98,321.11 50.98,319.78Z" fill="none" stroke="rgb(52, 52, 52)" stroke-width="0.7"/>
<path d="M52.05,319.97C52.05,318.90 52.33,317.38 52.86,316.59C53.39,315.80 54.16,315.43 55.23,315.24C56.29,315.05 57.92,315.27 59.27,315.44C60.62,315.61 62.31,315.72 63.33,316.25C64.34,316.78 65.12,317.77 65.35,318.62C65.57,319.46 65.35,320.55 64.67,321.31C64.00,322.08 62.76,322.76 61.30,323.21C59.84,323.66 57.31,324.05 55.90,324.02C54.49,323.98 53.50,323.68 52.86,323.00C52.22,322.33 52.05,321.03 52.05,319.97Z" fill="none" stroke="rgb(80, 80, 80)" stroke-width="0.7"/>
<path d="M53.13,320.15C53.13,319.34 53.34,318.18 53.74,317.58C54.15,316.99 54.73,316.71 55.54,316.56C56.35,316.41 57.59,316.59 58.61,316.71C59.64,316.84 60.92,316.93 61.69,317.33C62.46,317.73 63.05,318.48 63.23,319.12C63.40,319.76 63.23,320.59 62.71,321.17C62.20,321.75 61.26,322.27 60.15,322.61C59.04,322.95 57.12,323.25 56.05,323.22C54.98,323.20 54.23,322.97 53.74,322.45C53.26,321.94 53.13,320.96 53.13,320.15Z" fill="none" stroke="rgb(110, 110, 110)" stroke-width="0.7"/>
<path d="M54.21,320.33C54.21,319.78 54.35,318.99 54.63,318.58C54.90,318.17 55.30,317.98 55.85,317.88C56.40,317.78 57.25,317.90 57.95,317.99C58.65,318.07 59.53,318.13 60.05,318.41C60.58,318.68 60.98,319.19 61.10,319.63C61.22,320.07 61.10,320.63 60.75,321.03C60.40,321.43 59.76,321.78 59.00,322.01C58.24,322.24 56.93,322.45 56.20,322.43C55.47,322.41 54.96,322.25 54.63,321.91C54.29,321.56 54.21,320.88 54.21,320.33Z" fill="none" stroke="rgb(140, 140, 140)" stroke-width="0.7"/>
<circle cx="56.80" cy="320.20" r="1.3" fill="none" stroke="rgb(60,60,60)" stroke-width="0.8"/>
<path d="M62.60,320.10 L94.60,320.10" stroke="#f6f6f6" stroke-width="0.9" stroke-dasharray="2 1"/>
</g>
<rect x="36.60" y="260.60" width="83.70" height="78.00" fill="none" stroke="#8a8a8a" stroke-width="1.2"/>
<line x1="69.10" y1="260.60" x2="69.10" y2="338.60" stroke="#333" stroke-width="1.3" />
<line x1="36.60" y1="308.30" x2="120.30" y2="308.30" stroke="#333" stroke-width="1.3" />
<text x="78.45" y="255.70" font-size="12" text-anchor="middle" font-weight="normal" fill="#111" textLength="25.8" lengthAdjust="spacingAndGlyphs" >fresh</text>
<text x="37.66" y="270.90" font-size="8.4" text-anchor="start" font-weight="normal" fill="#111" >16.5</text>
<text x="117.36" y="270.90" font-size="8.4" text-anchor="end" font-weight="normal" fill="#111" >5.88</text>
<text x="38.27" y="333.70" font-size="8.4" text-anchor="start" font-weight="normal" fill="#111" >63.7</text>
<text x="117.39" y="333.70" font-size="8.4" text-anchor="end" font-weight="normal" fill="#111" >13.9</text>
<g>
<path d="M150.77,318.76C151.15,316.58 152.31,312.99 153.85,311.07C155.38,309.15 157.69,308.12 160.00,307.22C162.31,306.33 165.13,305.81 167.69,305.68C170.26,305.56 173.08,306.20 175.38,306.45C177.69,306.71 179.74,306.71 181.54,307.22C183.33,307.74 184.10,308.89 186.15,309.53C188.21,310.17 191.67,310.30 193.85,311.07C196.03,311.84 198.21,312.86 199.23,314.15C200.26,315.43 200.38,317.48 200.00,318.76C199.62,320.04 198.46,321.07 196.92,321.84C195.38,322.61 193.59,322.86 190.77,323.38C187.95,323.89 183.08,324.15 180.00,324.92C176.92,325.68 174.87,327.09 172.31,327.99C169.74,328.89 167.18,330.30 164.62,330.30C162.05,330.30 159.10,329.02 156.92,327.99C154.74,326.97 152.56,325.68 151.54,324.15C150.51,322.61 150.38,320.94 150.77,318.76Z" fill="none" stroke="rgb(175, 175, 175)" stroke-width="0.55"/>
<path d="M152.18,318.69C152.55,316.64 153.65,313.27 155.11,311.46C156.58,309.66 158.78,308.69 160.98,307.85C163.18,307.01 165.87,306.52 168.31,306.40C170.75,306.28 173.44,306.88 175.64,307.13C177.84,307.37 179.80,307.37 181.51,307.85C183.22,308.33 183.95,309.41 185.90,310.02C187.86,310.62 191.16,310.74 193.24,311.46C195.31,312.19 197.39,313.15 198.37,314.35C199.35,315.56 199.47,317.49 199.10,318.69C198.74,319.90 197.64,320.86 196.17,321.58C194.70,322.31 192.99,322.55 190.30,323.03C187.62,323.51 182.97,323.75 180.04,324.47C177.11,325.20 175.15,326.52 172.71,327.37C170.26,328.21 167.82,329.53 165.38,329.53C162.93,329.53 160.12,328.33 158.04,327.37C155.97,326.40 153.89,325.20 152.91,323.75C151.93,322.31 151.81,320.74 152.18,318.69Z" fill="none" stroke="rgb(157, 157, 157)" stroke-width="0.55"/>
<path d="M154.24,318.59C154.58,316.73 155.60,313.68 156.96,312.04C158.32,310.40 160.37,309.53 162.41,308.76C164.45,308.00 166.94,307.56 169.21,307.45C171.48,307.34 173.97,307.89 176.01,308.11C178.06,308.33 179.87,308.33 181.46,308.76C183.05,309.20 183.73,310.18 185.54,310.73C187.36,311.27 190.42,311.38 192.34,312.04C194.27,312.69 196.20,313.57 197.11,314.66C198.01,315.75 198.13,317.50 197.79,318.59C197.45,319.68 196.43,320.55 195.07,321.21C193.71,321.86 192.12,322.08 189.62,322.52C187.13,322.96 182.82,323.17 180.10,323.83C177.38,324.48 175.56,325.69 173.29,326.45C171.03,327.21 168.76,328.41 166.49,328.41C164.22,328.41 161.61,327.32 159.68,326.45C157.76,325.58 155.83,324.48 154.92,323.17C154.01,321.86 153.90,320.45 154.24,318.59Z" fill="none" stroke="rgb(140, 140, 140)" stroke-width="0.55"/>
<path d="M156.65,318.47C156.96,316.84 157.89,314.15 159.13,312.71C160.36,311.27 162.22,310.50 164.08,309.83C165.93,309.16 168.20,308.78 170.26,308.68C172.33,308.58 174.60,309.06 176.45,309.26C178.31,309.45 179.96,309.45 181.40,309.83C182.85,310.22 183.47,311.08 185.12,311.56C186.77,312.04 189.55,312.14 191.30,312.71C193.06,313.29 194.81,314.06 195.63,315.01C196.46,315.97 196.56,317.51 196.25,318.47C195.94,319.43 195.02,320.20 193.78,320.77C192.54,321.35 191.10,321.54 188.83,321.92C186.56,322.31 182.64,322.50 180.16,323.08C177.69,323.65 176.04,324.71 173.98,325.38C171.91,326.05 169.85,327.11 167.79,327.11C165.73,327.11 163.35,326.15 161.60,325.38C159.85,324.61 158.10,323.65 157.27,322.50C156.44,321.35 156.34,320.10 156.65,318.47Z" fill="none" stroke="rgb(130, 130, 130)" stroke-width="0.55"/>
<path d="M159.32,318.34C159.59,316.95 160.42,314.68 161.52,313.46C162.62,312.24 164.27,311.59 165.93,311.02C167.58,310.45 169.60,310.12 171.43,310.04C173.27,309.96 175.28,310.37 176.94,310.53C178.59,310.69 180.06,310.69 181.34,311.02C182.63,311.34 183.18,312.07 184.64,312.48C186.11,312.89 188.59,312.97 190.15,313.46C191.71,313.94 193.27,314.60 194.00,315.41C194.74,316.22 194.83,317.52 194.55,318.34C194.28,319.15 193.45,319.80 192.35,320.29C191.25,320.78 189.97,320.94 187.95,321.27C185.93,321.59 182.44,321.75 180.24,322.24C178.04,322.73 176.57,323.62 174.73,324.19C172.90,324.76 171.06,325.66 169.23,325.66C167.39,325.66 165.28,324.84 163.72,324.19C162.16,323.54 160.60,322.73 159.87,321.75C159.14,320.78 159.04,319.72 159.32,318.34Z" fill="none" stroke="rgb(120, 120, 120)" stroke-width="0.55"/>
<path d="M162.20,318.19C162.43,317.08 163.15,315.24 164.10,314.26C165.06,313.28 166.49,312.75 167.92,312.29C169.35,311.83 171.10,311.57 172.69,311.51C174.28,311.44 176.03,311.77 177.46,311.90C178.89,312.03 180.16,312.03 181.27,312.29C182.39,312.55 182.86,313.14 184.14,313.47C185.41,313.80 187.55,313.87 188.91,314.26C190.26,314.65 191.61,315.18 192.24,315.83C192.88,316.49 192.96,317.54 192.72,318.19C192.48,318.85 191.77,319.37 190.81,319.77C189.86,320.16 188.75,320.29 187.00,320.55C185.25,320.82 182.23,320.95 180.32,321.34C178.41,321.74 177.14,322.46 175.55,322.92C173.96,323.37 172.37,324.10 170.78,324.10C169.19,324.10 167.36,323.44 166.01,322.92C164.66,322.39 163.31,321.74 162.67,320.95C162.04,320.16 161.96,319.31 162.20,318.19Z" fill="none" stroke="rgb(135, 135, 135)" stroke-width="0.55"/>
<path d="M165.25,318.04C165.45,317.21 166.05,315.85 166.85,315.11C167.65,314.38 168.84,313.99 170.04,313.65C171.23,313.31 172.70,313.11 174.03,313.06C175.35,313.01 176.82,313.26 178.01,313.36C179.21,313.45 180.27,313.45 181.20,313.65C182.13,313.84 182.53,314.28 183.60,314.53C184.66,314.77 186.45,314.82 187.58,315.11C188.71,315.41 189.84,315.80 190.38,316.28C190.91,316.77 190.97,317.55 190.77,318.04C190.57,318.53 189.98,318.92 189.18,319.21C188.38,319.51 187.45,319.60 185.99,319.80C184.53,320.00 182.00,320.09 180.41,320.39C178.81,320.68 177.75,321.22 176.42,321.56C175.09,321.90 173.76,322.44 172.43,322.44C171.10,322.44 169.57,321.95 168.44,321.56C167.31,321.17 166.18,320.68 165.65,320.09C165.12,319.51 165.05,318.87 165.25,318.04Z" fill="none" stroke="rgb(150, 150, 150)" stroke-width="0.55"/>
<path d="M168.47,317.88C168.62,317.35 169.10,316.48 169.73,316.01C170.37,315.54 171.32,315.29 172.26,315.07C173.21,314.86 174.38,314.73 175.43,314.70C176.49,314.67 177.65,314.82 178.60,314.89C179.55,314.95 180.39,314.95 181.13,315.07C181.87,315.20 182.18,315.48 183.03,315.64C183.87,315.79 185.30,315.82 186.19,316.01C187.09,316.20 187.99,316.45 188.41,316.76C188.83,317.07 188.89,317.57 188.73,317.88C188.57,318.19 188.09,318.44 187.46,318.63C186.83,318.82 186.09,318.88 184.93,319.01C183.77,319.13 181.76,319.19 180.50,319.38C179.23,319.57 178.39,319.91 177.33,320.13C176.27,320.35 175.22,320.69 174.16,320.69C173.11,320.69 171.90,320.38 171.00,320.13C170.10,319.88 169.20,319.57 168.78,319.19C168.36,318.82 168.31,318.41 168.47,317.88Z" fill="none" stroke="rgb(175, 175, 175)" stroke-width="0.55"/>
<path d="M171.82,317.72C171.94,317.50 172.28,317.14 172.74,316.95C173.21,316.75 173.90,316.65 174.59,316.56C175.28,316.47 176.13,316.42 176.90,316.41C177.67,316.40 178.51,316.46 179.21,316.49C179.90,316.51 180.51,316.51 181.05,316.56C181.59,316.61 181.82,316.73 182.44,316.79C183.05,316.86 184.09,316.87 184.74,316.95C185.40,317.02 186.05,317.13 186.36,317.25C186.67,317.38 186.71,317.59 186.59,317.72C186.47,317.84 186.13,317.95 185.67,318.02C185.21,318.10 184.67,318.13 183.82,318.18C182.97,318.23 181.51,318.25 180.59,318.33C179.67,318.41 179.05,318.55 178.28,318.64C177.51,318.73 176.74,318.87 175.97,318.87C175.21,318.87 174.32,318.74 173.67,318.64C173.01,318.54 172.36,318.41 172.05,318.25C171.74,318.10 171.71,317.93 171.82,317.72Z" fill="none" stroke="rgb(200, 200, 200)" stroke-width="0.55"/>
<path d="M154.62,318.76C154.74,317.22 155.64,314.66 156.92,313.38C158.21,312.09 160.38,311.33 162.31,311.07C164.23,310.81 166.67,311.07 168.46,311.84C170.26,312.61 171.92,314.53 173.08,315.68C174.23,316.84 175.38,317.61 175.38,318.76C175.38,319.92 174.36,321.58 173.08,322.61C171.79,323.63 169.74,324.53 167.69,324.92C165.64,325.30 162.69,325.30 160.77,324.92C158.85,324.53 157.18,323.63 156.15,322.61C155.13,321.58 154.49,320.30 154.62,318.76Z" fill="none" stroke="rgb(60, 60, 60)" stroke-width="0.6"/>
<path d="M155.99,318.77C156.10,317.48 156.85,315.32 157.93,314.24C159.00,313.17 160.84,312.52 162.45,312.31C164.07,312.09 166.11,312.31 167.62,312.95C169.13,313.60 170.53,315.21 171.50,316.18C172.47,317.15 173.44,317.80 173.44,318.77C173.44,319.74 172.57,321.14 171.50,322.00C170.42,322.86 168.70,323.61 166.97,323.94C165.25,324.26 162.77,324.26 161.16,323.94C159.54,323.61 158.14,322.86 157.28,322.00C156.42,321.14 155.88,320.06 155.99,318.77Z" fill="none" stroke="rgb(52, 52, 52)" stroke-width="0.6"/>
<path d="M157.36,318.77C157.45,317.73 158.06,315.98 158.93,315.11C159.80,314.24 161.29,313.72 162.59,313.54C163.90,313.37 165.56,313.54 166.78,314.07C168.00,314.59 169.13,315.90 169.92,316.68C170.70,317.47 171.49,317.99 171.49,318.77C171.49,319.56 170.79,320.69 169.92,321.39C169.04,322.09 167.65,322.70 166.25,322.96C164.86,323.22 162.85,323.22 161.55,322.96C160.24,322.70 159.11,322.09 158.41,321.39C157.71,320.69 157.28,319.82 157.36,318.77Z" fill="none" stroke="rgb(74, 74, 74)" stroke-width="0.6"/>
<path d="M158.74,318.78C158.80,317.98 159.27,316.65 159.94,315.98C160.60,315.31 161.74,314.91 162.74,314.78C163.74,314.65 165.00,314.78 165.94,315.18C166.87,315.58 167.74,316.58 168.34,317.18C168.94,317.78 169.54,318.18 169.54,318.78C169.54,319.38 169.00,320.25 168.34,320.78C167.67,321.31 166.60,321.78 165.54,321.98C164.47,322.18 162.94,322.18 161.94,321.98C160.94,321.78 160.07,321.31 159.54,320.78C159.00,320.25 158.67,319.58 158.74,318.78Z" fill="none" stroke="rgb(106, 106, 106)" stroke-width="0.6"/>
<path d="M160.11,318.79C160.16,318.23 160.48,317.31 160.94,316.85C161.40,316.39 162.19,316.11 162.88,316.02C163.57,315.92 164.45,316.02 165.09,316.29C165.74,316.57 166.34,317.26 166.76,317.68C167.17,318.09 167.59,318.37 167.59,318.79C167.59,319.20 167.22,319.80 166.76,320.17C166.29,320.54 165.56,320.86 164.82,321.00C164.08,321.14 163.02,321.14 162.32,321.00C161.63,320.86 161.03,320.54 160.66,320.17C160.29,319.80 160.06,319.34 160.11,318.79Z" fill="none" stroke="rgb(142, 142, 142)" stroke-width="0.6"/>
<path d="M161.48,318.79C161.51,318.48 161.69,317.97 161.94,317.72C162.20,317.46 162.64,317.31 163.02,317.25C163.41,317.20 163.89,317.25 164.25,317.41C164.61,317.56 164.94,317.95 165.18,318.18C165.41,318.41 165.64,318.56 165.64,318.79C165.64,319.02 165.43,319.36 165.18,319.56C164.92,319.77 164.51,319.95 164.10,320.02C163.69,320.10 163.10,320.10 162.71,320.02C162.33,319.95 162.00,319.77 161.79,319.56C161.59,319.36 161.46,319.10 161.48,318.79Z" fill="none" stroke="rgb(190, 190, 190)" stroke-width="0.6"/>
</g>
<rect x="140.70" y="260.60" width="78.30" height="78.00" fill="none" stroke="#8a8a8a" stroke-width="1.2"/>
<line x1="171.70" y1="260.60" x2="171.70" y2="338.60" stroke="#333" stroke-width="1.3" />
<line x1="140.70" y1="307.50" x2="219.00" y2="307.50" stroke="#333" stroke-width="1.3" />
<text x="179.85" y="255.70" font-size="12" text-anchor="middle" font-weight="normal" fill="#111" textLength="49.1" lengthAdjust="spacingAndGlyphs" >+medium</text>
<text x="142.48" y="270.90" font-size="8.4" text-anchor="start" font-weight="normal" fill="#111" >2.65</text>
<text x="216.02" y="270.90" font-size="8.4" text-anchor="end" font-weight="normal" fill="#111" >3.67</text>
<text x="141.97" y="333.70" font-size="8.4" text-anchor="start" font-weight="normal" fill="#111" >62.6</text>
<text x="214.61" y="333.70" font-size="8.4" text-anchor="end" font-weight="normal" fill="#111" >31.1</text>
<g>
<path d="M257.81,306.51C256.04,304.12 255.52,298.33 255.00,294.83C254.48,291.32 254.48,288.08 254.69,285.48C254.90,282.88 255.47,281.07 256.25,279.25C257.03,277.43 258.20,275.54 259.36,274.58C260.53,273.62 261.83,273.15 263.26,273.49C264.69,273.82 266.50,275.12 267.93,276.60C269.36,278.08 270.66,280.50 271.83,282.36C272.99,284.23 273.85,286.21 274.94,287.82C276.03,289.43 277.33,290.59 278.37,292.02C279.41,293.45 280.81,294.83 281.17,296.38C281.53,297.94 281.28,299.81 280.55,301.37C279.82,302.93 278.21,304.53 276.81,305.73C275.41,306.92 274.01,307.96 272.14,308.53C270.27,309.10 267.98,309.49 265.60,309.16C263.21,308.82 259.57,308.90 257.81,306.51Z" fill="none" stroke="rgb(165, 165, 165)" stroke-width="0.55"/>
<path d="M258.27,304.56C256.68,302.44 256.22,297.30 255.75,294.19C255.28,291.08 255.28,288.20 255.47,285.89C255.65,283.59 256.17,281.98 256.87,280.36C257.57,278.75 258.62,277.07 259.67,276.22C260.72,275.36 261.89,274.95 263.18,275.25C264.46,275.55 266.10,276.70 267.38,278.01C268.67,279.33 269.84,281.47 270.89,283.13C271.94,284.79 272.71,286.54 273.69,287.97C274.67,289.40 275.84,290.43 276.78,291.70C277.71,292.97 278.97,294.19 279.30,295.57C279.63,296.95 279.39,298.61 278.74,299.99C278.08,301.38 276.64,302.80 275.37,303.86C274.11,304.92 272.85,305.85 271.17,306.35C269.49,306.86 267.43,307.21 265.28,306.91C263.13,306.61 259.86,306.68 258.27,304.56Z" fill="none" stroke="rgb(157, 157, 157)" stroke-width="0.55"/>
<path d="M258.74,302.60C257.32,300.75 256.91,296.27 256.49,293.55C256.08,290.83 256.08,288.32 256.24,286.31C256.41,284.29 256.87,282.89 257.49,281.48C258.11,280.07 259.05,278.60 259.98,277.86C260.92,277.11 261.95,276.75 263.10,277.01C264.24,277.27 265.69,278.28 266.84,279.43C267.98,280.57 269.02,282.44 269.95,283.89C270.89,285.34 271.57,286.87 272.44,288.12C273.31,289.36 274.35,290.27 275.18,291.38C276.01,292.48 277.14,293.55 277.43,294.76C277.72,295.96 277.51,297.41 276.93,298.62C276.35,299.83 275.06,301.07 273.94,302.00C272.82,302.93 271.69,303.73 270.20,304.17C268.70,304.62 266.88,304.92 264.97,304.66C263.06,304.39 260.15,304.45 258.74,302.60Z" fill="none" stroke="rgb(150, 150, 150)" stroke-width="0.55"/>
<path d="M259.20,300.65C257.96,299.07 257.60,295.23 257.24,292.91C256.87,290.59 256.87,288.44 257.02,286.72C257.16,285.00 257.56,283.80 258.11,282.59C258.65,281.39 259.47,280.13 260.29,279.50C261.11,278.86 262.02,278.55 263.02,278.77C264.02,279.00 265.29,279.86 266.29,280.84C267.29,281.82 268.20,283.42 269.01,284.66C269.83,285.89 270.43,287.20 271.19,288.27C271.96,289.33 272.87,290.11 273.59,291.05C274.32,292.00 275.30,292.91 275.55,293.94C275.81,294.98 275.63,296.21 275.12,297.25C274.61,298.28 273.48,299.34 272.50,300.14C271.52,300.93 270.54,301.61 269.23,301.99C267.92,302.37 266.32,302.63 264.65,302.41C262.98,302.18 260.44,302.23 259.20,300.65Z" fill="none" stroke="rgb(145, 145, 145)" stroke-width="0.55"/>
<path d="M259.66,298.70C258.60,297.39 258.29,294.20 257.98,292.27C257.67,290.35 257.67,288.56 257.79,287.13C257.92,285.71 258.26,284.71 258.73,283.71C259.20,282.71 259.90,281.67 260.60,281.14C261.30,280.61 262.08,280.35 262.94,280.54C263.79,280.72 264.88,281.44 265.74,282.25C266.60,283.06 267.37,284.39 268.08,285.42C268.78,286.45 269.29,287.53 269.94,288.42C270.60,289.30 271.38,289.95 272.00,290.73C272.62,291.52 273.46,292.27 273.68,293.13C273.90,293.99 273.75,295.02 273.31,295.87C272.87,296.73 271.91,297.61 271.07,298.27C270.22,298.93 269.38,299.50 268.26,299.81C267.14,300.13 265.77,300.34 264.34,300.16C262.90,299.97 260.72,300.01 259.66,298.70Z" fill="none" stroke="rgb(140, 140, 140)" stroke-width="0.55"/>
<path d="M257.81,305.73C256.51,303.39 256.38,297.16 256.25,293.27C256.12,289.37 256.51,285.09 257.03,282.36C257.55,279.64 258.33,278.08 259.36,276.91C260.40,275.74 261.96,275.10 263.26,275.36C264.56,275.61 266.19,276.78 267.15,278.47C268.11,280.16 268.71,282.75 269.02,285.48C269.33,288.21 269.20,291.71 269.02,294.83C268.84,297.94 268.76,302.09 267.93,304.17C267.10,306.25 265.72,307.03 264.04,307.29C262.35,307.55 259.10,308.07 257.81,305.73Z" fill="none" stroke="rgb(130, 130, 130)" stroke-width="0.55"/>
<path d="M258.77,303.08C257.69,301.11 257.58,295.88 257.47,292.60C257.36,289.33 257.69,285.73 258.12,283.44C258.55,281.15 259.20,279.84 260.06,278.86C260.92,277.87 262.22,277.33 263.29,277.55C264.37,277.77 265.73,278.75 266.53,280.17C267.33,281.58 267.82,283.77 268.08,286.06C268.34,288.35 268.23,291.29 268.08,293.91C267.93,296.53 267.86,300.02 267.17,301.77C266.48,303.51 265.34,304.17 263.94,304.39C262.54,304.60 259.84,305.04 258.77,303.08Z" fill="none" stroke="rgb(116, 116, 116)" stroke-width="0.55"/>
<path d="M259.60,300.78C258.71,299.14 258.62,294.76 258.53,292.03C258.44,289.29 258.71,286.28 259.06,284.37C259.42,282.45 259.95,281.36 260.66,280.54C261.37,279.72 262.44,279.26 263.32,279.45C264.21,279.63 265.33,280.45 265.99,281.63C266.64,282.82 267.05,284.64 267.26,286.56C267.48,288.47 267.39,290.93 267.26,293.12C267.14,295.31 267.09,298.23 266.52,299.69C265.95,301.14 265.01,301.69 263.86,301.87C262.70,302.06 260.48,302.42 259.60,300.78Z" fill="none" stroke="rgb(113, 113, 113)" stroke-width="0.55"/>
<path d="M260.38,298.60C259.68,297.27 259.61,293.71 259.54,291.48C259.47,289.26 259.68,286.81 259.96,285.25C260.24,283.69 260.67,282.80 261.23,282.14C261.80,281.47 262.65,281.10 263.35,281.25C264.06,281.40 264.95,282.06 265.47,283.03C266.00,283.99 266.32,285.47 266.49,287.03C266.66,288.59 266.59,290.59 266.49,292.37C266.39,294.15 266.35,296.52 265.90,297.71C265.44,298.90 264.70,299.34 263.78,299.49C262.86,299.64 261.09,299.93 260.38,298.60Z" fill="none" stroke="rgb(120, 120, 120)" stroke-width="0.55"/>
<path d="M261.15,296.49C260.61,295.45 260.56,292.68 260.51,290.95C260.45,289.22 260.61,287.32 260.83,286.11C261.04,284.89 261.36,284.20 261.78,283.68C262.21,283.16 262.85,282.87 263.38,282.99C263.91,283.10 264.58,283.62 264.98,284.37C265.37,285.12 265.61,286.28 265.74,287.49C265.87,288.70 265.82,290.26 265.74,291.65C265.67,293.03 265.64,294.88 265.30,295.80C264.96,296.72 264.39,297.07 263.70,297.19C263.01,297.30 261.68,297.53 261.15,296.49Z" fill="none" stroke="rgb(140, 140, 140)" stroke-width="0.55"/>
<path d="M261.89,294.44C261.53,293.69 261.49,291.69 261.45,290.44C261.42,289.19 261.53,287.81 261.67,286.94C261.82,286.06 262.03,285.56 262.32,285.19C262.61,284.81 263.05,284.60 263.41,284.69C263.77,284.77 264.22,285.15 264.49,285.69C264.76,286.23 264.93,287.06 265.01,287.94C265.10,288.81 265.06,289.94 265.01,290.94C264.96,291.94 264.94,293.27 264.71,293.94C264.48,294.61 264.09,294.86 263.62,294.94C263.15,295.02 262.25,295.19 261.89,294.44Z" fill="none" stroke="rgb(166, 166, 166)" stroke-width="0.55"/>
<path d="M262.62,292.43C262.42,291.96 262.40,290.71 262.38,289.93C262.36,289.15 262.42,288.30 262.50,287.75C262.58,287.21 262.69,286.90 262.85,286.66C263.01,286.43 263.24,286.30 263.43,286.35C263.63,286.40 263.87,286.64 264.02,286.97C264.16,287.31 264.25,287.83 264.30,288.38C264.35,288.92 264.33,289.62 264.30,290.25C264.27,290.87 264.26,291.70 264.13,292.11C264.01,292.53 263.80,292.69 263.55,292.74C263.30,292.79 262.81,292.89 262.62,292.43Z" fill="none" stroke="rgb(200, 200, 200)" stroke-width="0.55"/>
<ellipse cx="263.40" cy="290.10" rx="1.1" ry="1.6" fill="#fff"/>
<path d="M248.70,318.60C248.53,316.35 249.12,313.68 250.20,312.10C251.28,310.52 252.87,309.68 255.20,309.10C257.53,308.52 261.20,308.65 264.20,308.60C267.20,308.55 270.20,308.72 273.20,308.80C276.20,308.88 279.20,308.80 282.20,309.10C285.20,309.40 288.70,309.85 291.20,310.60C293.70,311.35 295.87,312.27 297.20,313.60C298.53,314.93 299.20,317.10 299.20,318.60C299.20,320.10 298.87,321.68 297.20,322.60C295.53,323.52 292.53,323.68 289.20,324.10C285.87,324.52 280.87,324.52 277.20,325.10C273.53,325.68 270.53,326.93 267.20,327.60C263.87,328.27 259.87,329.43 257.20,329.10C254.53,328.77 252.62,327.35 251.20,325.60C249.78,323.85 248.87,320.85 248.70,318.60Z" fill="none" stroke="rgb(70, 70, 70)" stroke-width="0.6"/>
<path d="M249.40,318.64C249.24,316.51 249.80,314.00 250.84,312.50C251.88,311.01 253.40,310.22 255.63,309.67C257.87,309.12 261.38,309.25 264.26,309.20C267.13,309.15 270.01,309.31 272.88,309.39C275.76,309.47 278.63,309.39 281.51,309.67C284.38,309.96 287.74,310.38 290.13,311.09C292.53,311.80 294.60,312.66 295.88,313.92C297.16,315.18 297.80,317.22 297.80,318.64C297.80,320.05 297.48,321.55 295.88,322.41C294.28,323.28 291.41,323.43 288.22,323.83C285.02,324.22 280.23,324.22 276.72,324.77C273.20,325.32 270.33,326.50 267.13,327.13C263.94,327.76 260.11,328.86 257.55,328.54C254.99,328.23 253.16,326.89 251.80,325.24C250.44,323.59 249.56,320.76 249.40,318.64Z" fill="none" stroke="rgb(61, 61, 61)" stroke-width="0.6"/>
<path d="M250.37,318.69C250.22,316.74 250.75,314.43 251.73,313.06C252.70,311.69 254.13,310.97 256.23,310.46C258.33,309.96 261.63,310.07 264.34,310.03C267.04,309.98 269.74,310.13 272.44,310.20C275.15,310.27 277.85,310.20 280.55,310.46C283.25,310.72 286.41,311.11 288.66,311.76C290.91,312.41 292.86,313.20 294.06,314.36C295.27,315.51 295.87,317.39 295.87,318.69C295.87,319.98 295.57,321.35 294.06,322.15C292.56,322.94 289.86,323.09 286.86,323.45C283.86,323.81 279.35,323.81 276.05,324.31C272.75,324.82 270.04,325.90 267.04,326.48C264.04,327.05 260.43,328.06 258.03,327.78C255.63,327.49 253.90,326.26 252.63,324.75C251.35,323.23 250.52,320.63 250.37,318.69Z" fill="none" stroke="rgb(52, 52, 52)" stroke-width="0.6"/>
<path d="M251.48,318.74C251.34,316.99 251.83,314.92 252.73,313.69C253.64,312.46 254.96,311.81 256.91,311.36C258.86,310.91 261.92,311.01 264.43,310.97C266.93,310.93 269.44,311.06 271.95,311.13C274.45,311.19 276.96,311.13 279.46,311.36C281.97,311.59 284.89,311.94 286.98,312.52C289.07,313.11 290.88,313.82 292.00,314.86C293.11,315.89 293.67,317.58 293.67,318.74C293.67,319.91 293.39,321.14 292.00,321.85C290.60,322.56 288.10,322.69 285.31,323.02C282.53,323.34 278.35,323.34 275.29,323.79C272.22,324.25 269.72,325.22 266.93,325.74C264.15,326.25 260.81,327.16 258.58,326.90C256.35,326.64 254.75,325.54 253.57,324.18C252.38,322.82 251.62,320.49 251.48,318.74Z" fill="none" stroke="rgb(60, 60, 60)" stroke-width="0.6"/>
<path d="M252.68,318.80C252.56,317.27 253.00,315.46 253.83,314.38C254.66,313.30 255.87,312.73 257.65,312.34C259.43,311.94 262.23,312.03 264.53,312.00C266.82,311.96 269.11,312.08 271.40,312.13C273.70,312.19 275.99,312.13 278.28,312.34C280.57,312.54 283.25,312.85 285.16,313.36C287.07,313.87 288.72,314.49 289.74,315.40C290.76,316.31 291.27,317.78 291.27,318.80C291.27,319.82 291.02,320.90 289.74,321.53C288.47,322.15 286.18,322.26 283.63,322.55C281.08,322.83 277.26,322.83 274.46,323.23C271.66,323.62 269.37,324.48 266.82,324.93C264.27,325.38 261.22,326.18 259.18,325.95C257.14,325.72 255.68,324.76 254.59,323.57C253.51,322.38 252.81,320.33 252.68,318.80Z" fill="none" stroke="rgb(73, 73, 73)" stroke-width="0.6"/>
<path d="M253.96,318.87C253.85,317.57 254.25,316.03 255.00,315.11C255.74,314.20 256.83,313.72 258.44,313.38C260.04,313.04 262.57,313.12 264.63,313.09C266.70,313.06 268.76,313.16 270.83,313.20C272.89,313.25 274.96,313.20 277.02,313.38C279.08,313.55 281.49,313.81 283.21,314.25C284.93,314.68 286.43,315.21 287.34,315.98C288.26,316.75 288.72,318.00 288.72,318.87C288.72,319.74 288.49,320.65 287.34,321.18C286.20,321.71 284.13,321.81 281.84,322.05C279.54,322.29 276.10,322.29 273.58,322.63C271.06,322.96 268.99,323.68 266.70,324.07C264.40,324.46 261.65,325.13 259.81,324.94C257.98,324.74 256.66,323.93 255.68,322.91C254.71,321.90 254.08,320.17 253.96,318.87Z" fill="none" stroke="rgb(91, 91, 91)" stroke-width="0.6"/>
<path d="M255.31,318.94C255.21,317.88 255.56,316.63 256.22,315.88C256.88,315.14 257.85,314.75 259.27,314.47C260.69,314.20 262.92,314.26 264.74,314.24C266.57,314.21 268.39,314.29 270.22,314.33C272.04,314.37 273.87,314.33 275.69,314.47C277.52,314.61 279.65,314.83 281.17,315.18C282.69,315.53 284.01,315.96 284.82,316.59C285.63,317.21 286.04,318.23 286.04,318.94C286.04,319.64 285.83,320.39 284.82,320.82C283.81,321.25 281.98,321.33 279.95,321.52C277.93,321.72 274.88,321.72 272.65,321.99C270.42,322.27 268.60,322.85 266.57,323.17C264.54,323.48 262.11,324.03 260.48,323.87C258.86,323.71 257.69,323.05 256.83,322.23C255.97,321.40 255.41,319.99 255.31,318.94Z" fill="none" stroke="rgb(113, 113, 113)" stroke-width="0.6"/>
<path d="M256.72,319.01C256.63,318.21 256.94,317.25 257.50,316.69C258.07,316.12 258.90,315.82 260.13,315.62C261.36,315.41 263.28,315.45 264.86,315.44C266.43,315.42 268.01,315.48 269.58,315.51C271.16,315.54 272.74,315.51 274.31,315.62C275.89,315.72 277.73,315.88 279.04,316.15C280.35,316.42 281.49,316.75 282.19,317.22C282.89,317.70 283.24,318.47 283.24,319.01C283.24,319.54 283.07,320.11 282.19,320.44C281.31,320.77 279.74,320.82 277.99,320.97C276.24,321.12 273.61,321.12 271.69,321.33C269.76,321.54 268.18,321.99 266.43,322.22C264.68,322.46 262.58,322.88 261.18,322.76C259.78,322.64 258.77,322.13 258.03,321.51C257.29,320.88 256.80,319.81 256.72,319.01Z" fill="none" stroke="rgb(137, 137, 137)" stroke-width="0.6"/>
<path d="M258.17,319.08C258.10,318.54 258.36,317.90 258.83,317.52C259.31,317.14 260.00,316.94 261.03,316.80C262.05,316.66 263.66,316.69 264.98,316.68C266.29,316.67 267.61,316.71 268.93,316.73C270.24,316.75 271.56,316.73 272.88,316.80C274.20,316.87 275.73,316.98 276.83,317.16C277.93,317.34 278.88,317.56 279.46,317.88C280.05,318.20 280.34,318.72 280.34,319.08C280.34,319.44 280.20,319.82 279.46,320.05C278.73,320.27 277.41,320.31 275.95,320.41C274.49,320.51 272.29,320.51 270.68,320.65C269.07,320.79 267.76,321.09 266.29,321.25C264.83,321.41 263.07,321.69 261.90,321.61C260.73,321.53 259.89,321.19 259.27,320.77C258.65,320.35 258.25,319.62 258.17,319.08Z" fill="none" stroke="rgb(168, 168, 168)" stroke-width="0.6"/>
<path d="M259.68,319.16C259.62,318.89 259.82,318.57 260.20,318.38C260.58,318.19 261.13,318.09 261.95,318.02C262.77,317.95 264.05,317.97 265.10,317.96C266.15,317.95 267.20,317.97 268.25,317.98C269.30,317.99 270.35,317.98 271.40,318.02C272.45,318.06 273.68,318.11 274.55,318.20C275.43,318.29 276.18,318.40 276.65,318.56C277.12,318.72 277.35,318.98 277.35,319.16C277.35,319.34 277.23,319.53 276.65,319.64C276.07,319.75 275.02,319.77 273.85,319.82C272.68,319.87 270.93,319.87 269.65,319.94C268.37,320.01 267.32,320.16 266.15,320.24C264.98,320.32 263.58,320.46 262.65,320.42C261.72,320.38 261.05,320.21 260.55,320.00C260.05,319.79 259.73,319.43 259.68,319.16Z" fill="none" stroke="rgb(200, 200, 200)" stroke-width="0.6"/>
<ellipse cx="260.70" cy="319.10" rx="2" ry="1.2" fill="#fff"/>
</g>
<rect x="237.20" y="260.60" width="78.40" height="78.00" fill="none" stroke="#8a8a8a" stroke-width="1.2"/>
<line x1="267.80" y1="260.60" x2="267.80" y2="338.60" stroke="#333" stroke-width="1.3" />
<line x1="237.20" y1="307.50" x2="315.60" y2="307.50" stroke="#333" stroke-width="1.3" />
<text x="276.40" y="255.70" font-size="12" text-anchor="middle" font-weight="normal" fill="#111" textLength="28.1" lengthAdjust="spacingAndGlyphs" >+IL-2</text>
<text x="240.36" y="270.90" font-size="8.4" text-anchor="start" font-weight="normal" fill="#111" >14.6</text>
<text x="313.04" y="270.90" font-size="8.4" text-anchor="end" font-weight="normal" fill="#111" >10.4</text>
<text x="240.21" y="333.70" font-size="8.4" text-anchor="start" font-weight="normal" fill="#111" >47.9</text>
<text x="311.91" y="333.70" font-size="8.4" text-anchor="end" font-weight="normal" fill="#111" >27.1</text>
<g>
<path d="M367.62,297.22C368.13,296.58 371.08,297.43 373.00,297.99C374.92,298.56 377.36,299.20 379.15,300.61C380.95,302.02 382.36,304.45 383.77,306.45C385.18,308.45 386.59,310.43 387.62,312.61C388.64,314.79 389.79,317.74 389.92,319.53C390.05,321.33 389.41,322.86 388.38,323.38C387.36,323.89 385.05,323.63 383.77,322.61C382.49,321.58 381.72,319.15 380.69,317.22C379.67,315.30 378.77,312.86 377.62,311.07C376.46,309.27 375.05,307.99 373.77,306.45C372.49,304.92 370.95,303.38 369.92,301.84C368.90,300.30 367.10,297.86 367.62,297.22Z" fill="none" stroke="rgb(160, 160, 160)" stroke-width="0.55"/>
<path d="M371.46,299.53C371.85,299.02 375.31,300.56 376.85,301.84C378.38,303.12 379.41,305.30 380.69,307.22C381.97,309.15 383.64,311.45 384.54,313.38C385.44,315.30 386.21,317.61 386.08,318.76C385.95,319.92 384.54,320.81 383.77,320.30C383.00,319.79 382.36,317.48 381.46,315.68C380.56,313.89 379.54,311.33 378.38,309.53C377.23,307.74 375.69,306.58 374.54,304.92C373.38,303.25 371.08,300.04 371.46,299.53Z" fill="none" stroke="rgb(150, 150, 150)" stroke-width="0.55"/>
<path d="M375.31,303.38C375.69,303.25 378.05,305.04 379.15,306.45C380.26,307.86 381.28,310.30 381.92,311.84C382.56,313.38 383.15,315.04 383.00,315.68C382.85,316.33 381.64,316.45 381.00,315.68C380.36,314.92 379.85,312.48 379.15,311.07C378.46,309.66 377.49,308.51 376.85,307.22C376.21,305.94 374.92,303.51 375.31,303.38Z" fill="none" stroke="rgb(140, 140, 140)" stroke-width="0.55"/>
<path d="M349.92,306.45C347.74,303.76 349.10,295.43 349.15,291.07C349.21,286.71 349.46,282.99 350.23,280.30C351.00,277.61 352.15,276.07 353.77,274.92C355.38,273.76 358.00,273.38 359.92,273.38C361.85,273.38 363.38,274.92 365.31,274.92C367.23,274.92 369.15,273.81 371.46,273.38C373.77,272.94 376.33,272.43 379.15,272.30C381.97,272.17 385.69,272.17 388.38,272.61C391.08,273.04 393.46,273.63 395.31,274.92C397.15,276.20 398.51,278.25 399.46,280.30C400.41,282.35 401.18,285.12 401.00,287.22C400.82,289.33 399.97,291.38 398.38,292.92C396.79,294.45 393.90,295.48 391.46,296.45C389.03,297.43 386.59,298.33 383.77,298.76C380.95,299.20 377.23,299.12 374.54,299.07C371.85,299.02 369.28,297.74 367.62,298.45C365.95,299.17 365.44,301.92 364.54,303.38C363.64,304.84 364.67,306.71 362.23,307.22C359.79,307.74 352.10,309.15 349.92,306.45Z" fill="none" stroke="rgb(165, 165, 165)" stroke-width="0.55"/>
<path d="M351.88,304.60C349.81,302.08 351.10,294.31 351.15,290.24C351.20,286.17 351.44,282.70 352.17,280.19C352.90,277.67 354.00,276.24 355.53,275.16C357.07,274.08 359.55,273.73 361.38,273.73C363.21,273.73 364.67,275.16 366.49,275.16C368.32,275.16 370.15,274.13 372.34,273.73C374.53,273.32 376.97,272.84 379.65,272.72C382.33,272.60 385.86,272.60 388.42,273.01C390.97,273.41 393.24,273.96 394.99,275.16C396.75,276.36 398.04,278.27 398.94,280.19C399.84,282.10 400.57,284.69 400.40,286.65C400.23,288.61 399.43,290.53 397.92,291.96C396.41,293.40 393.65,294.35 391.34,295.26C389.03,296.17 386.71,297.01 384.03,297.42C381.35,297.82 377.82,297.75 375.26,297.70C372.71,297.66 370.27,296.46 368.69,297.13C367.10,297.80 366.62,300.36 365.76,301.73C364.91,303.09 365.88,304.84 363.57,305.31C361.26,305.79 353.95,307.11 351.88,304.60Z" fill="none" stroke="rgb(148, 148, 148)" stroke-width="0.55"/>
<path d="M353.83,302.74C351.87,300.41 353.10,293.18 353.14,289.41C353.19,285.63 353.42,282.41 354.11,280.07C354.80,277.74 355.84,276.41 357.30,275.41C358.75,274.41 361.10,274.07 362.83,274.07C364.56,274.07 365.95,275.41 367.68,275.41C369.41,275.41 371.14,274.45 373.22,274.07C375.30,273.70 377.60,273.25 380.14,273.14C382.68,273.03 386.03,273.03 388.45,273.41C390.87,273.78 393.02,274.30 394.68,275.41C396.34,276.52 397.56,278.30 398.42,280.07C399.27,281.85 399.96,284.25 399.80,286.07C399.64,287.90 398.88,289.67 397.45,291.01C396.02,292.34 393.41,293.23 391.22,294.07C389.03,294.92 386.83,295.70 384.30,296.07C381.76,296.45 378.41,296.38 375.99,296.34C373.56,296.30 371.26,295.18 369.76,295.81C368.26,296.43 367.80,298.81 366.99,300.07C366.18,301.34 367.10,302.96 364.91,303.41C362.72,303.85 355.80,305.07 353.83,302.74Z" fill="none" stroke="rgb(136, 136, 136)" stroke-width="0.55"/>
<path d="M355.79,300.88C353.94,298.73 355.09,292.06 355.14,288.58C355.18,285.09 355.40,282.11 356.05,279.96C356.71,277.81 357.69,276.58 359.06,275.65C360.43,274.73 362.66,274.42 364.29,274.42C365.92,274.42 367.23,275.65 368.87,275.65C370.50,275.65 372.14,274.77 374.10,274.42C376.06,274.07 378.24,273.66 380.64,273.56C383.03,273.46 386.19,273.46 388.48,273.81C390.77,274.15 392.80,274.63 394.37,275.65C395.94,276.68 397.09,278.32 397.90,279.96C398.70,281.60 399.36,283.82 399.20,285.50C399.05,287.18 398.33,288.82 396.98,290.05C395.63,291.28 393.17,292.10 391.10,292.88C389.03,293.66 386.96,294.38 384.56,294.73C382.16,295.08 379.00,295.02 376.71,294.98C374.42,294.93 372.24,293.91 370.83,294.48C369.41,295.06 368.98,297.25 368.21,298.42C367.45,299.59 368.32,301.09 366.25,301.50C364.18,301.91 357.64,303.04 355.79,300.88Z" fill="none" stroke="rgb(130, 130, 130)" stroke-width="0.55"/>
<path d="M366.08,280.30C366.79,278.38 368.00,277.35 369.92,276.45C371.85,275.56 374.79,275.12 377.62,274.92C380.44,274.71 384.03,274.84 386.85,275.22C389.67,275.61 392.62,275.99 394.54,277.22C396.46,278.45 397.87,280.56 398.38,282.61C398.90,284.66 398.64,287.74 397.62,289.53C396.59,291.33 394.41,292.40 392.23,293.38C390.05,294.35 387.36,294.99 384.54,295.38C381.72,295.76 378.00,295.89 375.31,295.68C372.62,295.48 370.00,295.43 368.38,294.15C366.77,292.86 366.00,290.30 365.62,287.99C365.23,285.68 365.36,282.22 366.08,280.30Z" fill="none" stroke="rgb(130, 130, 130)" stroke-width="0.55"/>
<path d="M366.71,280.49C367.39,278.67 368.53,277.70 370.34,276.86C372.16,276.01 374.94,275.60 377.60,275.41C380.27,275.21 383.66,275.34 386.32,275.70C388.98,276.06 391.77,276.42 393.58,277.58C395.40,278.74 396.73,280.73 397.21,282.66C397.70,284.60 397.46,287.50 396.49,289.19C395.52,290.88 393.46,291.90 391.40,292.82C389.35,293.73 386.80,294.34 384.14,294.70C381.48,295.06 377.97,295.18 375.43,294.99C372.88,294.80 370.41,294.75 368.89,293.54C367.36,292.33 366.64,289.91 366.27,287.74C365.91,285.56 366.03,282.30 366.71,280.49Z" fill="none" stroke="rgb(120, 120, 120)" stroke-width="0.55"/>
<path d="M367.48,280.71C368.11,279.03 369.17,278.14 370.85,277.35C372.54,276.57 375.12,276.19 377.59,276.01C380.06,275.83 383.21,275.94 385.68,276.28C388.15,276.61 390.73,276.95 392.42,278.02C394.10,279.10 395.34,280.94 395.79,282.73C396.24,284.52 396.01,287.20 395.11,288.77C394.22,290.34 392.31,291.28 390.40,292.13C388.49,292.98 386.13,293.54 383.66,293.88C381.19,294.21 377.93,294.33 375.57,294.15C373.21,293.97 370.92,293.92 369.50,292.80C368.09,291.68 367.42,289.44 367.08,287.43C366.74,285.41 366.85,282.39 367.48,280.71Z" fill="none" stroke="rgb(111, 111, 111)" stroke-width="0.55"/>
<path d="M368.32,280.96C368.89,279.42 369.86,278.60 371.41,277.89C372.95,277.17 375.31,276.82 377.58,276.66C379.84,276.49 382.72,276.60 384.99,276.90C387.25,277.21 389.62,277.52 391.16,278.50C392.70,279.48 393.83,281.16 394.25,282.80C394.66,284.43 394.45,286.89 393.63,288.32C392.81,289.75 391.06,290.61 389.31,291.39C387.56,292.17 385.40,292.68 383.13,292.99C380.87,293.29 377.89,293.40 375.73,293.23C373.57,293.07 371.47,293.03 370.17,292.00C368.87,290.98 368.26,288.94 367.95,287.09C367.64,285.25 367.74,282.49 368.32,280.96Z" fill="none" stroke="rgb(104, 104, 104)" stroke-width="0.55"/>
<path d="M369.20,281.21C369.72,279.83 370.59,279.09 371.99,278.45C373.38,277.80 375.52,277.49 377.56,277.34C379.61,277.19 382.21,277.29 384.26,277.56C386.30,277.84 388.44,278.12 389.83,279.00C391.23,279.89 392.25,281.40 392.62,282.87C392.99,284.35 392.81,286.56 392.06,287.85C391.32,289.14 389.74,289.91 388.16,290.61C386.58,291.31 384.63,291.77 382.58,292.05C380.54,292.33 377.84,292.42 375.89,292.27C373.94,292.12 372.04,292.09 370.87,291.16C369.70,290.24 369.14,288.40 368.86,286.74C368.58,285.08 368.68,282.59 369.20,281.21Z" fill="none" stroke="rgb(102, 102, 102)" stroke-width="0.55"/>
<path d="M370.11,281.48C370.57,280.26 371.35,279.60 372.59,279.03C373.83,278.46 375.73,278.18 377.55,278.05C379.37,277.92 381.68,278.00 383.50,278.25C385.32,278.49 387.22,278.74 388.46,279.52C389.70,280.30 390.61,281.64 390.94,282.95C391.27,284.25 391.10,286.21 390.44,287.35C389.78,288.50 388.37,289.18 386.97,289.80C385.56,290.42 383.83,290.83 382.01,291.08C380.19,291.32 377.80,291.40 376.06,291.27C374.33,291.14 372.64,291.11 371.60,290.29C370.56,289.48 370.06,287.84 369.81,286.38C369.57,284.91 369.65,282.70 370.11,281.48Z" fill="none" stroke="rgb(100, 100, 100)" stroke-width="0.55"/>
<path d="M371.05,281.75C371.45,280.69 372.13,280.13 373.21,279.63C374.29,279.14 375.95,278.90 377.53,278.78C379.12,278.67 381.13,278.74 382.72,278.95C384.30,279.17 385.96,279.38 387.04,280.06C388.12,280.74 388.91,281.90 389.20,283.03C389.49,284.16 389.34,285.86 388.77,286.85C388.19,287.84 386.97,288.43 385.74,288.97C384.52,289.51 383.01,289.86 381.42,290.07C379.84,290.29 377.75,290.36 376.24,290.24C374.72,290.13 373.26,290.10 372.35,289.39C371.44,288.69 371.01,287.27 370.79,286.00C370.58,284.73 370.65,282.82 371.05,281.75Z" fill="none" stroke="rgb(105, 105, 105)" stroke-width="0.55"/>
<path d="M372.02,282.04C372.36,281.14 372.93,280.67 373.85,280.25C374.77,279.83 376.17,279.63 377.52,279.53C378.86,279.44 380.57,279.50 381.92,279.68C383.26,279.86 384.67,280.03 385.58,280.61C386.50,281.18 387.17,282.16 387.42,283.11C387.66,284.06 387.54,285.49 387.05,286.33C386.56,287.16 385.52,287.66 384.48,288.11C383.45,288.57 382.16,288.87 380.82,289.04C379.47,289.22 377.70,289.28 376.42,289.19C375.13,289.09 373.89,289.07 373.12,288.47C372.35,287.88 371.98,286.68 371.80,285.61C371.61,284.54 371.67,282.93 372.02,282.04Z" fill="none" stroke="rgb(116, 116, 116)" stroke-width="0.55"/>
<path d="M373.00,282.32C373.28,281.60 373.75,281.22 374.50,280.88C375.25,280.54 376.40,280.38 377.50,280.30C378.60,280.22 380.00,280.27 381.10,280.42C382.20,280.56 383.35,280.70 384.10,281.17C384.85,281.63 385.40,282.42 385.60,283.19C385.80,283.96 385.70,285.12 385.30,285.80C384.90,286.47 384.05,286.87 383.20,287.24C382.35,287.61 381.30,287.85 380.20,287.99C379.10,288.14 377.65,288.19 376.60,288.11C375.55,288.03 374.53,288.01 373.90,287.53C373.27,287.05 372.97,286.08 372.82,285.22C372.67,284.35 372.72,283.05 373.00,282.32Z" fill="none" stroke="rgb(127, 127, 127)" stroke-width="0.55"/>
<path d="M374.01,282.62C374.22,282.07 374.59,281.78 375.17,281.52C375.75,281.26 376.63,281.14 377.48,281.08C378.33,281.02 379.42,281.06 380.27,281.17C381.12,281.28 382.00,281.39 382.58,281.74C383.16,282.09 383.59,282.69 383.74,283.28C383.90,283.86 383.82,284.74 383.51,285.25C383.20,285.77 382.55,286.07 381.89,286.35C381.23,286.63 380.42,286.81 379.57,286.92C378.72,287.03 377.60,287.07 376.79,287.01C375.98,286.95 375.19,286.94 374.70,286.57C374.22,286.20 373.98,285.47 373.87,284.81C373.75,284.16 373.79,283.17 374.01,282.62Z" fill="none" stroke="rgb(149, 149, 149)" stroke-width="0.55"/>
<path d="M375.03,282.92C375.18,282.54 375.43,282.35 375.84,282.17C376.25,282.00 376.87,281.91 377.47,281.88C378.06,281.84 378.82,281.86 379.42,281.93C380.01,282.01 380.64,282.08 381.04,282.32C381.45,282.56 381.75,282.97 381.86,283.36C381.97,283.76 381.91,284.36 381.69,284.70C381.48,285.05 381.02,285.26 380.56,285.45C380.10,285.63 379.53,285.76 378.93,285.83C378.33,285.91 377.55,285.93 376.98,285.89C376.41,285.85 375.86,285.84 375.52,285.60C375.17,285.35 375.01,284.85 374.93,284.40C374.85,283.96 374.88,283.29 375.03,282.92Z" fill="none" stroke="rgb(174, 174, 174)" stroke-width="0.55"/>
<path d="M376.07,283.22C376.15,283.03 376.30,282.93 376.53,282.84C376.76,282.75 377.11,282.70 377.45,282.68C377.79,282.66 378.22,282.67 378.56,282.71C378.90,282.75 379.25,282.79 379.48,282.91C379.71,283.04 379.88,283.25 379.94,283.45C380.00,283.66 379.97,283.96 379.85,284.14C379.73,284.32 379.47,284.43 379.20,284.53C378.94,284.63 378.62,284.69 378.28,284.73C377.94,284.77 377.50,284.78 377.17,284.76C376.85,284.74 376.54,284.73 376.34,284.60C376.15,284.48 376.06,284.22 376.01,283.99C375.96,283.76 375.98,283.41 376.07,283.22Z" fill="none" stroke="rgb(200, 200, 200)" stroke-width="0.55"/>
<path d="M370.70,284.10 L385.70,282.60" stroke="#fff" stroke-width="1.3"/>
<path d="M349.92,298.76C349.62,295.68 349.41,289.79 349.62,286.45C349.82,283.12 350.21,280.68 351.15,278.76C352.10,276.84 353.72,275.63 355.31,274.92C356.90,274.20 359.15,274.07 360.69,274.45C362.23,274.84 363.72,275.22 364.54,277.22C365.36,279.22 365.54,283.12 365.62,286.45C365.69,289.79 365.44,294.02 365.00,297.22C364.56,300.43 364.49,304.15 363.00,305.68C361.51,307.22 358.00,306.58 356.08,306.45C354.15,306.33 352.49,306.20 351.46,304.92C350.44,303.63 350.23,301.84 349.92,298.76Z" fill="none" stroke="rgb(110, 110, 110)" stroke-width="0.55"/>
<path d="M350.57,298.06C350.29,295.16 350.09,289.60 350.29,286.46C350.48,283.31 350.84,281.02 351.73,279.20C352.62,277.39 354.13,276.25 355.62,275.58C357.11,274.90 359.22,274.78 360.67,275.14C362.11,275.50 363.50,275.87 364.27,277.75C365.04,279.64 365.21,283.31 365.28,286.46C365.35,289.60 365.11,293.59 364.70,296.61C364.29,299.63 364.22,303.13 362.83,304.58C361.43,306.03 358.14,305.43 356.34,305.31C354.54,305.19 352.98,305.07 352.02,303.86C351.06,302.65 350.86,300.96 350.57,298.06Z" fill="none" stroke="rgb(92, 92, 92)" stroke-width="0.55"/>
<path d="M351.42,297.14C351.16,294.47 350.98,289.35 351.16,286.46C351.33,283.56 351.66,281.45 352.47,279.78C353.28,278.11 354.67,277.06 356.03,276.44C357.39,275.81 359.32,275.70 360.63,276.04C361.95,276.37 363.22,276.70 363.92,278.44C364.62,280.18 364.78,283.56 364.84,286.46C364.91,289.35 364.69,293.03 364.32,295.81C363.94,298.59 363.88,301.82 362.60,303.16C361.33,304.49 358.33,303.94 356.68,303.82C355.04,303.71 353.61,303.60 352.74,302.49C351.86,301.38 351.68,299.82 351.42,297.14Z" fill="none" stroke="rgb(74, 74, 74)" stroke-width="0.55"/>
<path d="M352.36,296.13C352.12,293.71 351.97,289.08 352.12,286.46C352.28,283.84 352.57,281.92 353.30,280.41C354.03,278.90 355.26,277.95 356.48,277.39C357.69,276.83 359.42,276.72 360.59,277.03C361.77,277.33 362.91,277.63 363.53,279.20C364.16,280.78 364.30,283.84 364.36,286.46C364.42,289.08 364.22,292.40 363.89,294.92C363.55,297.44 363.49,300.36 362.36,301.57C361.22,302.78 358.53,302.28 357.06,302.18C355.59,302.08 354.32,301.98 353.54,300.97C352.75,299.96 352.59,298.55 352.36,296.13Z" fill="none" stroke="rgb(73, 73, 73)" stroke-width="0.55"/>
<path d="M353.36,295.05C353.16,292.90 353.02,288.79 353.16,286.46C353.29,284.13 353.55,282.44 354.18,281.09C354.82,279.75 355.90,278.91 356.96,278.41C358.02,277.91 359.52,277.82 360.55,278.09C361.58,278.36 362.57,278.62 363.12,280.02C363.67,281.42 363.79,284.13 363.84,286.46C363.89,288.79 363.72,291.74 363.43,293.97C363.14,296.21 363.08,298.80 362.09,299.88C361.10,300.95 358.75,300.50 357.47,300.41C356.19,300.32 355.07,300.23 354.39,299.34C353.71,298.45 353.57,297.19 353.36,295.05Z" fill="none" stroke="rgb(77, 77, 77)" stroke-width="0.55"/>
<path d="M354.42,293.91C354.25,292.05 354.13,288.48 354.25,286.46C354.36,284.45 354.58,282.97 355.12,281.81C355.65,280.65 356.57,279.92 357.46,279.48C358.36,279.05 359.64,278.97 360.51,279.20C361.38,279.44 362.22,279.67 362.68,280.88C363.15,282.09 363.25,284.45 363.29,286.46C363.33,288.48 363.19,291.04 362.94,292.98C362.70,294.91 362.65,297.16 361.81,298.09C360.97,299.02 358.99,298.64 357.90,298.56C356.81,298.48 355.87,298.40 355.29,297.63C354.71,296.85 354.59,295.77 354.42,293.91Z" fill="none" stroke="rgb(88, 88, 88)" stroke-width="0.55"/>
<path d="M355.52,292.72C355.38,291.16 355.28,288.16 355.38,286.46C355.47,284.77 355.65,283.53 356.08,282.55C356.52,281.58 357.26,280.97 357.99,280.60C358.72,280.24 359.76,280.17 360.46,280.37C361.17,280.56 361.85,280.76 362.23,281.77C362.61,282.79 362.69,284.77 362.72,286.46C362.76,288.16 362.64,290.31 362.44,291.94C362.24,293.57 362.20,295.46 361.52,296.24C360.84,297.02 359.23,296.69 358.34,296.63C357.46,296.56 356.70,296.50 356.23,295.85C355.75,295.20 355.66,294.28 355.52,292.72Z" fill="none" stroke="rgb(106, 106, 106)" stroke-width="0.55"/>
<path d="M356.66,291.49C356.55,290.24 356.48,287.83 356.55,286.47C356.62,285.11 356.76,284.11 357.09,283.33C357.42,282.54 357.98,282.05 358.54,281.76C359.09,281.46 359.88,281.41 360.42,281.57C360.95,281.72 361.47,281.88 361.76,282.70C362.05,283.51 362.11,285.11 362.13,286.47C362.16,287.83 362.07,289.55 361.92,290.86C361.77,292.17 361.74,293.69 361.22,294.32C360.70,294.95 359.48,294.68 358.80,294.63C358.13,294.58 357.55,294.53 357.19,294.00C356.84,293.48 356.76,292.75 356.66,291.49Z" fill="none" stroke="rgb(128, 128, 128)" stroke-width="0.55"/>
<path d="M357.83,290.23C357.75,289.29 357.71,287.49 357.75,286.47C357.80,285.45 357.89,284.71 358.12,284.12C358.34,283.53 358.72,283.16 359.10,282.94C359.47,282.72 360.01,282.69 360.37,282.80C360.73,282.92 361.08,283.04 361.28,283.65C361.47,284.26 361.51,285.45 361.53,286.47C361.55,287.49 361.49,288.78 361.38,289.76C361.28,290.74 361.26,291.87 360.91,292.34C360.56,292.81 359.73,292.62 359.28,292.58C358.83,292.54 358.43,292.50 358.19,292.11C357.95,291.72 357.90,291.17 357.83,290.23Z" fill="none" stroke="rgb(164, 164, 164)" stroke-width="0.55"/>
<path d="M359.03,288.93C358.99,288.32 358.97,287.14 358.99,286.47C359.01,285.80 359.06,285.32 359.17,284.93C359.29,284.55 359.48,284.31 359.67,284.16C359.86,284.02 360.13,283.99 360.32,284.07C360.50,284.15 360.68,284.22 360.78,284.62C360.88,285.02 360.90,285.80 360.91,286.47C360.92,287.14 360.89,287.98 360.84,288.62C360.78,289.27 360.77,290.01 360.60,290.32C360.42,290.62 360.00,290.50 359.77,290.47C359.53,290.45 359.33,290.42 359.21,290.16C359.09,289.91 359.06,289.55 359.03,288.93Z" fill="none" stroke="rgb(200, 200, 200)" stroke-width="0.55"/>
<ellipse cx="360.30" cy="287.10" rx="1.3" ry="2.5" fill="#fff"/>
<path d="M345.31,319.53C345.36,317.61 345.82,315.09 346.85,313.38C347.87,311.66 349.54,310.12 351.46,309.22C353.38,308.33 356.08,308.15 358.38,307.99C360.69,307.84 363.26,307.79 365.31,308.30C367.36,308.81 369.36,309.84 370.69,311.07C372.03,312.30 373.18,314.02 373.31,315.68C373.44,317.35 372.67,319.53 371.46,321.07C370.26,322.61 368.26,323.84 366.08,324.92C363.90,325.99 360.95,327.02 358.38,327.53C355.82,328.04 352.67,328.43 350.69,327.99C348.72,327.56 347.44,326.33 346.54,324.92C345.64,323.51 345.26,321.45 345.31,319.53Z" fill="none" stroke="rgb(160, 160, 160)" stroke-width="0.55"/>
<path d="M345.87,319.60C345.92,317.81 346.35,315.46 347.30,313.86C348.26,312.26 349.82,310.82 351.61,309.98C353.41,309.14 355.92,308.98 358.07,308.83C360.23,308.69 362.62,308.64 364.53,309.12C366.45,309.60 368.32,310.56 369.56,311.70C370.80,312.85 371.88,314.46 372.00,316.01C372.12,317.57 371.40,319.60 370.28,321.04C369.15,322.47 367.29,323.62 365.25,324.63C363.22,325.63 360.47,326.59 358.07,327.07C355.68,327.55 352.74,327.91 350.89,327.50C349.05,327.09 347.85,325.94 347.02,324.63C346.18,323.31 345.82,321.40 345.87,319.60Z" fill="none" stroke="rgb(140, 140, 140)" stroke-width="0.55"/>
<path d="M346.43,319.67C346.47,318.01 346.87,315.83 347.76,314.34C348.65,312.85 350.09,311.52 351.76,310.74C353.43,309.96 355.76,309.81 357.76,309.67C359.76,309.54 361.98,309.50 363.76,309.94C365.54,310.38 367.27,311.27 368.43,312.34C369.58,313.41 370.58,314.90 370.69,316.34C370.80,317.78 370.14,319.67 369.09,321.01C368.05,322.34 366.32,323.41 364.43,324.34C362.54,325.27 359.98,326.16 357.76,326.61C355.54,327.05 352.80,327.38 351.09,327.01C349.38,326.63 348.27,325.56 347.49,324.34C346.72,323.12 346.38,321.34 346.43,319.67Z" fill="none" stroke="rgb(123, 123, 123)" stroke-width="0.55"/>
<path d="M346.99,319.74C347.03,318.21 347.40,316.20 348.22,314.82C349.04,313.45 350.37,312.22 351.91,311.50C353.45,310.78 355.60,310.64 357.45,310.51C359.29,310.39 361.35,310.35 362.99,310.76C364.63,311.17 366.23,311.99 367.29,312.98C368.36,313.96 369.28,315.33 369.39,316.67C369.49,318.00 368.87,319.74 367.91,320.98C366.95,322.21 365.35,323.19 363.60,324.05C361.86,324.91 359.50,325.73 357.45,326.14C355.40,326.55 352.87,326.86 351.29,326.51C349.71,326.17 348.69,325.18 347.97,324.05C347.25,322.92 346.95,321.28 346.99,319.74Z" fill="none" stroke="rgb(110, 110, 110)" stroke-width="0.55"/>
<path d="M348.92,319.27C348.95,317.89 349.29,316.08 350.03,314.84C350.76,313.60 351.96,312.49 353.35,311.85C354.73,311.20 356.67,311.07 358.33,310.96C359.99,310.85 361.84,310.81 363.32,311.18C364.79,311.55 366.23,312.29 367.19,313.18C368.15,314.06 368.99,315.30 369.08,316.50C369.17,317.70 368.62,319.27 367.75,320.38C366.88,321.49 365.44,322.37 363.87,323.15C362.30,323.92 360.18,324.66 358.33,325.03C356.49,325.40 354.22,325.68 352.79,325.36C351.37,325.05 350.45,324.16 349.80,323.15C349.16,322.13 348.88,320.65 348.92,319.27Z" fill="none" stroke="rgb(30, 30, 30)" stroke-width="1.1"/>
<path d="M350.21,319.18C350.24,317.98 350.52,316.43 351.16,315.36C351.80,314.30 352.83,313.34 354.02,312.79C355.21,312.23 356.88,312.12 358.31,312.02C359.75,311.93 361.33,311.90 362.61,312.21C363.88,312.53 365.12,313.17 365.95,313.93C366.77,314.69 367.49,315.76 367.57,316.79C367.65,317.83 367.17,319.18 366.42,320.13C365.67,321.08 364.43,321.85 363.08,322.52C361.73,323.18 359.90,323.82 358.31,324.14C356.72,324.46 354.77,324.69 353.55,324.42C352.32,324.15 351.53,323.39 350.97,322.52C350.41,321.64 350.17,320.37 350.21,319.18Z" fill="none" stroke="rgb(60, 60, 60)" stroke-width="0.8"/>
<path d="M351.75,319.07C351.78,318.10 352.01,316.85 352.52,315.99C353.04,315.13 353.87,314.36 354.83,313.91C355.79,313.46 357.14,313.37 358.29,313.30C359.45,313.22 360.73,313.19 361.75,313.45C362.78,313.71 363.78,314.22 364.45,314.83C365.11,315.45 365.69,316.31 365.75,317.14C365.82,317.98 365.43,319.07 364.83,319.83C364.23,320.60 363.23,321.22 362.14,321.76C361.05,322.30 359.57,322.81 358.29,323.07C357.01,323.32 355.43,323.51 354.45,323.30C353.46,323.08 352.82,322.46 352.37,321.76C351.92,321.05 351.73,320.03 351.75,319.07Z" fill="none" stroke="rgb(100, 100, 100)" stroke-width="0.6"/>
<path d="M353.30,318.95C353.32,318.22 353.50,317.27 353.89,316.62C354.28,315.96 354.91,315.38 355.64,315.04C356.37,314.70 357.39,314.63 358.27,314.57C359.15,314.51 360.12,314.49 360.90,314.69C361.68,314.88 362.44,315.27 362.95,315.74C363.45,316.21 363.89,316.86 363.94,317.49C363.99,318.13 363.70,318.95 363.24,319.54C362.78,320.12 362.02,320.59 361.19,321.00C360.37,321.41 359.24,321.80 358.27,321.99C357.30,322.19 356.10,322.33 355.35,322.17C354.60,322.00 354.11,321.54 353.77,321.00C353.43,320.46 353.28,319.68 353.30,318.95Z" fill="none" stroke="rgb(140, 140, 140)" stroke-width="0.55"/>
<ellipse cx="357.70" cy="318.90" rx="2.4" ry="1.6" fill="#fff"/>
</g>
<rect x="333.70" y="260.60" width="78.60" height="78.00" fill="none" stroke="#8a8a8a" stroke-width="1.2"/>
<line x1="364.40" y1="260.60" x2="364.40" y2="338.60" stroke="#333" stroke-width="1.3" />
<line x1="333.70" y1="307.50" x2="412.30" y2="307.50" stroke="#333" stroke-width="1.3" />
<text x="373.00" y="255.70" font-size="12" text-anchor="middle" font-weight="normal" fill="#111" textLength="63.1" lengthAdjust="spacingAndGlyphs" >+IL-2+IL-1β</text>
<text x="335.48" y="270.90" font-size="8.4" text-anchor="start" font-weight="normal" fill="#111" >20.7</text>
<text x="409.22" y="270.90" font-size="8.4" text-anchor="end" font-weight="normal" fill="#111" >38.2</text>
<text x="334.98" y="333.70" font-size="8.4" text-anchor="start" font-weight="normal" fill="#111" >25.9</text>
<text x="408.42" y="333.70" font-size="8.4" text-anchor="end" font-weight="normal" fill="#111" >15.2</text>
<g>
<path d="M450.00,307.99C444.77,306.15 450.03,299.92 450.15,297.22C450.28,294.53 450.03,293.51 450.77,291.84C451.51,290.17 453.08,288.25 454.62,287.22C456.15,286.20 458.33,285.68 460.00,285.68C461.67,285.68 463.59,286.45 464.62,287.22C465.64,287.99 466.15,288.89 466.15,290.30C466.15,291.71 464.62,293.76 464.62,295.68C464.62,297.61 465.00,300.30 466.15,301.84C467.31,303.38 469.36,304.27 471.54,304.92C473.72,305.56 477.56,305.12 479.23,305.68C480.90,306.25 486.41,307.92 481.54,308.30C476.67,308.68 455.23,309.84 450.00,307.99Z" fill="none" stroke="rgb(165, 165, 165)" stroke-width="0.55"/>
<path d="M453.08,307.99C450.51,306.15 452.82,299.92 453.08,297.22C453.33,294.53 453.72,293.12 454.62,291.84C455.51,290.56 457.31,289.79 458.46,289.53C459.62,289.27 460.90,289.66 461.54,290.30C462.18,290.94 462.44,292.09 462.31,293.38C462.18,294.66 460.90,296.33 460.77,297.99C460.64,299.66 460.77,301.97 461.54,303.38C462.31,304.79 464.23,305.63 465.38,306.45C466.54,307.27 470.51,308.04 468.46,308.30C466.41,308.56 455.64,309.84 453.08,307.99Z" fill="none" stroke="rgb(170, 170, 170)" stroke-width="0.55"/>
<ellipse cx="478.90" cy="288.50" rx="3.0" ry="2.7" transform="rotate(0 478.90 288.50)" fill="none" stroke="rgb(140, 140, 140)" stroke-width="0.7"/>
<ellipse cx="456.20" cy="297.20" rx="1.3" ry="2.5" transform="rotate(0 456.20 297.20)" fill="none" stroke="rgb(150, 150, 150)" stroke-width="0.6"/>
<ellipse cx="458.50" cy="305.60" rx="1.2" ry="1.0" transform="rotate(0 458.50 305.60)" fill="none" stroke="rgb(150, 150, 150)" stroke-width="0.6"/>
<path d="M440.10,318.60C440.10,316.77 440.68,314.17 441.60,312.60C442.52,311.03 443.43,309.93 445.60,309.20C447.77,308.47 451.27,308.38 454.60,308.20C457.93,308.02 461.93,308.07 465.60,308.10C469.27,308.13 473.27,308.18 476.60,308.40C479.93,308.62 483.10,308.87 485.60,309.40C488.10,309.93 490.10,310.57 491.60,311.60C493.10,312.63 494.27,314.18 494.60,315.60C494.93,317.02 494.60,318.85 493.60,320.10C492.60,321.35 491.10,322.27 488.60,323.10C486.10,323.93 482.27,324.52 478.60,325.10C474.93,325.68 470.43,326.15 466.60,326.60C462.77,327.05 459.10,327.72 455.60,327.80C452.10,327.88 447.93,327.80 445.60,327.10C443.27,326.40 442.52,325.02 441.60,323.60C440.68,322.18 440.10,320.43 440.10,318.60Z" fill="none" stroke="rgb(130, 130, 130)" stroke-width="0.55"/>
<path d="M440.70,318.61C440.70,316.87 441.27,314.41 442.16,312.92C443.05,311.43 443.94,310.39 446.05,309.69C448.16,308.99 451.56,308.91 454.80,308.74C458.04,308.57 461.92,308.61 465.49,308.65C469.05,308.68 472.94,308.72 476.18,308.93C479.42,309.14 482.50,309.37 484.93,309.88C487.35,310.39 489.30,310.99 490.76,311.97C492.21,312.95 493.35,314.42 493.67,315.77C494.00,317.11 493.67,318.85 492.70,320.04C491.73,321.22 490.27,322.10 487.84,322.89C485.41,323.68 481.69,324.23 478.12,324.79C474.56,325.34 470.18,325.78 466.46,326.21C462.73,326.64 459.17,327.27 455.77,327.35C452.37,327.43 448.32,327.35 446.05,326.68C443.78,326.02 443.05,324.71 442.16,323.36C441.27,322.02 440.70,320.35 440.70,318.61Z" fill="none" stroke="rgb(110, 110, 110)" stroke-width="0.55"/>
<path d="M441.54,318.63C441.54,317.02 442.08,314.73 442.94,313.36C443.79,311.98 444.65,311.01 446.67,310.36C448.69,309.72 451.96,309.65 455.07,309.49C458.18,309.32 461.91,309.37 465.33,309.40C468.75,309.43 472.49,309.47 475.60,309.66C478.71,309.85 481.66,310.07 484.00,310.54C486.33,311.01 488.19,311.57 489.59,312.48C490.99,313.38 492.08,314.75 492.39,315.99C492.70,317.24 492.39,318.85 491.46,319.95C490.53,321.05 489.13,321.86 486.79,322.59C484.46,323.32 480.88,323.84 477.46,324.35C474.04,324.86 469.84,325.27 466.27,325.67C462.69,326.07 459.27,326.65 456.00,326.73C452.74,326.80 448.85,326.73 446.67,326.11C444.49,325.49 443.79,324.28 442.94,323.03C442.08,321.79 441.54,320.25 441.54,318.63Z" fill="none" stroke="rgb(90, 90, 90)" stroke-width="0.55"/>
<path d="M442.49,318.66C442.49,317.19 443.01,315.11 443.82,313.85C444.64,312.60 445.45,311.72 447.38,311.13C449.30,310.55 452.41,310.48 455.38,310.33C458.34,310.19 461.90,310.23 465.16,310.25C468.42,310.28 471.97,310.32 474.93,310.49C477.90,310.67 480.71,310.87 482.94,311.29C485.16,311.72 486.94,312.23 488.27,313.05C489.60,313.88 490.64,315.12 490.94,316.25C491.23,317.39 490.94,318.86 490.05,319.86C489.16,320.86 487.83,321.59 485.60,322.26C483.38,322.92 479.97,323.39 476.71,323.86C473.45,324.32 469.45,324.70 466.04,325.06C462.64,325.42 459.38,325.95 456.27,326.02C453.15,326.08 449.45,326.02 447.38,325.46C445.30,324.90 444.64,323.79 443.82,322.66C443.01,321.52 442.49,320.12 442.49,318.66Z" fill="none" stroke="rgb(82, 82, 82)" stroke-width="0.55"/>
<path d="M443.52,318.68C443.52,317.37 444.01,315.52 444.78,314.40C445.55,313.28 446.32,312.49 448.14,311.97C449.97,311.45 452.91,311.39 455.71,311.26C458.52,311.13 461.88,311.16 464.96,311.19C468.05,311.21 471.41,311.25 474.21,311.40C477.02,311.55 479.68,311.73 481.78,312.11C483.89,312.49 485.57,312.95 486.83,313.68C488.09,314.42 489.07,315.53 489.35,316.54C489.63,317.55 489.35,318.86 488.51,319.75C487.67,320.64 486.41,321.30 484.31,321.89C482.20,322.49 478.98,322.90 475.90,323.32C472.81,323.73 469.03,324.07 465.80,324.39C462.58,324.71 459.50,325.19 456.55,325.25C453.61,325.31 450.11,325.25 448.14,324.75C446.18,324.25 445.55,323.26 444.78,322.25C444.01,321.24 443.52,319.99 443.52,318.68Z" fill="none" stroke="rgb(86, 86, 86)" stroke-width="0.55"/>
<path d="M444.62,318.71C444.62,317.57 445.08,315.95 445.80,314.98C446.53,314.00 447.25,313.32 448.96,312.86C450.67,312.41 453.44,312.35 456.07,312.24C458.70,312.13 461.86,312.16 464.76,312.18C467.65,312.20 470.81,312.23 473.45,312.36C476.08,312.50 478.58,312.65 480.55,312.99C482.53,313.32 484.11,313.71 485.29,314.35C486.48,315.00 487.40,315.96 487.66,316.84C487.93,317.72 487.66,318.86 486.87,319.64C486.08,320.41 484.90,320.98 482.92,321.50C480.95,322.02 477.92,322.38 475.03,322.75C472.13,323.11 468.58,323.40 465.55,323.68C462.52,323.96 459.63,324.37 456.86,324.42C454.10,324.48 450.81,324.42 448.96,323.99C447.12,323.55 446.53,322.69 445.80,321.81C445.08,320.93 444.62,319.84 444.62,318.71Z" fill="none" stroke="rgb(90, 90, 90)" stroke-width="0.55"/>
<path d="M445.78,318.73C445.78,317.77 446.21,316.41 446.88,315.58C447.56,314.76 448.23,314.18 449.82,313.80C451.42,313.41 454.00,313.37 456.45,313.27C458.90,313.18 461.85,313.20 464.54,313.22C467.24,313.24 470.19,313.27 472.64,313.38C475.09,313.49 477.42,313.62 479.26,313.90C481.10,314.18 482.58,314.52 483.68,315.06C484.78,315.60 485.64,316.41 485.89,317.16C486.13,317.90 485.89,318.86 485.15,319.52C484.41,320.18 483.31,320.66 481.47,321.09C479.63,321.53 476.81,321.84 474.11,322.14C471.41,322.45 468.10,322.69 465.28,322.93C462.46,323.17 459.76,323.52 457.18,323.56C454.61,323.60 451.54,323.56 449.82,323.19C448.11,322.82 447.56,322.10 446.88,321.36C446.21,320.61 445.78,319.69 445.78,318.73Z" fill="none" stroke="rgb(106, 106, 106)" stroke-width="0.55"/>
<path d="M446.98,318.76C446.98,317.98 447.38,316.88 448.00,316.22C448.63,315.55 449.25,315.09 450.72,314.78C452.20,314.47 454.57,314.43 456.84,314.35C459.11,314.28 461.83,314.30 464.32,314.31C466.81,314.32 469.53,314.35 471.80,314.44C474.06,314.53 476.22,314.64 477.92,314.86C479.62,315.09 480.98,315.36 482.00,315.79C483.02,316.23 483.81,316.89 484.04,317.49C484.26,318.09 484.04,318.87 483.36,319.40C482.68,319.93 481.66,320.31 479.96,320.67C478.26,321.02 475.65,321.27 473.16,321.51C470.66,321.76 467.61,321.96 465.00,322.15C462.39,322.34 459.90,322.62 457.52,322.66C455.14,322.69 452.31,322.66 450.72,322.36C449.14,322.07 448.63,321.48 448.00,320.88C447.38,320.28 446.98,319.54 446.98,318.76Z" fill="none" stroke="rgb(122, 122, 122)" stroke-width="0.55"/>
<path d="M448.23,318.79C448.23,318.20 448.60,317.37 449.17,316.87C449.74,316.37 450.31,316.02 451.65,315.79C453.00,315.56 455.18,315.53 457.25,315.47C459.32,315.41 461.81,315.43 464.09,315.44C466.37,315.45 468.85,315.47 470.93,315.53C473.00,315.60 474.97,315.68 476.52,315.85C478.08,316.02 479.32,316.23 480.25,316.56C481.18,316.89 481.91,317.38 482.12,317.83C482.32,318.28 482.12,318.87 481.49,319.27C480.87,319.67 479.94,319.96 478.39,320.22C476.83,320.49 474.45,320.68 472.17,320.86C469.89,321.05 467.09,321.20 464.71,321.34C462.33,321.49 460.05,321.70 457.87,321.72C455.69,321.75 453.10,321.72 451.65,321.50C450.20,321.28 449.74,320.84 449.17,320.38C448.60,319.93 448.23,319.37 448.23,318.79Z" fill="none" stroke="rgb(144, 144, 144)" stroke-width="0.55"/>
<path d="M449.52,318.82C449.52,318.43 449.85,317.88 450.37,317.55C450.88,317.22 451.40,316.99 452.61,316.84C453.83,316.68 455.80,316.66 457.67,316.62C459.54,316.59 461.79,316.60 463.85,316.60C465.91,316.61 468.15,316.62 470.03,316.67C471.90,316.71 473.68,316.76 475.08,316.88C476.49,316.99 477.61,317.12 478.45,317.34C479.29,317.56 479.95,317.89 480.14,318.19C480.32,318.48 480.14,318.87 479.57,319.14C479.01,319.40 478.17,319.59 476.77,319.77C475.36,319.94 473.21,320.07 471.15,320.19C469.09,320.31 466.56,320.41 464.41,320.51C462.26,320.60 460.20,320.74 458.23,320.76C456.26,320.78 453.92,320.76 452.61,320.61C451.30,320.47 450.88,320.17 450.37,319.87C449.85,319.58 449.52,319.21 449.52,318.82Z" fill="none" stroke="rgb(172, 172, 172)" stroke-width="0.55"/>
<path d="M450.85,318.85C450.85,318.67 451.14,318.41 451.60,318.25C452.06,318.09 452.52,317.98 453.60,317.91C454.68,317.84 456.43,317.83 458.10,317.81C459.77,317.79 461.77,317.80 463.60,317.80C465.43,317.80 467.43,317.81 469.10,317.83C470.77,317.85 472.35,317.88 473.60,317.93C474.85,317.98 475.85,318.05 476.60,318.15C477.35,318.25 477.93,318.41 478.10,318.55C478.27,318.69 478.10,318.88 477.60,319.00C477.10,319.12 476.35,319.22 475.10,319.30C473.85,319.38 471.93,319.44 470.10,319.50C468.27,319.56 466.02,319.61 464.10,319.65C462.18,319.70 460.35,319.76 458.60,319.77C456.85,319.78 454.77,319.77 453.60,319.70C452.43,319.63 452.06,319.49 451.60,319.35C451.14,319.21 450.85,319.03 450.85,318.85Z" fill="none" stroke="rgb(200, 200, 200)" stroke-width="0.55"/>
<path d="M459.60,318.80C459.60,319.80 459.19,320.93 458.53,321.80C457.86,322.67 456.75,323.50 455.60,324.00C454.45,324.50 452.93,324.80 451.60,324.80C450.27,324.80 448.75,324.50 447.60,324.00C446.45,323.50 445.34,322.67 444.67,321.80C444.01,320.93 443.60,319.80 443.60,318.80C443.60,317.80 444.01,316.67 444.67,315.80C445.34,314.93 446.45,314.10 447.60,313.60C448.75,313.10 450.27,312.80 451.60,312.80C452.93,312.80 454.45,313.10 455.60,313.60C456.75,314.10 457.86,314.93 458.53,315.80C459.19,316.67 459.60,317.80 459.60,318.80Z" fill="none" stroke="rgb(80, 80, 80)" stroke-width="0.6"/>
<path d="M458.00,318.80C458.00,319.60 457.68,320.51 457.14,321.20C456.61,321.89 455.72,322.56 454.80,322.96C453.88,323.36 452.67,323.60 451.60,323.60C450.53,323.60 449.32,323.36 448.40,322.96C447.48,322.56 446.59,321.89 446.06,321.20C445.52,320.51 445.20,319.60 445.20,318.80C445.20,318.00 445.52,317.09 446.06,316.40C446.59,315.71 447.48,315.04 448.40,314.64C449.32,314.24 450.53,314.00 451.60,314.00C452.67,314.00 453.88,314.24 454.80,314.64C455.72,315.04 456.61,315.71 457.14,316.40C457.68,317.09 458.00,318.00 458.00,318.80Z" fill="none" stroke="rgb(65, 65, 65)" stroke-width="0.6"/>
<path d="M456.40,318.80C456.40,319.40 456.16,320.08 455.76,320.60C455.36,321.12 454.69,321.62 454.00,321.92C453.31,322.22 452.40,322.40 451.60,322.40C450.80,322.40 449.89,322.22 449.20,321.92C448.51,321.62 447.84,321.12 447.44,320.60C447.04,320.08 446.80,319.40 446.80,318.80C446.80,318.20 447.04,317.52 447.44,317.00C447.84,316.48 448.51,315.98 449.20,315.68C449.89,315.38 450.80,315.20 451.60,315.20C452.40,315.20 453.31,315.38 454.00,315.68C454.69,315.98 455.36,316.48 455.76,317.00C456.16,317.52 456.40,318.20 456.40,318.80Z" fill="none" stroke="rgb(80, 80, 80)" stroke-width="0.6"/>
<path d="M454.80,318.80C454.80,319.20 454.64,319.65 454.37,320.00C454.10,320.35 453.66,320.68 453.20,320.88C452.74,321.08 452.13,321.20 451.60,321.20C451.07,321.20 450.46,321.08 450.00,320.88C449.54,320.68 449.10,320.35 448.83,320.00C448.56,319.65 448.40,319.20 448.40,318.80C448.40,318.40 448.56,317.95 448.83,317.60C449.10,317.25 449.54,316.92 450.00,316.72C450.46,316.52 451.07,316.40 451.60,316.40C452.13,316.40 452.74,316.52 453.20,316.72C453.66,316.92 454.10,317.25 454.37,317.60C454.64,317.95 454.80,318.40 454.80,318.80Z" fill="none" stroke="rgb(112, 112, 112)" stroke-width="0.6"/>
<path d="M453.20,318.80C453.20,319.00 453.12,319.23 452.99,319.40C452.85,319.57 452.63,319.74 452.40,319.84C452.17,319.94 451.87,320.00 451.60,320.00C451.33,320.00 451.03,319.94 450.80,319.84C450.57,319.74 450.35,319.57 450.21,319.40C450.08,319.23 450.00,319.00 450.00,318.80C450.00,318.60 450.08,318.37 450.21,318.20C450.35,318.03 450.57,317.86 450.80,317.76C451.03,317.66 451.33,317.60 451.60,317.60C451.87,317.60 452.17,317.66 452.40,317.76C452.63,317.86 452.85,318.03 452.99,318.20C453.12,318.37 453.20,318.60 453.20,318.80Z" fill="none" stroke="rgb(150, 150, 150)" stroke-width="0.6"/>
<ellipse cx="452.10" cy="318.90" rx="2.2" ry="1.1" fill="#fff"/>
</g>
<rect x="430.60" y="260.60" width="78.60" height="78.00" fill="none" stroke="#8a8a8a" stroke-width="1.2"/>
<line x1="461.40" y1="260.60" x2="461.40" y2="338.60" stroke="#333" stroke-width="1.3" />
<line x1="430.60" y1="307.50" x2="509.20" y2="307.50" stroke="#333" stroke-width="1.3" />
<text x="469.90" y="255.70" font-size="12" text-anchor="middle" font-weight="normal" fill="#111" textLength="53.1" lengthAdjust="spacingAndGlyphs" >+IL-2+RA</text>
<text x="432.06" y="270.90" font-size="8.4" text-anchor="start" font-weight="normal" fill="#111" >5.68</text>
<text x="504.62" y="270.90" font-size="8.4" text-anchor="end" font-weight="normal" fill="#111" >7.72</text>
<text x="432.06" y="333.70" font-size="8.4" text-anchor="start" font-weight="normal" fill="#111" >53.6</text>
<text x="505.23" y="333.70" font-size="8.4" text-anchor="end" font-weight="normal" fill="#111" >33.0</text>
<line x1="23.30" y1="90.20" x2="23.30" y2="116.20" stroke="#111" stroke-width="1.3" />
<path d="M23.3,86.2 L27.0,94.4 L23.3,92.5 L19.6,94.4 Z" fill="#111"/>
<text transform="translate(28.3,154.2) rotate(-90)" x="0" y="0" font-size="14.8" fill="#111" style="stroke:#111;stroke-width:0.4px" textLength="24.6" lengthAdjust="spacingAndGlyphs">CD39</text>
<text x="43.3" y="182.9" font-size="14.8" fill="#111" style="stroke:#111;stroke-width:0.4px" textLength="24.3" lengthAdjust="spacingAndGlyphs">CD73</text>
<line x1="83.10" y1="178.40" x2="493.20" y2="178.40" stroke="#111" stroke-width="1.3" />
<path d="M497.2,178.4 L489.0,174.9 L490.9,178.4 L489.0,181.9 Z" fill="#111"/>
<line x1="23.30" y1="263.80" x2="23.30" y2="295.20" stroke="#111" stroke-width="1.3" />
<path d="M23.3,259.8 L27.0,268.0 L23.3,266.1 L19.6,268.0 Z" fill="#111"/>
<text transform="translate(28.3,332.6) rotate(-90)" x="0" y="0" font-size="14.8" fill="#111" style="stroke:#111;stroke-width:0.4px" textLength="24.6" lengthAdjust="spacingAndGlyphs">CD39</text>
<text x="41.6" y="357.5" font-size="14.8" fill="#111" style="stroke:#111;stroke-width:0.4px" textLength="24.3" lengthAdjust="spacingAndGlyphs">CD73</text>
<line x1="83.20" y1="352.60" x2="493.20" y2="352.60" stroke="#111" stroke-width="1.3" />
<path d="M497.2,352.6 L489.0,349.1 L490.9,352.6 L489.0,356.1 Z" fill="#111"/>
<line x1="69.00" y1="429.30" x2="69.00" y2="593.50" stroke="#111" stroke-width="1.6" />
<line x1="64.20" y1="592.80" x2="69.00" y2="592.80" stroke="#111" stroke-width="1.3" />
<text x="59.00" y="596.60" font-size="11.4" text-anchor="end" font-weight="normal" fill="#111" textLength="6.4" lengthAdjust="spacingAndGlyphs" >0</text>
<line x1="64.20" y1="560.93" x2="69.00" y2="560.93" stroke="#111" stroke-width="1.3" />
<text x="59.00" y="564.73" font-size="11.4" text-anchor="end" font-weight="normal" fill="#111" textLength="13.4" lengthAdjust="spacingAndGlyphs" >20</text>
<line x1="64.20" y1="529.06" x2="69.00" y2="529.06" stroke="#111" stroke-width="1.3" />
<text x="59.00" y="532.86" font-size="11.4" text-anchor="end" font-weight="normal" fill="#111" textLength="13.4" lengthAdjust="spacingAndGlyphs" >40</text>
<line x1="64.20" y1="497.19" x2="69.00" y2="497.19" stroke="#111" stroke-width="1.3" />
<text x="59.00" y="500.99" font-size="11.4" text-anchor="end" font-weight="normal" fill="#111" textLength="13.4" lengthAdjust="spacingAndGlyphs" >60</text>
<line x1="64.20" y1="465.32" x2="69.00" y2="465.32" stroke="#111" stroke-width="1.3" />
<text x="59.00" y="469.12" font-size="11.4" text-anchor="end" font-weight="normal" fill="#111" textLength="13.4" lengthAdjust="spacingAndGlyphs" >80</text>
<line x1="64.20" y1="433.45" x2="69.00" y2="433.45" stroke="#111" stroke-width="1.3" />
<text x="59.00" y="437.25" font-size="11.4" text-anchor="end" font-weight="normal" fill="#111" textLength="19.7" lengthAdjust="spacingAndGlyphs" >100</text>
<line x1="68.20" y1="592.80" x2="208.30" y2="592.80" stroke="#111" stroke-width="1.6" />
<line x1="86.00" y1="592.80" x2="86.00" y2="597.80" stroke="#111" stroke-width="1.3" />
<line x1="111.80" y1="592.80" x2="111.80" y2="597.80" stroke="#111" stroke-width="1.3" />
<line x1="137.70" y1="592.80" x2="137.70" y2="597.80" stroke="#111" stroke-width="1.3" />
<line x1="163.60" y1="592.80" x2="163.60" y2="597.80" stroke="#111" stroke-width="1.3" />
<line x1="189.50" y1="592.80" x2="189.50" y2="597.80" stroke="#111" stroke-width="1.3" />
<text transform="translate(29.6,545.9) rotate(-90)" font-size="14.5" fill="#111" style="stroke:#111;stroke-width:0.35px" textLength="69.6" lengthAdjust="spacingAndGlyphs">Ecto<tspan dy="-4.5" font-size="8">+</tspan><tspan dy="4.5"> ILC3 (%)</tspan></text>
<line x1="111.90" y1="454.75" x2="162.10" y2="454.75" stroke="#222" stroke-width="1.3" />
<polygon points="145.30,446.30 145.86,447.64 147.30,447.75 146.20,448.69 146.53,450.10 145.30,449.34 144.07,450.10 144.40,448.69 143.30,447.75 144.74,447.64" fill="#111"/>
<line x1="130.00" y1="470.90" x2="159.80" y2="470.90" stroke="#222" stroke-width="1.3" />
<polygon points="146.60,462.50 147.16,463.84 148.60,463.95 147.50,464.89 147.83,466.30 146.60,465.55 145.37,466.30 145.70,464.89 144.60,463.95 146.04,463.84" fill="#111"/>
<text x="27.30" y="617.50" font-size="10.7" text-anchor="start" font-weight="normal" fill="#111" >IL-2</text>
<text x="27.30" y="635.50" font-size="10.7" text-anchor="start" font-weight="normal" fill="#111" >IL-1b</text>
<text x="27.30" y="653.30" font-size="10.7" text-anchor="start" font-weight="normal" fill="#111" >RA</text>
<path d="M84.90,614.30H87.10" stroke="#222" stroke-width="0.95" fill="none"/>
<path d="M110.70,614.30H112.90" stroke="#222" stroke-width="0.95" fill="none"/>
<path d="M134.30,614.20H141.10M137.70,610.80V617.60" stroke="#111" stroke-width="1.0" fill="none"/>
<path d="M160.20,614.20H167.00M163.60,610.80V617.60" stroke="#111" stroke-width="1.0" fill="none"/>
<path d="M186.10,614.20H192.90M189.50,610.80V617.60" stroke="#111" stroke-width="1.0" fill="none"/>
<path d="M84.90,632.30H87.10" stroke="#222" stroke-width="0.95" fill="none"/>
<path d="M110.70,632.30H112.90" stroke="#222" stroke-width="0.95" fill="none"/>
<path d="M136.60,632.30H138.80" stroke="#222" stroke-width="0.95" fill="none"/>
<path d="M160.20,632.20H167.00M163.60,628.80V635.60" stroke="#111" stroke-width="1.0" fill="none"/>
<path d="M188.40,632.30H190.60" stroke="#222" stroke-width="0.95" fill="none"/>
<path d="M84.90,650.10H87.10" stroke="#222" stroke-width="0.95" fill="none"/>
<path d="M110.70,650.10H112.90" stroke="#222" stroke-width="0.95" fill="none"/>
<path d="M136.60,650.10H138.80" stroke="#222" stroke-width="0.95" fill="none"/>
<path d="M162.50,650.10H164.70" stroke="#222" stroke-width="0.95" fill="none"/>
<path d="M186.10,650.00H192.90M189.50,646.60V653.40" stroke="#111" stroke-width="1.0" fill="none"/>
<line x1="73.80" y1="666.90" x2="97.90" y2="666.90" stroke="#111" stroke-width="1.5" />
<line x1="108.00" y1="666.90" x2="201.20" y2="666.90" stroke="#111" stroke-width="1.5" />
<text x="86.15" y="682.20" font-size="11.6" text-anchor="middle" font-weight="normal" fill="#111" >fresh</text>
<text x="154.40" y="682.20" font-size="11.6" text-anchor="middle" font-weight="normal" fill="#111" >day3</text>
<circle cx="81.50" cy="570.80" r="3.65" fill="#c4112f" stroke="#000" stroke-width="1.1"/>
<circle cx="85.20" cy="564.60" r="3.65" fill="#c4112f" stroke="#000" stroke-width="1.1"/>
<circle cx="88.30" cy="569.20" r="3.65" fill="#c4112f" stroke="#000" stroke-width="1.1"/>
<circle cx="90.80" cy="565.20" r="3.65" fill="#c4112f" stroke="#000" stroke-width="1.1"/>
<circle cx="106.90" cy="568.80" r="3.65" fill="#30599b" stroke="#000" stroke-width="1.1"/>
<circle cx="110.00" cy="566.20" r="3.65" fill="#30599b" stroke="#000" stroke-width="1.1"/>
<circle cx="113.80" cy="570.00" r="3.65" fill="#30599b" stroke="#000" stroke-width="1.1"/>
<circle cx="116.90" cy="567.20" r="3.65" fill="#30599b" stroke="#000" stroke-width="1.1"/>
<line x1="137.90" y1="575.00" x2="137.90" y2="583.40" stroke="#111" stroke-width="1.2" />
<circle cx="137.90" cy="565.80" r="3.65" fill="#6dbd45" stroke="#000" stroke-width="1.1"/>
<circle cx="132.70" cy="572.50" r="3.65" fill="#6dbd45" stroke="#000" stroke-width="1.1"/>
<circle cx="143.10" cy="572.50" r="3.65" fill="#6dbd45" stroke="#000" stroke-width="1.1"/>
<circle cx="138.30" cy="573.10" r="3.65" fill="#6dbd45" stroke="#000" stroke-width="1.1"/>
<circle cx="132.90" cy="583.40" r="3.65" fill="#6dbd45" stroke="#000" stroke-width="1.1"/>
<circle cx="142.60" cy="583.40" r="3.65" fill="#6dbd45" stroke="#000" stroke-width="1.1"/>
<line x1="163.50" y1="493.60" x2="163.50" y2="544.40" stroke="#222" stroke-width="1.3" />
<line x1="159.80" y1="493.60" x2="167.50" y2="493.60" stroke="#222" stroke-width="1.3" />
<line x1="159.80" y1="544.40" x2="167.50" y2="544.40" stroke="#222" stroke-width="1.3" />
<line x1="155.40" y1="519.00" x2="171.80" y2="519.00" stroke="#222" stroke-width="1.3" />
<circle cx="158.80" cy="489.00" r="3.65" fill="#5b2a7c" stroke="#000" stroke-width="1.1"/>
<circle cx="168.40" cy="489.00" r="3.65" fill="#5b2a7c" stroke="#000" stroke-width="1.1"/>
<circle cx="163.50" cy="517.80" r="3.65" fill="#5b2a7c" stroke="#000" stroke-width="1.1"/>
<circle cx="168.40" cy="530.20" r="3.65" fill="#5b2a7c" stroke="#000" stroke-width="1.1"/>
<circle cx="163.50" cy="533.90" r="3.65" fill="#5b2a7c" stroke="#000" stroke-width="1.1"/>
<circle cx="163.50" cy="552.90" r="3.65" fill="#5b2a7c" stroke="#000" stroke-width="1.1"/>
<line x1="181.00" y1="560.60" x2="198.00" y2="560.60" stroke="#111" stroke-width="1.3" />
<line x1="183.00" y1="563.80" x2="196.50" y2="563.80" stroke="#111" stroke-width="1.2" />
<path d="M187.80,554.30 L191.70,561.00 L183.90,561.00 Z" fill="#f4a11d" stroke="#000" stroke-width="1.1" stroke-linejoin="miter"/>
<path d="M191.80,553.10 L195.70,559.80 L187.90,559.80 Z" fill="#f4a11d" stroke="#000" stroke-width="1.1" stroke-linejoin="miter"/>
<path d="M194.80,557.30 L198.70,564.00 L190.90,564.00 Z" fill="#f4a11d" stroke="#000" stroke-width="1.1" stroke-linejoin="miter"/>
<path d="M185.10,561.30 L189.00,568.00 L181.20,568.00 Z" fill="#f4a11d" stroke="#000" stroke-width="1.1" stroke-linejoin="miter"/>
<path d="M190.60,561.10 L194.50,567.80 L186.70,567.80 Z" fill="#f4a11d" stroke="#000" stroke-width="1.1" stroke-linejoin="miter"/>
<line x1="181.00" y1="560.60" x2="198.00" y2="560.60" stroke="#111" stroke-width="1.3" />
<line x1="190.50" y1="563.90" x2="198.00" y2="563.90" stroke="#111" stroke-width="1.2" />
<line x1="289.70" y1="429.30" x2="289.70" y2="593.50" stroke="#111" stroke-width="1.6" />
<line x1="284.90" y1="592.80" x2="289.70" y2="592.80" stroke="#111" stroke-width="1.3" />
<text x="279.60" y="596.60" font-size="11.4" text-anchor="end" font-weight="normal" fill="#111" textLength="6.4" lengthAdjust="spacingAndGlyphs" >0</text>
<line x1="284.90" y1="560.93" x2="289.70" y2="560.93" stroke="#111" stroke-width="1.3" />
<text x="279.60" y="564.73" font-size="11.4" text-anchor="end" font-weight="normal" fill="#111" textLength="13.4" lengthAdjust="spacingAndGlyphs" >20</text>
<line x1="284.90" y1="529.06" x2="289.70" y2="529.06" stroke="#111" stroke-width="1.3" />
<text x="279.60" y="532.86" font-size="11.4" text-anchor="end" font-weight="normal" fill="#111" textLength="13.4" lengthAdjust="spacingAndGlyphs" >40</text>
<line x1="284.90" y1="497.19" x2="289.70" y2="497.19" stroke="#111" stroke-width="1.3" />
<text x="279.60" y="500.99" font-size="11.4" text-anchor="end" font-weight="normal" fill="#111" textLength="13.4" lengthAdjust="spacingAndGlyphs" >60</text>
<line x1="284.90" y1="465.32" x2="289.70" y2="465.32" stroke="#111" stroke-width="1.3" />
<text x="279.60" y="469.12" font-size="11.4" text-anchor="end" font-weight="normal" fill="#111" textLength="13.4" lengthAdjust="spacingAndGlyphs" >80</text>
<line x1="284.90" y1="433.45" x2="289.70" y2="433.45" stroke="#111" stroke-width="1.3" />
<text x="279.60" y="437.25" font-size="11.4" text-anchor="end" font-weight="normal" fill="#111" textLength="19.7" lengthAdjust="spacingAndGlyphs" >100</text>
<line x1="288.90" y1="592.80" x2="433.50" y2="592.80" stroke="#111" stroke-width="1.6" />
<line x1="312.30" y1="592.80" x2="312.30" y2="597.80" stroke="#111" stroke-width="1.3" />
<line x1="338.10" y1="592.80" x2="338.10" y2="597.80" stroke="#111" stroke-width="1.3" />
<line x1="364.00" y1="592.80" x2="364.00" y2="597.80" stroke="#111" stroke-width="1.3" />
<line x1="389.80" y1="592.80" x2="389.80" y2="597.80" stroke="#111" stroke-width="1.3" />
<line x1="415.60" y1="592.80" x2="415.60" y2="597.80" stroke="#111" stroke-width="1.3" />
<text transform="translate(250.1,545.9) rotate(-90)" font-size="14.5" fill="#111" style="stroke:#111;stroke-width:0.35px" textLength="69.6" lengthAdjust="spacingAndGlyphs">Ecto<tspan dy="-4.5" font-size="8">+</tspan><tspan dy="4.5"> ILC3 (%)</tspan></text>
<line x1="335.30" y1="499.60" x2="386.90" y2="499.60" stroke="#222" stroke-width="1.3" />
<polygon points="373.10,490.30 373.68,491.70 375.19,491.82 374.04,492.81 374.39,494.28 373.10,493.49 371.81,494.28 372.16,492.81 371.01,491.82 372.52,491.70" fill="#111"/>
<line x1="359.00" y1="517.00" x2="388.80" y2="517.00" stroke="#222" stroke-width="1.3" />
<text x="376.00" y="514.00" font-size="11" text-anchor="middle" font-weight="normal" fill="#111" >ns</text>
<path d="M311.20,614.30H313.40" stroke="#222" stroke-width="0.95" fill="none"/>
<path d="M337.00,614.30H339.20" stroke="#222" stroke-width="0.95" fill="none"/>
<path d="M360.60,614.20H367.40M364.00,610.80V617.60" stroke="#111" stroke-width="1.0" fill="none"/>
<path d="M386.40,614.20H393.20M389.80,610.80V617.60" stroke="#111" stroke-width="1.0" fill="none"/>
<path d="M412.20,614.20H419.00M415.60,610.80V617.60" stroke="#111" stroke-width="1.0" fill="none"/>
<path d="M311.20,632.30H313.40" stroke="#222" stroke-width="0.95" fill="none"/>
<path d="M337.00,632.30H339.20" stroke="#222" stroke-width="0.95" fill="none"/>
<path d="M362.90,632.30H365.10" stroke="#222" stroke-width="0.95" fill="none"/>
<path d="M386.40,632.20H393.20M389.80,628.80V635.60" stroke="#111" stroke-width="1.0" fill="none"/>
<path d="M414.50,632.30H416.70" stroke="#222" stroke-width="0.95" fill="none"/>
<path d="M311.20,650.10H313.40" stroke="#222" stroke-width="0.95" fill="none"/>
<path d="M337.00,650.10H339.20" stroke="#222" stroke-width="0.95" fill="none"/>
<path d="M362.90,650.10H365.10" stroke="#222" stroke-width="0.95" fill="none"/>
<path d="M388.70,650.10H390.90" stroke="#222" stroke-width="0.95" fill="none"/>
<path d="M412.20,650.00H419.00M415.60,646.60V653.40" stroke="#111" stroke-width="1.0" fill="none"/>
<line x1="300.10" y1="666.90" x2="324.00" y2="666.90" stroke="#111" stroke-width="1.5" />
<line x1="335.30" y1="666.90" x2="427.90" y2="666.90" stroke="#111" stroke-width="1.5" />
<text x="311.90" y="682.20" font-size="11.6" text-anchor="middle" font-weight="normal" fill="#111" >fresh</text>
<text x="381.15" y="682.20" font-size="11.6" text-anchor="middle" font-weight="normal" fill="#111" >day3</text>
<line x1="304.00" y1="580.00" x2="320.60" y2="580.00" stroke="#222" stroke-width="1.3" />
<line x1="312.30" y1="575.40" x2="312.30" y2="584.60" stroke="#222" stroke-width="1.2" />
<line x1="308.50" y1="575.40" x2="316.20" y2="575.40" stroke="#222" stroke-width="1.2" />
<circle cx="312.70" cy="583.40" r="3.65" fill="#c4112f" stroke="#000" stroke-width="1.1"/>
<circle cx="317.30" cy="577.40" r="3.65" fill="#c4112f" stroke="#000" stroke-width="1.1"/>
<line x1="333.00" y1="587.00" x2="344.00" y2="587.00" stroke="#222" stroke-width="1.2" />
<circle cx="332.70" cy="587.70" r="3.65" fill="#30599b" stroke="#000" stroke-width="1.1"/>
<circle cx="336.50" cy="587.70" r="3.65" fill="#30599b" stroke="#000" stroke-width="1.1"/>
<circle cx="340.40" cy="587.70" r="3.65" fill="#30599b" stroke="#000" stroke-width="1.1"/>
<circle cx="343.90" cy="587.70" r="3.65" fill="#30599b" stroke="#000" stroke-width="1.1"/>
<line x1="355.80" y1="582.30" x2="372.20" y2="582.30" stroke="#222" stroke-width="1.3" />
<circle cx="359.60" cy="576.20" r="3.65" fill="#6dbd45" stroke="#000" stroke-width="1.1"/>
<circle cx="358.10" cy="584.60" r="3.65" fill="#6dbd45" stroke="#000" stroke-width="1.1"/>
<circle cx="364.20" cy="581.50" r="3.65" fill="#6dbd45" stroke="#000" stroke-width="1.1"/>
<circle cx="369.60" cy="581.50" r="3.65" fill="#6dbd45" stroke="#000" stroke-width="1.1"/>
<line x1="389.90" y1="532.00" x2="389.90" y2="569.80" stroke="#222" stroke-width="1.3" />
<line x1="386.20" y1="569.80" x2="394.00" y2="569.80" stroke="#222" stroke-width="1.3" />
<line x1="381.40" y1="550.70" x2="398.00" y2="550.70" stroke="#222" stroke-width="1.3" />
<circle cx="389.90" cy="532.40" r="3.65" fill="#5b2a7c" stroke="#000" stroke-width="1.1"/>
<circle cx="389.90" cy="540.60" r="3.65" fill="#5b2a7c" stroke="#000" stroke-width="1.1"/>
<circle cx="389.90" cy="550.70" r="3.65" fill="#5b2a7c" stroke="#000" stroke-width="1.1"/>
<circle cx="389.90" cy="577.20" r="3.65" fill="#5b2a7c" stroke="#000" stroke-width="1.1"/>
<line x1="407.70" y1="583.00" x2="424.00" y2="583.00" stroke="#222" stroke-width="1.3" />
<path d="M414.40,576.70 L418.30,583.40 L410.50,583.40 Z" fill="#f4a11d" stroke="#000" stroke-width="1.1" stroke-linejoin="miter"/>
<path d="M421.10,578.90 L425.00,585.60 L417.20,585.60 Z" fill="#f4a11d" stroke="#000" stroke-width="1.1" stroke-linejoin="miter"/>
<path d="M417.40,580.90 L421.30,587.60 L413.50,587.60 Z" fill="#f4a11d" stroke="#000" stroke-width="1.1" stroke-linejoin="miter"/>
<path d="M411.40,583.90 L415.30,590.60 L407.50,590.60 Z" fill="#f4a11d" stroke="#000" stroke-width="1.1" stroke-linejoin="miter"/>
<line x1="407.70" y1="583.00" x2="410.50" y2="583.00" stroke="#222" stroke-width="1.3" />
<rect x="0.8" y="0.8" width="518.2" height="695.2" fill="none" stroke="#000" stroke-width="1.9"/>
</svg>
</body></html>
